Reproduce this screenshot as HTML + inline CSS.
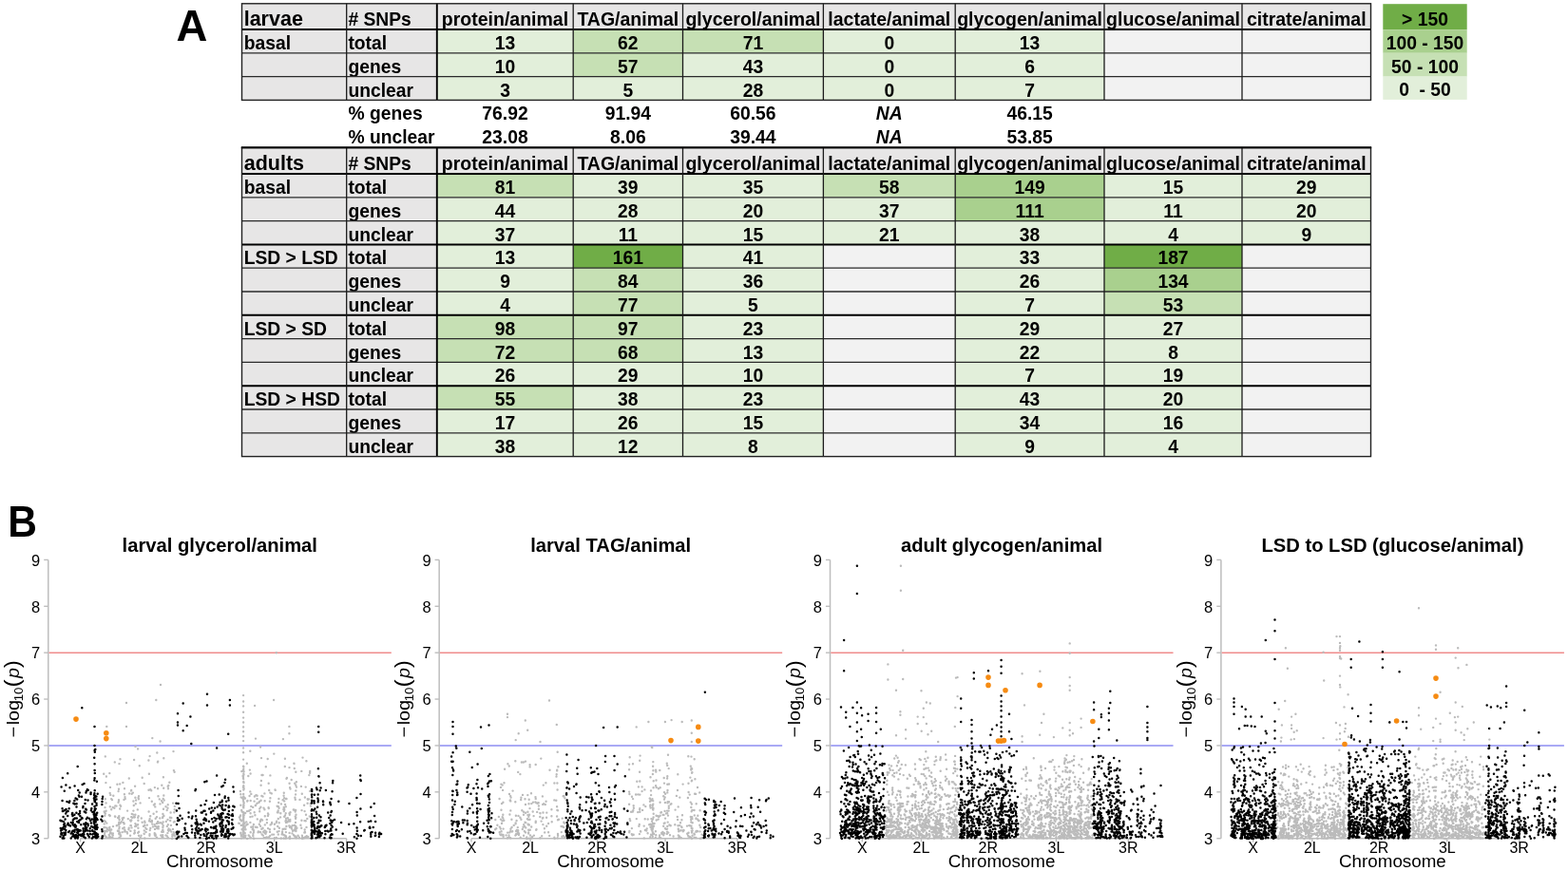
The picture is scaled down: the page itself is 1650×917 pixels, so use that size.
<!DOCTYPE html>
<html><head><meta charset="utf-8"><style>
html,body{margin:0;padding:0;background:#fff;width:1650px;height:917px;overflow:hidden}
svg{display:block}
</style></head><body>
<svg width="1650" height="917" viewBox="0 0 1650 917">
<g font-family="'Liberation Sans', Arial, sans-serif" fill="#000">
<rect x="254.5" y="3.8" width="1188.0" height="27.2" fill="#E7E6E6"/>
<rect x="254.5" y="31.0" width="205.3" height="74.4" fill="#E7E6E6"/>
<rect x="459.8" y="31.00" width="143.40" height="24.80" fill="#E2EFDA"/>
<rect x="603.2" y="31.00" width="115.30" height="24.80" fill="#C6E0B4"/>
<rect x="718.5" y="31.00" width="147.90" height="24.80" fill="#C6E0B4"/>
<rect x="866.4" y="31.00" width="138.80" height="24.80" fill="#E2EFDA"/>
<rect x="1005.2" y="31.00" width="156.80" height="24.80" fill="#E2EFDA"/>
<rect x="1162.0" y="31.00" width="145.00" height="24.80" fill="#F2F2F2"/>
<rect x="1307.0" y="31.00" width="135.50" height="24.80" fill="#F2F2F2"/>
<rect x="459.8" y="55.80" width="143.40" height="24.80" fill="#E2EFDA"/>
<rect x="603.2" y="55.80" width="115.30" height="24.80" fill="#C6E0B4"/>
<rect x="718.5" y="55.80" width="147.90" height="24.80" fill="#E2EFDA"/>
<rect x="866.4" y="55.80" width="138.80" height="24.80" fill="#E2EFDA"/>
<rect x="1005.2" y="55.80" width="156.80" height="24.80" fill="#E2EFDA"/>
<rect x="1162.0" y="55.80" width="145.00" height="24.80" fill="#F2F2F2"/>
<rect x="1307.0" y="55.80" width="135.50" height="24.80" fill="#F2F2F2"/>
<rect x="459.8" y="80.60" width="143.40" height="24.80" fill="#E2EFDA"/>
<rect x="603.2" y="80.60" width="115.30" height="24.80" fill="#E2EFDA"/>
<rect x="718.5" y="80.60" width="147.90" height="24.80" fill="#E2EFDA"/>
<rect x="866.4" y="80.60" width="138.80" height="24.80" fill="#E2EFDA"/>
<rect x="1005.2" y="80.60" width="156.80" height="24.80" fill="#E2EFDA"/>
<rect x="1162.0" y="80.60" width="145.00" height="24.80" fill="#F2F2F2"/>
<rect x="1307.0" y="80.60" width="135.50" height="24.80" fill="#F2F2F2"/>
<text x="256.7" y="27.10" font-size="21.5" font-weight="bold">larvae</text>
<text x="366.4" y="27.10" font-size="19.3" font-weight="bold"># SNPs</text>
<text x="531.50" y="27.10" font-size="19.5" font-weight="bold" text-anchor="middle">protein/animal</text>
<text x="660.85" y="27.10" font-size="19.5" font-weight="bold" text-anchor="middle">TAG/animal</text>
<text x="792.45" y="27.10" font-size="19.5" font-weight="bold" text-anchor="middle">glycerol/animal</text>
<text x="935.80" y="27.10" font-size="19.5" font-weight="bold" text-anchor="middle">lactate/animal</text>
<text x="1083.60" y="27.10" font-size="19.5" font-weight="bold" text-anchor="middle">glycogen/animal</text>
<text x="1234.50" y="27.10" font-size="19.5" font-weight="bold" text-anchor="middle">glucose/animal</text>
<text x="1374.75" y="27.10" font-size="19.5" font-weight="bold" text-anchor="middle">citrate/animal</text>
<text x="256.7" y="52.00" font-size="19.3" font-weight="bold">basal</text>
<text x="366.4" y="52.00" font-size="19.3" font-weight="bold">total</text>
<text x="531.50" y="52.00" font-size="19.3" font-weight="bold" text-anchor="middle">13</text>
<text x="660.85" y="52.00" font-size="19.3" font-weight="bold" text-anchor="middle">62</text>
<text x="792.45" y="52.00" font-size="19.3" font-weight="bold" text-anchor="middle">71</text>
<text x="935.80" y="52.00" font-size="19.3" font-weight="bold" text-anchor="middle">0</text>
<text x="1083.60" y="52.00" font-size="19.3" font-weight="bold" text-anchor="middle">13</text>
<text x="366.4" y="76.80" font-size="19.3" font-weight="bold">genes</text>
<text x="531.50" y="76.80" font-size="19.3" font-weight="bold" text-anchor="middle">10</text>
<text x="660.85" y="76.80" font-size="19.3" font-weight="bold" text-anchor="middle">57</text>
<text x="792.45" y="76.80" font-size="19.3" font-weight="bold" text-anchor="middle">43</text>
<text x="935.80" y="76.80" font-size="19.3" font-weight="bold" text-anchor="middle">0</text>
<text x="1083.60" y="76.80" font-size="19.3" font-weight="bold" text-anchor="middle">6</text>
<text x="366.4" y="101.60" font-size="19.3" font-weight="bold">unclear</text>
<text x="531.50" y="101.60" font-size="19.3" font-weight="bold" text-anchor="middle">3</text>
<text x="660.85" y="101.60" font-size="19.3" font-weight="bold" text-anchor="middle">5</text>
<text x="792.45" y="101.60" font-size="19.3" font-weight="bold" text-anchor="middle">28</text>
<text x="935.80" y="101.60" font-size="19.3" font-weight="bold" text-anchor="middle">0</text>
<text x="1083.60" y="101.60" font-size="19.3" font-weight="bold" text-anchor="middle">7</text>
<line x1="254.5" x2="1442.5" y1="31.00" y2="31.00" stroke="#000" stroke-width="2"/>
<line x1="254.5" x2="1442.5" y1="55.80" y2="55.80" stroke="#2a2a2a" stroke-width="1.3"/>
<line x1="254.5" x2="1442.5" y1="80.60" y2="80.60" stroke="#2a2a2a" stroke-width="1.3"/>
<line x1="364.7" x2="364.7" y1="3.8" y2="105.40" stroke="#1a1a1a" stroke-width="1.3"/>
<line x1="459.8" x2="459.8" y1="3.8" y2="105.40" stroke="#000" stroke-width="1.9"/>
<line x1="603.2" x2="603.2" y1="3.8" y2="105.40" stroke="#1a1a1a" stroke-width="1.3"/>
<line x1="718.5" x2="718.5" y1="3.8" y2="105.40" stroke="#1a1a1a" stroke-width="1.3"/>
<line x1="866.4" x2="866.4" y1="3.8" y2="105.40" stroke="#1a1a1a" stroke-width="1.3"/>
<line x1="1005.2" x2="1005.2" y1="3.8" y2="105.40" stroke="#1a1a1a" stroke-width="1.3"/>
<line x1="1162.0" x2="1162.0" y1="3.8" y2="105.40" stroke="#1a1a1a" stroke-width="1.3"/>
<line x1="1307.0" x2="1307.0" y1="3.8" y2="105.40" stroke="#1a1a1a" stroke-width="1.3"/>
<rect x="254.5" y="3.8" width="1188.0" height="101.60" fill="none" stroke="#222" stroke-width="1.4"/>
<text x="366.4" y="126.40" font-size="19.3" font-weight="bold">% genes</text>
<text x="531.50" y="126.40" font-size="19.3" font-weight="bold" text-anchor="middle">76.92</text>
<text x="660.85" y="126.40" font-size="19.3" font-weight="bold" text-anchor="middle">91.94</text>
<text x="792.45" y="126.40" font-size="19.3" font-weight="bold" text-anchor="middle">60.56</text>
<text x="935.80" y="126.40" font-size="19.3" font-weight="bold" font-style="italic" text-anchor="middle">NA</text>
<text x="1083.60" y="126.40" font-size="19.3" font-weight="bold" text-anchor="middle">46.15</text>
<text x="366.4" y="151.20" font-size="19.3" font-weight="bold">% unclear</text>
<text x="531.50" y="151.20" font-size="19.3" font-weight="bold" text-anchor="middle">23.08</text>
<text x="660.85" y="151.20" font-size="19.3" font-weight="bold" text-anchor="middle">8.06</text>
<text x="792.45" y="151.20" font-size="19.3" font-weight="bold" text-anchor="middle">39.44</text>
<text x="935.80" y="151.20" font-size="19.3" font-weight="bold" font-style="italic" text-anchor="middle">NA</text>
<text x="1083.60" y="151.20" font-size="19.3" font-weight="bold" text-anchor="middle">53.85</text>
<rect x="254.5" y="155.6" width="1188.0" height="27.400000000000006" fill="#E7E6E6"/>
<rect x="254.5" y="183.0" width="205.3" height="297.6" fill="#E7E6E6"/>
<rect x="459.8" y="183.00" width="143.40" height="24.80" fill="#C6E0B4"/>
<rect x="603.2" y="183.00" width="115.30" height="24.80" fill="#E2EFDA"/>
<rect x="718.5" y="183.00" width="147.90" height="24.80" fill="#E2EFDA"/>
<rect x="866.4" y="183.00" width="138.80" height="24.80" fill="#C6E0B4"/>
<rect x="1005.2" y="183.00" width="156.80" height="24.80" fill="#A9D08E"/>
<rect x="1162.0" y="183.00" width="145.00" height="24.80" fill="#E2EFDA"/>
<rect x="1307.0" y="183.00" width="135.50" height="24.80" fill="#E2EFDA"/>
<rect x="459.8" y="207.80" width="143.40" height="24.80" fill="#E2EFDA"/>
<rect x="603.2" y="207.80" width="115.30" height="24.80" fill="#E2EFDA"/>
<rect x="718.5" y="207.80" width="147.90" height="24.80" fill="#E2EFDA"/>
<rect x="866.4" y="207.80" width="138.80" height="24.80" fill="#E2EFDA"/>
<rect x="1005.2" y="207.80" width="156.80" height="24.80" fill="#A9D08E"/>
<rect x="1162.0" y="207.80" width="145.00" height="24.80" fill="#E2EFDA"/>
<rect x="1307.0" y="207.80" width="135.50" height="24.80" fill="#E2EFDA"/>
<rect x="459.8" y="232.60" width="143.40" height="24.80" fill="#E2EFDA"/>
<rect x="603.2" y="232.60" width="115.30" height="24.80" fill="#E2EFDA"/>
<rect x="718.5" y="232.60" width="147.90" height="24.80" fill="#E2EFDA"/>
<rect x="866.4" y="232.60" width="138.80" height="24.80" fill="#E2EFDA"/>
<rect x="1005.2" y="232.60" width="156.80" height="24.80" fill="#E2EFDA"/>
<rect x="1162.0" y="232.60" width="145.00" height="24.80" fill="#E2EFDA"/>
<rect x="1307.0" y="232.60" width="135.50" height="24.80" fill="#E2EFDA"/>
<rect x="459.8" y="257.40" width="143.40" height="24.80" fill="#E2EFDA"/>
<rect x="603.2" y="257.40" width="115.30" height="24.80" fill="#70AD47"/>
<rect x="718.5" y="257.40" width="147.90" height="24.80" fill="#E2EFDA"/>
<rect x="866.4" y="257.40" width="138.80" height="24.80" fill="#F2F2F2"/>
<rect x="1005.2" y="257.40" width="156.80" height="24.80" fill="#E2EFDA"/>
<rect x="1162.0" y="257.40" width="145.00" height="24.80" fill="#70AD47"/>
<rect x="1307.0" y="257.40" width="135.50" height="24.80" fill="#F2F2F2"/>
<rect x="459.8" y="282.20" width="143.40" height="24.80" fill="#E2EFDA"/>
<rect x="603.2" y="282.20" width="115.30" height="24.80" fill="#C6E0B4"/>
<rect x="718.5" y="282.20" width="147.90" height="24.80" fill="#E2EFDA"/>
<rect x="866.4" y="282.20" width="138.80" height="24.80" fill="#F2F2F2"/>
<rect x="1005.2" y="282.20" width="156.80" height="24.80" fill="#E2EFDA"/>
<rect x="1162.0" y="282.20" width="145.00" height="24.80" fill="#A9D08E"/>
<rect x="1307.0" y="282.20" width="135.50" height="24.80" fill="#F2F2F2"/>
<rect x="459.8" y="307.00" width="143.40" height="24.80" fill="#E2EFDA"/>
<rect x="603.2" y="307.00" width="115.30" height="24.80" fill="#C6E0B4"/>
<rect x="718.5" y="307.00" width="147.90" height="24.80" fill="#E2EFDA"/>
<rect x="866.4" y="307.00" width="138.80" height="24.80" fill="#F2F2F2"/>
<rect x="1005.2" y="307.00" width="156.80" height="24.80" fill="#E2EFDA"/>
<rect x="1162.0" y="307.00" width="145.00" height="24.80" fill="#C6E0B4"/>
<rect x="1307.0" y="307.00" width="135.50" height="24.80" fill="#F2F2F2"/>
<rect x="459.8" y="331.80" width="143.40" height="24.80" fill="#C6E0B4"/>
<rect x="603.2" y="331.80" width="115.30" height="24.80" fill="#C6E0B4"/>
<rect x="718.5" y="331.80" width="147.90" height="24.80" fill="#E2EFDA"/>
<rect x="866.4" y="331.80" width="138.80" height="24.80" fill="#F2F2F2"/>
<rect x="1005.2" y="331.80" width="156.80" height="24.80" fill="#E2EFDA"/>
<rect x="1162.0" y="331.80" width="145.00" height="24.80" fill="#E2EFDA"/>
<rect x="1307.0" y="331.80" width="135.50" height="24.80" fill="#F2F2F2"/>
<rect x="459.8" y="356.60" width="143.40" height="24.80" fill="#C6E0B4"/>
<rect x="603.2" y="356.60" width="115.30" height="24.80" fill="#C6E0B4"/>
<rect x="718.5" y="356.60" width="147.90" height="24.80" fill="#E2EFDA"/>
<rect x="866.4" y="356.60" width="138.80" height="24.80" fill="#F2F2F2"/>
<rect x="1005.2" y="356.60" width="156.80" height="24.80" fill="#E2EFDA"/>
<rect x="1162.0" y="356.60" width="145.00" height="24.80" fill="#E2EFDA"/>
<rect x="1307.0" y="356.60" width="135.50" height="24.80" fill="#F2F2F2"/>
<rect x="459.8" y="381.40" width="143.40" height="24.80" fill="#E2EFDA"/>
<rect x="603.2" y="381.40" width="115.30" height="24.80" fill="#E2EFDA"/>
<rect x="718.5" y="381.40" width="147.90" height="24.80" fill="#E2EFDA"/>
<rect x="866.4" y="381.40" width="138.80" height="24.80" fill="#F2F2F2"/>
<rect x="1005.2" y="381.40" width="156.80" height="24.80" fill="#E2EFDA"/>
<rect x="1162.0" y="381.40" width="145.00" height="24.80" fill="#E2EFDA"/>
<rect x="1307.0" y="381.40" width="135.50" height="24.80" fill="#F2F2F2"/>
<rect x="459.8" y="406.20" width="143.40" height="24.80" fill="#C6E0B4"/>
<rect x="603.2" y="406.20" width="115.30" height="24.80" fill="#E2EFDA"/>
<rect x="718.5" y="406.20" width="147.90" height="24.80" fill="#E2EFDA"/>
<rect x="866.4" y="406.20" width="138.80" height="24.80" fill="#F2F2F2"/>
<rect x="1005.2" y="406.20" width="156.80" height="24.80" fill="#E2EFDA"/>
<rect x="1162.0" y="406.20" width="145.00" height="24.80" fill="#E2EFDA"/>
<rect x="1307.0" y="406.20" width="135.50" height="24.80" fill="#F2F2F2"/>
<rect x="459.8" y="431.00" width="143.40" height="24.80" fill="#E2EFDA"/>
<rect x="603.2" y="431.00" width="115.30" height="24.80" fill="#E2EFDA"/>
<rect x="718.5" y="431.00" width="147.90" height="24.80" fill="#E2EFDA"/>
<rect x="866.4" y="431.00" width="138.80" height="24.80" fill="#F2F2F2"/>
<rect x="1005.2" y="431.00" width="156.80" height="24.80" fill="#E2EFDA"/>
<rect x="1162.0" y="431.00" width="145.00" height="24.80" fill="#E2EFDA"/>
<rect x="1307.0" y="431.00" width="135.50" height="24.80" fill="#F2F2F2"/>
<rect x="459.8" y="455.80" width="143.40" height="24.80" fill="#E2EFDA"/>
<rect x="603.2" y="455.80" width="115.30" height="24.80" fill="#E2EFDA"/>
<rect x="718.5" y="455.80" width="147.90" height="24.80" fill="#E2EFDA"/>
<rect x="866.4" y="455.80" width="138.80" height="24.80" fill="#F2F2F2"/>
<rect x="1005.2" y="455.80" width="156.80" height="24.80" fill="#E2EFDA"/>
<rect x="1162.0" y="455.80" width="145.00" height="24.80" fill="#E2EFDA"/>
<rect x="1307.0" y="455.80" width="135.50" height="24.80" fill="#F2F2F2"/>
<text x="256.7" y="179.10" font-size="21.5" font-weight="bold">adults</text>
<text x="366.4" y="179.10" font-size="19.3" font-weight="bold"># SNPs</text>
<text x="531.50" y="179.10" font-size="19.5" font-weight="bold" text-anchor="middle">protein/animal</text>
<text x="660.85" y="179.10" font-size="19.5" font-weight="bold" text-anchor="middle">TAG/animal</text>
<text x="792.45" y="179.10" font-size="19.5" font-weight="bold" text-anchor="middle">glycerol/animal</text>
<text x="935.80" y="179.10" font-size="19.5" font-weight="bold" text-anchor="middle">lactate/animal</text>
<text x="1083.60" y="179.10" font-size="19.5" font-weight="bold" text-anchor="middle">glycogen/animal</text>
<text x="1234.50" y="179.10" font-size="19.5" font-weight="bold" text-anchor="middle">glucose/animal</text>
<text x="1374.75" y="179.10" font-size="19.5" font-weight="bold" text-anchor="middle">citrate/animal</text>
<text x="256.7" y="204.00" font-size="19.3" font-weight="bold">basal</text>
<text x="366.4" y="204.00" font-size="19.3" font-weight="bold">total</text>
<text x="531.50" y="204.00" font-size="19.3" font-weight="bold" text-anchor="middle">81</text>
<text x="660.85" y="204.00" font-size="19.3" font-weight="bold" text-anchor="middle">39</text>
<text x="792.45" y="204.00" font-size="19.3" font-weight="bold" text-anchor="middle">35</text>
<text x="935.80" y="204.00" font-size="19.3" font-weight="bold" text-anchor="middle">58</text>
<text x="1083.60" y="204.00" font-size="19.3" font-weight="bold" text-anchor="middle">149</text>
<text x="1234.50" y="204.00" font-size="19.3" font-weight="bold" text-anchor="middle">15</text>
<text x="1374.75" y="204.00" font-size="19.3" font-weight="bold" text-anchor="middle">29</text>
<text x="366.4" y="228.80" font-size="19.3" font-weight="bold">genes</text>
<text x="531.50" y="228.80" font-size="19.3" font-weight="bold" text-anchor="middle">44</text>
<text x="660.85" y="228.80" font-size="19.3" font-weight="bold" text-anchor="middle">28</text>
<text x="792.45" y="228.80" font-size="19.3" font-weight="bold" text-anchor="middle">20</text>
<text x="935.80" y="228.80" font-size="19.3" font-weight="bold" text-anchor="middle">37</text>
<text x="1083.60" y="228.80" font-size="19.3" font-weight="bold" text-anchor="middle">111</text>
<text x="1234.50" y="228.80" font-size="19.3" font-weight="bold" text-anchor="middle">11</text>
<text x="1374.75" y="228.80" font-size="19.3" font-weight="bold" text-anchor="middle">20</text>
<text x="366.4" y="253.60" font-size="19.3" font-weight="bold">unclear</text>
<text x="531.50" y="253.60" font-size="19.3" font-weight="bold" text-anchor="middle">37</text>
<text x="660.85" y="253.60" font-size="19.3" font-weight="bold" text-anchor="middle">11</text>
<text x="792.45" y="253.60" font-size="19.3" font-weight="bold" text-anchor="middle">15</text>
<text x="935.80" y="253.60" font-size="19.3" font-weight="bold" text-anchor="middle">21</text>
<text x="1083.60" y="253.60" font-size="19.3" font-weight="bold" text-anchor="middle">38</text>
<text x="1234.50" y="253.60" font-size="19.3" font-weight="bold" text-anchor="middle">4</text>
<text x="1374.75" y="253.60" font-size="19.3" font-weight="bold" text-anchor="middle">9</text>
<text x="256.7" y="278.40" font-size="19.3" font-weight="bold">LSD &gt; LSD</text>
<text x="366.4" y="278.40" font-size="19.3" font-weight="bold">total</text>
<text x="531.50" y="278.40" font-size="19.3" font-weight="bold" text-anchor="middle">13</text>
<text x="660.85" y="278.40" font-size="19.3" font-weight="bold" text-anchor="middle">161</text>
<text x="792.45" y="278.40" font-size="19.3" font-weight="bold" text-anchor="middle">41</text>
<text x="1083.60" y="278.40" font-size="19.3" font-weight="bold" text-anchor="middle">33</text>
<text x="1234.50" y="278.40" font-size="19.3" font-weight="bold" text-anchor="middle">187</text>
<text x="366.4" y="303.20" font-size="19.3" font-weight="bold">genes</text>
<text x="531.50" y="303.20" font-size="19.3" font-weight="bold" text-anchor="middle">9</text>
<text x="660.85" y="303.20" font-size="19.3" font-weight="bold" text-anchor="middle">84</text>
<text x="792.45" y="303.20" font-size="19.3" font-weight="bold" text-anchor="middle">36</text>
<text x="1083.60" y="303.20" font-size="19.3" font-weight="bold" text-anchor="middle">26</text>
<text x="1234.50" y="303.20" font-size="19.3" font-weight="bold" text-anchor="middle">134</text>
<text x="366.4" y="328.00" font-size="19.3" font-weight="bold">unclear</text>
<text x="531.50" y="328.00" font-size="19.3" font-weight="bold" text-anchor="middle">4</text>
<text x="660.85" y="328.00" font-size="19.3" font-weight="bold" text-anchor="middle">77</text>
<text x="792.45" y="328.00" font-size="19.3" font-weight="bold" text-anchor="middle">5</text>
<text x="1083.60" y="328.00" font-size="19.3" font-weight="bold" text-anchor="middle">7</text>
<text x="1234.50" y="328.00" font-size="19.3" font-weight="bold" text-anchor="middle">53</text>
<text x="256.7" y="352.80" font-size="19.3" font-weight="bold">LSD &gt; SD</text>
<text x="366.4" y="352.80" font-size="19.3" font-weight="bold">total</text>
<text x="531.50" y="352.80" font-size="19.3" font-weight="bold" text-anchor="middle">98</text>
<text x="660.85" y="352.80" font-size="19.3" font-weight="bold" text-anchor="middle">97</text>
<text x="792.45" y="352.80" font-size="19.3" font-weight="bold" text-anchor="middle">23</text>
<text x="1083.60" y="352.80" font-size="19.3" font-weight="bold" text-anchor="middle">29</text>
<text x="1234.50" y="352.80" font-size="19.3" font-weight="bold" text-anchor="middle">27</text>
<text x="366.4" y="377.60" font-size="19.3" font-weight="bold">genes</text>
<text x="531.50" y="377.60" font-size="19.3" font-weight="bold" text-anchor="middle">72</text>
<text x="660.85" y="377.60" font-size="19.3" font-weight="bold" text-anchor="middle">68</text>
<text x="792.45" y="377.60" font-size="19.3" font-weight="bold" text-anchor="middle">13</text>
<text x="1083.60" y="377.60" font-size="19.3" font-weight="bold" text-anchor="middle">22</text>
<text x="1234.50" y="377.60" font-size="19.3" font-weight="bold" text-anchor="middle">8</text>
<text x="366.4" y="402.40" font-size="19.3" font-weight="bold">unclear</text>
<text x="531.50" y="402.40" font-size="19.3" font-weight="bold" text-anchor="middle">26</text>
<text x="660.85" y="402.40" font-size="19.3" font-weight="bold" text-anchor="middle">29</text>
<text x="792.45" y="402.40" font-size="19.3" font-weight="bold" text-anchor="middle">10</text>
<text x="1083.60" y="402.40" font-size="19.3" font-weight="bold" text-anchor="middle">7</text>
<text x="1234.50" y="402.40" font-size="19.3" font-weight="bold" text-anchor="middle">19</text>
<text x="256.7" y="427.20" font-size="19.3" font-weight="bold">LSD &gt; HSD</text>
<text x="366.4" y="427.20" font-size="19.3" font-weight="bold">total</text>
<text x="531.50" y="427.20" font-size="19.3" font-weight="bold" text-anchor="middle">55</text>
<text x="660.85" y="427.20" font-size="19.3" font-weight="bold" text-anchor="middle">38</text>
<text x="792.45" y="427.20" font-size="19.3" font-weight="bold" text-anchor="middle">23</text>
<text x="1083.60" y="427.20" font-size="19.3" font-weight="bold" text-anchor="middle">43</text>
<text x="1234.50" y="427.20" font-size="19.3" font-weight="bold" text-anchor="middle">20</text>
<text x="366.4" y="452.00" font-size="19.3" font-weight="bold">genes</text>
<text x="531.50" y="452.00" font-size="19.3" font-weight="bold" text-anchor="middle">17</text>
<text x="660.85" y="452.00" font-size="19.3" font-weight="bold" text-anchor="middle">26</text>
<text x="792.45" y="452.00" font-size="19.3" font-weight="bold" text-anchor="middle">15</text>
<text x="1083.60" y="452.00" font-size="19.3" font-weight="bold" text-anchor="middle">34</text>
<text x="1234.50" y="452.00" font-size="19.3" font-weight="bold" text-anchor="middle">16</text>
<text x="366.4" y="476.80" font-size="19.3" font-weight="bold">unclear</text>
<text x="531.50" y="476.80" font-size="19.3" font-weight="bold" text-anchor="middle">38</text>
<text x="660.85" y="476.80" font-size="19.3" font-weight="bold" text-anchor="middle">12</text>
<text x="792.45" y="476.80" font-size="19.3" font-weight="bold" text-anchor="middle">8</text>
<text x="1083.60" y="476.80" font-size="19.3" font-weight="bold" text-anchor="middle">9</text>
<text x="1234.50" y="476.80" font-size="19.3" font-weight="bold" text-anchor="middle">4</text>
<line x1="254.5" x2="1442.5" y1="183.00" y2="183.00" stroke="#000" stroke-width="2"/>
<line x1="254.5" x2="1442.5" y1="207.80" y2="207.80" stroke="#2a2a2a" stroke-width="1.3"/>
<line x1="254.5" x2="1442.5" y1="232.60" y2="232.60" stroke="#2a2a2a" stroke-width="1.3"/>
<line x1="254.5" x2="1442.5" y1="257.40" y2="257.40" stroke="#000" stroke-width="2"/>
<line x1="254.5" x2="1442.5" y1="282.20" y2="282.20" stroke="#2a2a2a" stroke-width="1.3"/>
<line x1="254.5" x2="1442.5" y1="307.00" y2="307.00" stroke="#2a2a2a" stroke-width="1.3"/>
<line x1="254.5" x2="1442.5" y1="331.80" y2="331.80" stroke="#000" stroke-width="2"/>
<line x1="254.5" x2="1442.5" y1="356.60" y2="356.60" stroke="#2a2a2a" stroke-width="1.3"/>
<line x1="254.5" x2="1442.5" y1="381.40" y2="381.40" stroke="#2a2a2a" stroke-width="1.3"/>
<line x1="254.5" x2="1442.5" y1="406.20" y2="406.20" stroke="#000" stroke-width="2"/>
<line x1="254.5" x2="1442.5" y1="431.00" y2="431.00" stroke="#2a2a2a" stroke-width="1.3"/>
<line x1="254.5" x2="1442.5" y1="455.80" y2="455.80" stroke="#2a2a2a" stroke-width="1.3"/>
<line x1="364.7" x2="364.7" y1="155.6" y2="480.60" stroke="#1a1a1a" stroke-width="1.3"/>
<line x1="459.8" x2="459.8" y1="155.6" y2="480.60" stroke="#000" stroke-width="1.9"/>
<line x1="603.2" x2="603.2" y1="155.6" y2="480.60" stroke="#1a1a1a" stroke-width="1.3"/>
<line x1="718.5" x2="718.5" y1="155.6" y2="480.60" stroke="#1a1a1a" stroke-width="1.3"/>
<line x1="866.4" x2="866.4" y1="155.6" y2="480.60" stroke="#1a1a1a" stroke-width="1.3"/>
<line x1="1005.2" x2="1005.2" y1="155.6" y2="480.60" stroke="#1a1a1a" stroke-width="1.3"/>
<line x1="1162.0" x2="1162.0" y1="155.6" y2="480.60" stroke="#1a1a1a" stroke-width="1.3"/>
<line x1="1307.0" x2="1307.0" y1="155.6" y2="480.60" stroke="#1a1a1a" stroke-width="1.3"/>
<rect x="254.5" y="155.6" width="1188.0" height="325.00" fill="none" stroke="#222" stroke-width="1.4"/>
<line x1="253.8" x2="1443.2" y1="155.2" y2="155.2" stroke="#000" stroke-width="2.1"/>
<rect x="1455.3" y="4.2" width="88.4" height="27.00" fill="#70AD47"/>
<text x="1499.5" y="27.40" font-size="19.3" font-weight="bold" text-anchor="middle" xml:space="preserve">&gt; 150</text>
<rect x="1455.3" y="31.2" width="88.4" height="24.60" fill="#A9D08E"/>
<text x="1499.5" y="52.00" font-size="19.3" font-weight="bold" text-anchor="middle" xml:space="preserve">100 - 150</text>
<rect x="1455.3" y="55.8" width="88.4" height="24.80" fill="#C6E0B4"/>
<text x="1499.5" y="76.80" font-size="19.3" font-weight="bold" text-anchor="middle" xml:space="preserve">50 - 100</text>
<rect x="1455.3" y="80.6" width="88.4" height="24.30" fill="#E2EFDA"/>
<text x="1499.5" y="101.10" font-size="19.3" font-weight="bold" text-anchor="middle" xml:space="preserve">0  - 50</text>
<text x="185.6" y="42.5" font-size="45.5" font-weight="bold">A</text>
<text transform="translate(8.3,565.1) scale(0.93,1)" font-size="45.8" font-weight="bold">B</text>
</g>
<g font-family="'Liberation Sans', Arial, sans-serif">
<line x1="50.80" x2="50.80" y1="589.42" y2="882.70" stroke="#BDBDBD" stroke-width="1.5"/>
<line x1="46.20" x2="50.80" y1="882.70" y2="882.70" stroke="#BDBDBD" stroke-width="1.4"/>
<text x="42.20" y="888.90" font-size="16.5" text-anchor="end">3</text>
<line x1="46.20" x2="50.80" y1="833.82" y2="833.82" stroke="#BDBDBD" stroke-width="1.4"/>
<text x="42.20" y="840.02" font-size="16.5" text-anchor="end">4</text>
<line x1="46.20" x2="50.80" y1="784.94" y2="784.94" stroke="#BDBDBD" stroke-width="1.4"/>
<text x="42.20" y="791.14" font-size="16.5" text-anchor="end">5</text>
<line x1="46.20" x2="50.80" y1="736.06" y2="736.06" stroke="#BDBDBD" stroke-width="1.4"/>
<text x="42.20" y="742.26" font-size="16.5" text-anchor="end">6</text>
<line x1="46.20" x2="50.80" y1="687.18" y2="687.18" stroke="#BDBDBD" stroke-width="1.4"/>
<text x="42.20" y="693.38" font-size="16.5" text-anchor="end">7</text>
<line x1="46.20" x2="50.80" y1="638.30" y2="638.30" stroke="#BDBDBD" stroke-width="1.4"/>
<text x="42.20" y="644.50" font-size="16.5" text-anchor="end">8</text>
<line x1="46.20" x2="50.80" y1="589.42" y2="589.42" stroke="#BDBDBD" stroke-width="1.4"/>
<text x="42.20" y="595.62" font-size="16.5" text-anchor="end">9</text>
<line x1="84.60" x2="364.60" y1="882.70" y2="882.70" stroke="#BDBDBD" stroke-width="1.4"/>
<line x1="84.60" x2="84.60" y1="882.70" y2="886.50" stroke="#BDBDBD" stroke-width="1.4"/>
<text x="84.60" y="897.5" font-size="16" text-anchor="middle">X</text>
<line x1="146.70" x2="146.70" y1="882.70" y2="886.50" stroke="#BDBDBD" stroke-width="1.4"/>
<text x="146.70" y="897.5" font-size="16" text-anchor="middle">2L</text>
<line x1="217.10" x2="217.10" y1="882.70" y2="886.50" stroke="#BDBDBD" stroke-width="1.4"/>
<text x="217.10" y="897.5" font-size="16" text-anchor="middle">2R</text>
<line x1="288.70" x2="288.70" y1="882.70" y2="886.50" stroke="#BDBDBD" stroke-width="1.4"/>
<text x="288.70" y="897.5" font-size="16" text-anchor="middle">3L</text>
<line x1="364.60" x2="364.60" y1="882.70" y2="886.50" stroke="#BDBDBD" stroke-width="1.4"/>
<text x="364.60" y="897.5" font-size="16" text-anchor="middle">3R</text>
<text x="231.30" y="912.5" font-size="18.8" text-anchor="middle">Chromosome</text>
<text x="231.30" y="580.6" font-size="20.2" font-weight="bold" text-anchor="middle">larval glycerol/animal</text>
<g transform="translate(19.50,776.2) rotate(-90) scale(1.1,1)"><text x="-0.3" y="0" font-size="18">&#8722;</text><text x="11.7" y="0" font-size="18">log</text><text x="34.4" y="4.2" font-size="12">10</text><text x="47.9" y="0.6" font-size="22">(</text><text x="56.5" y="0" font-size="18" font-style="italic">p</text><text x="66.3" y="0.6" font-size="22">)</text></g>
<line x1="462.17" x2="462.17" y1="589.42" y2="882.70" stroke="#BDBDBD" stroke-width="1.5"/>
<line x1="457.57" x2="462.17" y1="882.70" y2="882.70" stroke="#BDBDBD" stroke-width="1.4"/>
<text x="453.57" y="888.90" font-size="16.5" text-anchor="end">3</text>
<line x1="457.57" x2="462.17" y1="833.82" y2="833.82" stroke="#BDBDBD" stroke-width="1.4"/>
<text x="453.57" y="840.02" font-size="16.5" text-anchor="end">4</text>
<line x1="457.57" x2="462.17" y1="784.94" y2="784.94" stroke="#BDBDBD" stroke-width="1.4"/>
<text x="453.57" y="791.14" font-size="16.5" text-anchor="end">5</text>
<line x1="457.57" x2="462.17" y1="736.06" y2="736.06" stroke="#BDBDBD" stroke-width="1.4"/>
<text x="453.57" y="742.26" font-size="16.5" text-anchor="end">6</text>
<line x1="457.57" x2="462.17" y1="687.18" y2="687.18" stroke="#BDBDBD" stroke-width="1.4"/>
<text x="453.57" y="693.38" font-size="16.5" text-anchor="end">7</text>
<line x1="457.57" x2="462.17" y1="638.30" y2="638.30" stroke="#BDBDBD" stroke-width="1.4"/>
<text x="453.57" y="644.50" font-size="16.5" text-anchor="end">8</text>
<line x1="457.57" x2="462.17" y1="589.42" y2="589.42" stroke="#BDBDBD" stroke-width="1.4"/>
<text x="453.57" y="595.62" font-size="16.5" text-anchor="end">9</text>
<line x1="495.97" x2="775.97" y1="882.70" y2="882.70" stroke="#BDBDBD" stroke-width="1.4"/>
<line x1="495.97" x2="495.97" y1="882.70" y2="886.50" stroke="#BDBDBD" stroke-width="1.4"/>
<text x="495.97" y="897.5" font-size="16" text-anchor="middle">X</text>
<line x1="558.07" x2="558.07" y1="882.70" y2="886.50" stroke="#BDBDBD" stroke-width="1.4"/>
<text x="558.07" y="897.5" font-size="16" text-anchor="middle">2L</text>
<line x1="628.47" x2="628.47" y1="882.70" y2="886.50" stroke="#BDBDBD" stroke-width="1.4"/>
<text x="628.47" y="897.5" font-size="16" text-anchor="middle">2R</text>
<line x1="700.07" x2="700.07" y1="882.70" y2="886.50" stroke="#BDBDBD" stroke-width="1.4"/>
<text x="700.07" y="897.5" font-size="16" text-anchor="middle">3L</text>
<line x1="775.97" x2="775.97" y1="882.70" y2="886.50" stroke="#BDBDBD" stroke-width="1.4"/>
<text x="775.97" y="897.5" font-size="16" text-anchor="middle">3R</text>
<text x="642.67" y="912.5" font-size="18.8" text-anchor="middle">Chromosome</text>
<text x="642.67" y="580.6" font-size="20.2" font-weight="bold" text-anchor="middle">larval TAG/animal</text>
<g transform="translate(430.87,776.2) rotate(-90) scale(1.1,1)"><text x="-0.3" y="0" font-size="18">&#8722;</text><text x="11.7" y="0" font-size="18">log</text><text x="34.4" y="4.2" font-size="12">10</text><text x="47.9" y="0.6" font-size="22">(</text><text x="56.5" y="0" font-size="18" font-style="italic">p</text><text x="66.3" y="0.6" font-size="22">)</text></g>
<line x1="873.54" x2="873.54" y1="589.42" y2="882.70" stroke="#BDBDBD" stroke-width="1.5"/>
<line x1="868.94" x2="873.54" y1="882.70" y2="882.70" stroke="#BDBDBD" stroke-width="1.4"/>
<text x="864.94" y="888.90" font-size="16.5" text-anchor="end">3</text>
<line x1="868.94" x2="873.54" y1="833.82" y2="833.82" stroke="#BDBDBD" stroke-width="1.4"/>
<text x="864.94" y="840.02" font-size="16.5" text-anchor="end">4</text>
<line x1="868.94" x2="873.54" y1="784.94" y2="784.94" stroke="#BDBDBD" stroke-width="1.4"/>
<text x="864.94" y="791.14" font-size="16.5" text-anchor="end">5</text>
<line x1="868.94" x2="873.54" y1="736.06" y2="736.06" stroke="#BDBDBD" stroke-width="1.4"/>
<text x="864.94" y="742.26" font-size="16.5" text-anchor="end">6</text>
<line x1="868.94" x2="873.54" y1="687.18" y2="687.18" stroke="#BDBDBD" stroke-width="1.4"/>
<text x="864.94" y="693.38" font-size="16.5" text-anchor="end">7</text>
<line x1="868.94" x2="873.54" y1="638.30" y2="638.30" stroke="#BDBDBD" stroke-width="1.4"/>
<text x="864.94" y="644.50" font-size="16.5" text-anchor="end">8</text>
<line x1="868.94" x2="873.54" y1="589.42" y2="589.42" stroke="#BDBDBD" stroke-width="1.4"/>
<text x="864.94" y="595.62" font-size="16.5" text-anchor="end">9</text>
<line x1="907.34" x2="1187.34" y1="882.70" y2="882.70" stroke="#BDBDBD" stroke-width="1.4"/>
<line x1="907.34" x2="907.34" y1="882.70" y2="886.50" stroke="#BDBDBD" stroke-width="1.4"/>
<text x="907.34" y="897.5" font-size="16" text-anchor="middle">X</text>
<line x1="969.44" x2="969.44" y1="882.70" y2="886.50" stroke="#BDBDBD" stroke-width="1.4"/>
<text x="969.44" y="897.5" font-size="16" text-anchor="middle">2L</text>
<line x1="1039.84" x2="1039.84" y1="882.70" y2="886.50" stroke="#BDBDBD" stroke-width="1.4"/>
<text x="1039.84" y="897.5" font-size="16" text-anchor="middle">2R</text>
<line x1="1111.44" x2="1111.44" y1="882.70" y2="886.50" stroke="#BDBDBD" stroke-width="1.4"/>
<text x="1111.44" y="897.5" font-size="16" text-anchor="middle">3L</text>
<line x1="1187.34" x2="1187.34" y1="882.70" y2="886.50" stroke="#BDBDBD" stroke-width="1.4"/>
<text x="1187.34" y="897.5" font-size="16" text-anchor="middle">3R</text>
<text x="1054.04" y="912.5" font-size="18.8" text-anchor="middle">Chromosome</text>
<text x="1054.04" y="580.6" font-size="20.2" font-weight="bold" text-anchor="middle">adult glycogen/animal</text>
<g transform="translate(842.24,776.2) rotate(-90) scale(1.1,1)"><text x="-0.3" y="0" font-size="18">&#8722;</text><text x="11.7" y="0" font-size="18">log</text><text x="34.4" y="4.2" font-size="12">10</text><text x="47.9" y="0.6" font-size="22">(</text><text x="56.5" y="0" font-size="18" font-style="italic">p</text><text x="66.3" y="0.6" font-size="22">)</text></g>
<line x1="1284.91" x2="1284.91" y1="589.42" y2="882.70" stroke="#BDBDBD" stroke-width="1.5"/>
<line x1="1280.31" x2="1284.91" y1="882.70" y2="882.70" stroke="#BDBDBD" stroke-width="1.4"/>
<text x="1276.31" y="888.90" font-size="16.5" text-anchor="end">3</text>
<line x1="1280.31" x2="1284.91" y1="833.82" y2="833.82" stroke="#BDBDBD" stroke-width="1.4"/>
<text x="1276.31" y="840.02" font-size="16.5" text-anchor="end">4</text>
<line x1="1280.31" x2="1284.91" y1="784.94" y2="784.94" stroke="#BDBDBD" stroke-width="1.4"/>
<text x="1276.31" y="791.14" font-size="16.5" text-anchor="end">5</text>
<line x1="1280.31" x2="1284.91" y1="736.06" y2="736.06" stroke="#BDBDBD" stroke-width="1.4"/>
<text x="1276.31" y="742.26" font-size="16.5" text-anchor="end">6</text>
<line x1="1280.31" x2="1284.91" y1="687.18" y2="687.18" stroke="#BDBDBD" stroke-width="1.4"/>
<text x="1276.31" y="693.38" font-size="16.5" text-anchor="end">7</text>
<line x1="1280.31" x2="1284.91" y1="638.30" y2="638.30" stroke="#BDBDBD" stroke-width="1.4"/>
<text x="1276.31" y="644.50" font-size="16.5" text-anchor="end">8</text>
<line x1="1280.31" x2="1284.91" y1="589.42" y2="589.42" stroke="#BDBDBD" stroke-width="1.4"/>
<text x="1276.31" y="595.62" font-size="16.5" text-anchor="end">9</text>
<line x1="1318.71" x2="1598.71" y1="882.70" y2="882.70" stroke="#BDBDBD" stroke-width="1.4"/>
<line x1="1318.71" x2="1318.71" y1="882.70" y2="886.50" stroke="#BDBDBD" stroke-width="1.4"/>
<text x="1318.71" y="897.5" font-size="16" text-anchor="middle">X</text>
<line x1="1380.81" x2="1380.81" y1="882.70" y2="886.50" stroke="#BDBDBD" stroke-width="1.4"/>
<text x="1380.81" y="897.5" font-size="16" text-anchor="middle">2L</text>
<line x1="1451.21" x2="1451.21" y1="882.70" y2="886.50" stroke="#BDBDBD" stroke-width="1.4"/>
<text x="1451.21" y="897.5" font-size="16" text-anchor="middle">2R</text>
<line x1="1522.81" x2="1522.81" y1="882.70" y2="886.50" stroke="#BDBDBD" stroke-width="1.4"/>
<text x="1522.81" y="897.5" font-size="16" text-anchor="middle">3L</text>
<line x1="1598.71" x2="1598.71" y1="882.70" y2="886.50" stroke="#BDBDBD" stroke-width="1.4"/>
<text x="1598.71" y="897.5" font-size="16" text-anchor="middle">3R</text>
<text x="1465.41" y="912.5" font-size="18.8" text-anchor="middle">Chromosome</text>
<text x="1465.41" y="580.6" font-size="20.2" font-weight="bold" text-anchor="middle">LSD to LSD (glucose/animal)</text>
<g transform="translate(1253.61,776.2) rotate(-90) scale(1.1,1)"><text x="-0.3" y="0" font-size="18">&#8722;</text><text x="11.7" y="0" font-size="18">log</text><text x="34.4" y="4.2" font-size="12">10</text><text x="47.9" y="0.6" font-size="22">(</text><text x="56.5" y="0" font-size="18" font-style="italic">p</text><text x="66.3" y="0.6" font-size="22">)</text></g>
</g>
<line x1="51.50" x2="411.80" y1="687.18" y2="687.18" stroke="#F08C8C" stroke-width="1.6"/>
<line x1="51.50" x2="411.80" y1="784.94" y2="784.94" stroke="#8C8CF2" stroke-width="1.6"/>
<line x1="462.87" x2="823.17" y1="687.18" y2="687.18" stroke="#F08C8C" stroke-width="1.6"/>
<line x1="462.87" x2="823.17" y1="784.94" y2="784.94" stroke="#8C8CF2" stroke-width="1.6"/>
<line x1="874.24" x2="1234.54" y1="687.18" y2="687.18" stroke="#F08C8C" stroke-width="1.6"/>
<line x1="874.24" x2="1234.54" y1="784.94" y2="784.94" stroke="#8C8CF2" stroke-width="1.6"/>
<line x1="1285.61" x2="1645.91" y1="687.18" y2="687.18" stroke="#F08C8C" stroke-width="1.6"/>
<line x1="1285.61" x2="1645.91" y1="784.94" y2="784.94" stroke="#8C8CF2" stroke-width="1.6"/>
<path d="M140.4 843.5h0M172.3 798.2h0M144.8 852.4h0M136.2 835.4h0M114.8 858.1h0M124.8 868.2h0M131.7 840.9h0M157.5 878.3h0M165.2 872.1h0M152.2 868.8h0M181.1 882.9h0M175.7 853.0h0M151.0 869.9h0M151.6 877.8h0M135.4 873.3h0M154.9 868.6h0M171.4 857.0h0M130.7 871.3h0M114.5 881.8h0M127.2 880.2h0M145.2 876.7h0M158.2 859.3h0M146.0 879.8h0M166.1 830.3h0M141.1 800.0h0M166.5 838.3h0M159.9 864.9h0M169.0 866.3h0M138.3 863.5h0M112.7 875.3h0M131.5 839.1h0M164.9 870.5h0M165.9 802.4h0M174.5 849.2h0M165.9 865.2h0M141.2 877.5h0M130.8 867.1h0M176.8 882.0h0M171.8 875.7h0M179.2 873.7h0M145.1 788.4h0M114.7 879.0h0M110.1 855.5h0M110.8 796.4h0M145.4 863.7h0M111.0 880.4h0M171.3 873.6h0M137.0 863.6h0M125.6 863.0h0M116.4 881.5h0M109.3 871.2h0M122.5 848.6h0M141.9 876.8h0M116.0 828.9h0M177.5 874.7h0M115.8 858.8h0M176.5 862.9h0M110.1 878.9h0M182.9 865.5h0M127.9 865.2h0M146.0 838.3h0M134.0 877.4h0M171.4 871.0h0M131.3 873.7h0M153.6 876.0h0M145.9 841.2h0M180.3 861.0h0M125.2 860.6h0M115.3 814.1h0M125.4 878.2h0M163.3 849.4h0M159.4 865.3h0M123.9 874.8h0M117.2 873.5h0M142.2 870.0h0M130.0 866.0h0M183.6 812.7h0M162.8 878.7h0M138.5 871.4h0M118.9 877.4h0M178.3 823.7h0M110.0 875.0h0M177.3 827.0h0M111.9 881.1h0M120.4 850.8h0M163.0 872.9h0M162.9 829.1h0M151.7 878.1h0M171.2 845.0h0M138.2 860.1h0M149.7 865.8h0M157.6 796.1h0M172.4 858.9h0M143.2 869.7h0M172.0 851.8h0M110.5 850.1h0M176.5 850.7h0M152.3 882.5h0M126.3 876.6h0M129.0 862.9h0M168.5 846.4h0M145.6 840.0h0M137.4 874.9h0M117.2 852.2h0M166.2 801.7h0M151.8 874.4h0M125.0 843.0h0M134.1 853.6h0M125.1 867.4h0M156.6 854.5h0M123.4 825.7h0M179.6 855.5h0M142.4 857.8h0M159.9 863.9h0M156.4 800.5h0M165.0 860.1h0M139.2 860.8h0M167.8 841.4h0M154.3 872.9h0M174.8 864.9h0M145.1 868.3h0M164.9 870.4h0M109.7 867.4h0M138.8 856.9h0M165.7 871.6h0M163.3 869.9h0M121.0 859.4h0M128.8 861.5h0M121.3 848.4h0M141.7 874.5h0M118.7 850.0h0M142.4 839.8h0M120.8 802.4h0M163.7 861.8h0M118.8 879.6h0M125.0 842.1h0M125.6 870.8h0M111.6 845.4h0M160.3 867.6h0M175.8 869.9h0M157.0 864.3h0M171.4 874.0h0M137.9 869.1h0M116.7 876.9h0M119.0 870.1h0M138.7 835.8h0M118.4 881.9h0M112.6 871.7h0M172.2 829.7h0M116.0 877.3h0M183.5 878.8h0M122.8 869.3h0M125.6 881.6h0M134.8 862.1h0M112.8 872.9h0M130.2 860.9h0M164.8 854.6h0M158.3 831.2h0M146.8 806.2h0M115.8 874.0h0M118.0 842.1h0M125.4 872.6h0M177.0 830.2h0M125.0 830.7h0M111.1 875.0h0M138.0 832.5h0M141.2 860.0h0M152.5 865.9h0M183.7 852.2h0M110.9 856.5h0M157.8 874.1h0M110.8 841.2h0M158.3 871.9h0M126.7 866.6h0M182.1 845.6h0M169.3 879.5h0M183.8 848.9h0M135.8 819.5h0M141.3 860.5h0M141.9 860.2h0M111.4 824.1h0M162.7 877.2h0M157.0 840.1h0M171.4 859.9h0M176.8 868.2h0M165.3 792.5h0M149.7 818.7h0M170.2 875.8h0M166.9 866.6h0M124.6 833.1h0M142.8 846.3h0M170.8 867.2h0M130.5 841.9h0M110.0 864.3h0M176.4 877.1h0M171.6 865.4h0M110.9 864.9h0M159.2 832.2h0M137.4 869.1h0M126.2 825.4h0M115.2 881.6h0M115.4 870.9h0M160.9 870.4h0M162.7 868.2h0M115.2 880.1h0M118.5 879.5h0M115.7 859.1h0M109.7 854.5h0M182.5 791.1h0M140.2 857.6h0M126.2 851.5h0M184.2 880.2h0M130.6 867.4h0M126.5 799.3h0M139.9 834.6h0M126.4 847.6h0M168.3 861.4h0M117.2 841.1h0M131.0 830.2h0M128.8 876.1h0M111.6 853.7h0M148.8 861.5h0M125.5 865.6h0M126.6 878.7h0M152.4 869.0h0M148.5 879.7h0M124.4 861.0h0M115.7 834.9h0M171.4 881.2h0M171.9 818.3h0M119.3 837.8h0M142.1 827.8h0M137.1 879.7h0M116.3 836.9h0M157.6 862.3h0M125.3 868.1h0M115.4 873.3h0M181.3 880.5h0M163.4 880.1h0M145.7 859.2h0M138.2 832.0h0M112.3 866.6h0M110.2 870.9h0M180.2 875.6h0M165.0 881.6h0M130.9 836.2h0M117.1 877.5h0M159.8 843.7h0M166.7 872.4h0M125.2 877.5h0M156.9 814.8h0M183.0 879.2h0M115.9 881.9h0M129.2 872.3h0M115.8 849.3h0M170.1 843.2h0M166.4 865.2h0M182.0 872.9h0M178.9 860.7h0M174.6 879.5h0M140.4 853.6h0M176.7 827.9h0M179.2 864.0h0M147.7 881.6h0M121.3 859.8h0M163.8 879.2h0M124.1 861.0h0M142.5 785.9h0M143.4 868.5h0M163.3 877.9h0M151.7 825.0h0M125.2 865.9h0M179.9 868.9h0M170.3 826.8h0M116.3 876.1h0M161.9 847.4h0M183.8 865.0h0M171.4 874.3h0M181.4 878.5h0M140.8 848.0h0M161.6 856.8h0M127.1 848.7h0M137.7 864.6h0M182.7 876.1h0M132.0 875.4h0M183.3 855.2h0M142.4 867.1h0M124.6 844.8h0M129.4 823.9h0M171.7 840.9h0M125.2 875.3h0M109.2 814.8h0M146.1 875.7h0M152.2 864.7h0M182.9 811.1h0M110.5 871.1h0M157.4 879.7h0M177.0 874.0h0M171.7 869.2h0M177.3 873.4h0M156.5 831.7h0M110.2 877.1h0M170.8 880.0h0M164.9 867.0h0M183.3 877.8h0M147.6 845.4h0M162.9 846.4h0M158.7 864.9h0M171.1 860.9h0M166.8 870.3h0M114.8 874.0h0M145.4 871.8h0M133.8 876.1h0M172.7 842.5h0M125.3 859.3h0M172.3 837.5h0M143.1 842.5h0M176.0 880.4h0M115.2 871.4h0M131.2 875.6h0M111.9 817.5h0M176.7 847.3h0M170.3 880.8h0M135.7 871.7h0M171.2 879.2h0M110.3 858.8h0M145.2 860.7h0M125.5 804.1h0M177.5 872.4h0M153.1 871.6h0M310.7 854.6h0M310.5 872.2h0M297.6 872.9h0M251.3 866.7h0M253.3 877.0h0M263.6 814.5h0M305.3 864.5h0M263.7 876.3h0M295.1 860.4h0M322.0 857.7h0M315.5 841.9h0M263.4 865.9h0M323.7 841.2h0M288.9 867.8h0M316.4 868.8h0M302.4 865.5h0M297.1 875.5h0M253.7 868.9h0M266.3 870.3h0M311.3 880.8h0M320.9 875.9h0M254.6 854.6h0M266.3 880.3h0M300.0 879.7h0M297.1 877.0h0M264.3 848.9h0M278.4 874.5h0M285.8 835.4h0M304.8 857.7h0M269.0 870.7h0M260.2 882.9h0M291.8 875.8h0M283.9 873.3h0M322.7 880.1h0M301.4 870.0h0M299.5 879.6h0M299.9 798.7h0M305.3 863.0h0M276.9 879.6h0M298.8 882.5h0M282.6 850.2h0M270.8 862.4h0M264.3 870.7h0M304.3 881.7h0M311.9 823.2h0M309.8 880.3h0M255.0 868.8h0M324.4 880.9h0M304.6 876.9h0M304.5 808.1h0M317.5 853.1h0M275.3 872.7h0M317.2 871.7h0M305.0 871.1h0M268.7 848.1h0M259.8 803.7h0M278.8 868.4h0M292.2 870.0h0M253.3 847.7h0M298.6 878.9h0M268.4 858.3h0M274.1 869.7h0M320.9 839.5h0M280.8 881.4h0M307.0 872.5h0M273.2 851.4h0M309.4 803.7h0M255.0 840.2h0M269.1 848.0h0M312.0 882.0h0M257.8 877.1h0M289.5 831.5h0M311.1 836.4h0M264.3 835.9h0M271.6 876.3h0M251.8 866.9h0M256.6 876.6h0M266.2 849.9h0M311.3 832.4h0M291.9 855.2h0M288.8 872.7h0M301.5 819.8h0M300.0 858.5h0M278.4 852.3h0M320.3 876.5h0M317.3 811.9h0M280.8 862.9h0M258.0 840.5h0M271.9 875.5h0M308.8 852.5h0M266.5 877.6h0M253.1 858.5h0M272.6 844.8h0M293.7 866.2h0M293.6 850.8h0M254.2 852.9h0M298.7 849.9h0M284.3 834.6h0M277.2 875.8h0M304.6 824.8h0M279.6 877.7h0M275.7 878.5h0M274.0 863.8h0M292.8 878.5h0M295.9 846.4h0M282.7 824.7h0M298.3 852.1h0M284.4 840.3h0M257.7 871.2h0M265.6 859.6h0M323.3 861.9h0M258.2 856.0h0M293.2 845.0h0M267.9 838.5h0M258.0 881.4h0M286.1 865.9h0M283.2 832.0h0M261.7 879.5h0M267.6 843.6h0M317.9 879.8h0M310.7 859.6h0M253.7 839.4h0M274.4 849.8h0M284.6 868.4h0M274.6 842.7h0M299.3 852.6h0M285.9 867.2h0M267.0 876.0h0M269.1 847.8h0M275.5 816.0h0M326.2 811.9h0M260.6 867.8h0M262.9 810.6h0M310.4 839.8h0M326.1 813.8h0M258.4 879.8h0M253.5 877.0h0M298.8 854.1h0M325.3 816.1h0M253.9 879.2h0M312.0 828.6h0M302.8 861.2h0M267.7 855.3h0M263.6 856.3h0M311.3 873.5h0M279.8 882.0h0M305.0 882.8h0M274.2 876.3h0M309.8 879.9h0M299.2 843.4h0M310.5 869.6h0M282.0 872.1h0M279.0 874.6h0M284.2 880.0h0M290.9 882.0h0M311.3 826.7h0M320.1 847.7h0M266.9 868.0h0M305.5 855.2h0M312.4 871.8h0M263.3 833.4h0M292.7 855.4h0M304.5 856.2h0M272.8 867.8h0M309.8 809.0h0M309.5 803.9h0M295.8 882.5h0M257.3 866.7h0M260.1 854.1h0M284.0 875.9h0M292.8 862.0h0M307.7 869.1h0M275.0 798.1h0M303.7 863.5h0M267.2 882.8h0M313.6 879.7h0M274.1 786.5h0M274.9 822.0h0M320.5 864.1h0M291.7 848.7h0M266.2 872.4h0M288.9 882.1h0M299.1 840.2h0M325.8 859.5h0M253.6 878.5h0M259.3 865.4h0M253.8 879.9h0M293.6 875.1h0M269.4 837.3h0M251.9 860.5h0M283.9 843.8h0M252.8 859.5h0M311.5 870.3h0M326.7 846.2h0M278.4 835.4h0M323.9 841.7h0M306.7 821.0h0M270.5 845.8h0M266.3 879.5h0M311.0 871.5h0M305.5 830.6h0M304.3 869.4h0M304.5 864.5h0M299.2 859.8h0M314.8 882.0h0M283.1 881.1h0M309.3 874.2h0M270.6 841.1h0M262.0 853.8h0M319.8 882.3h0M309.7 868.9h0M277.8 882.0h0M254.0 864.2h0M282.6 850.8h0M266.3 880.1h0M277.5 850.6h0M293.0 849.3h0M263.4 860.1h0M326.2 832.9h0M273.8 865.0h0M300.9 876.1h0M305.1 829.3h0M311.3 812.8h0M274.6 826.8h0M311.1 861.7h0M309.8 852.7h0M300.5 872.7h0M259.4 868.5h0M296.6 878.4h0M282.8 851.0h0M258.5 873.3h0M298.6 837.7h0M299.2 872.6h0M310.8 841.7h0M318.5 797.6h0M293.4 841.0h0M321.0 876.4h0M274.9 862.7h0M254.6 873.2h0M291.1 864.7h0M292.7 853.5h0M290.8 866.1h0M298.8 834.8h0M318.1 881.3h0M311.3 860.7h0M267.0 874.1h0M273.8 876.0h0M262.7 880.5h0M254.3 812.1h0M314.9 881.8h0M263.7 843.0h0M322.4 801.3h0M255.1 873.1h0M278.6 843.3h0M284.4 816.4h0M293.9 871.8h0M305.0 869.9h0M288.3 793.6h0M262.6 838.0h0M289.7 831.9h0M311.0 865.9h0M260.2 843.5h0M279.8 807.3h0M282.4 857.5h0M278.6 877.1h0M310.2 869.0h0M301.5 841.0h0M322.2 881.4h0M260.5 842.9h0M276.6 838.6h0M321.2 881.3h0M311.4 875.0h0M282.0 856.5h0M323.6 845.7h0M276.1 863.5h0M299.1 851.6h0M306.7 870.4h0M252.8 862.8h0M308.0 874.7h0M317.4 863.8h0M253.3 836.3h0M270.6 837.8h0M280.3 875.8h0M288.1 878.6h0M309.0 879.1h0M310.8 880.9h0M307.5 877.4h0M299.8 807.0h0M278.8 859.2h0M311.5 857.7h0M275.7 872.5h0M311.4 874.2h0M263.3 790.8h0M320.6 854.1h0M311.2 852.9h0M276.6 872.0h0M273.2 854.3h0M321.7 828.6h0M310.2 824.7h0M263.8 882.0h0M265.7 873.2h0M270.6 871.0h0M305.1 881.0h0M326.9 848.6h0M316.9 827.9h0M311.8 882.3h0M306.5 871.6h0M295.3 856.3h0M257.7 870.2h0M318.2 882.9h0M281.7 799.0h0M261.3 817.0h0M281.9 858.9h0M272.9 844.0h0M252.9 833.0h0M320.7 873.5h0M321.7 864.3h0M263.6 852.6h0M252.8 859.6h0M322.5 870.9h0M325.1 841.4h0M286.3 878.6h0M305.0 880.8h0M276.5 871.8h0M276.6 816.0h0M297.6 842.3h0M317.8 835.7h0M280.9 866.3h0M275.4 838.0h0M254.0 882.4h0M256.6 876.3h0M256.5 879.7h0M256.0 862.5h0M256.7 845.2h0M256.4 875.1h0M256.2 820.1h0M256.6 839.2h0M255.8 854.9h0M256.4 807.2h0M256.3 814.6h0M255.9 863.1h0M256.5 868.2h0M256.3 873.4h0M256.5 866.7h0M256.5 855.5h0M256.5 848.6h0M256.3 822.9h0M256.3 861.3h0M256.3 838.5h0M256.4 865.8h0M256.8 856.7h0M255.6 873.4h0M256.3 876.9h0M256.0 867.6h0M256.4 848.8h0M256.5 815.6h0M256.1 872.0h0M256.7 858.5h0M256.3 831.6h0M256.3 827.3h0M256.8 881.7h0M256.3 809.6h0M256.3 864.3h0M256.1 811.5h0M255.9 811.5h0M256.5 869.9h0M256.0 857.4h0M256.6 857.0h0M256.0 828.4h0M255.6 863.0h0M256.6 856.1h0M256.4 867.3h0M256.1 843.7h0M256.4 880.9h0M256.3 827.5h0M256.2 835.9h0M256.1 849.1h0M256.1 872.6h0M256.4 828.7h0M256.0 841.1h0M256.3 850.4h0M255.6 816.9h0M256.1 867.9h0M256.5 880.4h0M256.2 861.0h0M256.0 818.9h0M256.4 860.6h0M256.4 859.0h0M256.0 862.8h0M256.7 830.5h0M256.2 840.7h0M256.4 857.9h0M255.9 872.8h0M256.4 841.0h0M256.3 871.4h0M256.2 829.3h0M256.0 859.4h0M256.2 849.9h0M255.9 875.7h0M255.9 874.2h0M256.2 882.1h0M256.4 847.9h0M256.1 806.6h0M256.2 881.5h0M256.4 846.9h0M256.6 824.1h0M256.3 868.3h0M256.0 871.7h0M255.7 880.3h0M256.6 812.3h0M256.0 816.8h0M256.4 857.9h0M256.0 828.5h0M256.2 838.9h0M256.3 877.0h0M256.0 817.8h0M256.9 866.3h0M256.0 842.1h0M256.0 878.1h0M255.9 867.7h0M256.2 862.5h0M256.3 823.7h0M256.1 810.3h0M256.4 879.3h0M256.2 870.9h0M301.1 881.2h0M301.4 864.9h0M300.8 882.6h0M301.0 865.9h0M301.0 841.0h0M300.9 880.1h0M300.1 847.0h0M300.7 856.3h0M300.5 864.5h0M301.3 882.1h0M300.8 849.2h0M301.9 819.0h0M301.2 865.1h0M300.9 864.0h0M301.0 861.7h0M112.3 764.9h0M133.0 740.0h0M133.0 764.9h0M164.3 737.0h0M169.0 720.9h0M160.3 777.1h0M168.6 780.5h0M268.1 742.9h0M288.1 737.0h0M304.4 764.9h0M304.4 772.2h0M297.9 778.1h0M269.0 777.6h0M290.8 687.2h0M256.1 732.1h0M256.1 738.5h0M256.1 743.4h0M256.1 749.7h0M256.1 755.6h0M256.1 760.5h0M256.1 765.4h0M256.1 770.3h0M256.1 775.2h0M256.1 780.1h0M256.1 787.4h0M256.1 792.3h0M256.1 799.6h0M256.1 806.9h0" stroke="#BBBBBB" stroke-width="2.4" stroke-linecap="round" fill="none"/>
<path d="M70.5 843.9h0M99.6 857.9h0M73.3 843.4h0M82.9 837.5h0M77.4 845.7h0M86.0 838.8h0M72.1 876.0h0M101.6 847.7h0M83.2 864.0h0M82.9 874.9h0M94.7 874.9h0M103.3 880.8h0M91.9 860.8h0M68.7 877.6h0M65.6 843.1h0M82.2 880.9h0M101.9 873.1h0M92.7 869.3h0M95.1 878.2h0M89.9 873.0h0M65.0 877.3h0M69.4 826.6h0M96.9 882.6h0M84.0 856.2h0M65.5 873.5h0M100.9 860.5h0M85.4 879.9h0M102.7 835.7h0M73.1 874.9h0M77.7 862.3h0M69.3 873.9h0M66.7 880.3h0M67.4 882.4h0M84.7 874.5h0M71.6 854.0h0M65.9 818.9h0M100.2 863.7h0M89.7 869.9h0M67.3 876.7h0M63.8 872.1h0M71.6 866.8h0M81.7 873.3h0M76.6 868.1h0M79.1 880.1h0M65.6 851.2h0M64.2 864.2h0M83.2 874.9h0M74.0 869.6h0M95.5 836.1h0M92.4 867.4h0M66.6 860.1h0M87.0 878.0h0M97.1 846.4h0M78.9 861.6h0M86.1 860.9h0M101.4 857.7h0M92.0 877.9h0M91.5 874.2h0M86.3 879.9h0M78.8 868.2h0M84.1 854.1h0M76.5 859.0h0M97.5 878.4h0M79.2 882.4h0M98.7 864.7h0M80.5 849.6h0M98.8 881.2h0M71.2 859.0h0M88.2 867.6h0M80.6 846.3h0M84.6 863.0h0M100.4 838.1h0M81.7 806.9h0M78.6 846.6h0M77.0 868.6h0M101.2 882.2h0M85.9 878.9h0M68.6 862.5h0M101.5 841.5h0M95.2 864.1h0M66.9 865.1h0M97.4 854.9h0M92.6 867.9h0M78.4 843.1h0M64.8 864.3h0M100.3 872.7h0M76.3 880.6h0M82.0 876.9h0M101.2 871.0h0M83.1 866.1h0M78.6 827.4h0M74.9 865.9h0M77.7 869.1h0M80.9 881.5h0M78.6 873.8h0M98.7 857.6h0M72.7 851.3h0M87.6 872.2h0M102.2 855.8h0M81.9 875.0h0M76.7 874.8h0M87.9 877.8h0M101.4 838.5h0M87.7 874.4h0M76.8 863.4h0M88.2 881.1h0M83.1 873.9h0M78.4 880.9h0M83.7 834.4h0M101.3 877.3h0M97.2 874.2h0M97.7 871.0h0M101.6 881.2h0M96.2 870.0h0M68.8 870.5h0M90.4 866.3h0M88.4 875.7h0M82.7 878.9h0M88.4 878.5h0M84.3 878.7h0M81.3 865.1h0M102.9 878.4h0M89.7 882.2h0M80.0 869.6h0M101.2 869.5h0M96.3 851.3h0M79.9 879.1h0M93.9 881.2h0M88.5 824.9h0M101.3 881.4h0M64.6 876.9h0M92.7 831.8h0M100.6 864.4h0M100.3 879.1h0M94.8 872.3h0M75.9 857.3h0M97.4 875.1h0M76.0 875.5h0M98.8 862.5h0M81.8 882.4h0M101.5 845.8h0M66.1 871.8h0M87.5 849.1h0M81.2 876.6h0M94.9 878.0h0M97.6 878.3h0M76.7 865.9h0M80.8 861.6h0M78.7 870.3h0M74.7 877.5h0M98.8 866.6h0M78.4 857.7h0M67.3 870.3h0M86.6 861.6h0M101.4 861.7h0M65.9 854.0h0M67.3 868.0h0M80.8 879.9h0M82.2 832.1h0M89.8 841.9h0M88.8 854.6h0M102.1 882.1h0M63.5 863.7h0M97.9 881.3h0M80.7 873.5h0M65.7 882.5h0M77.4 878.7h0M102.1 868.6h0M96.7 862.6h0M80.5 880.1h0M100.7 865.6h0M80.4 855.7h0M81.8 881.7h0M73.5 829.2h0M76.2 856.0h0M101.3 879.4h0M102.6 871.3h0M92.4 874.4h0M78.5 875.8h0M85.2 868.2h0M72.8 868.8h0M89.9 868.6h0M101.5 858.1h0M99.3 858.9h0M67.9 866.9h0M101.9 822.8h0M94.0 861.8h0M77.2 880.1h0M79.6 871.1h0M79.6 840.4h0M100.7 870.2h0M67.8 832.8h0M92.7 879.6h0M95.9 866.5h0M72.7 845.0h0M80.4 881.1h0M99.3 821.5h0M86.3 878.4h0M81.2 841.4h0M82.7 857.2h0M82.0 877.2h0M92.2 878.3h0M101.9 861.8h0M78.7 861.7h0M87.6 879.2h0M86.7 826.0h0M95.9 853.3h0M64.1 874.5h0M82.1 865.4h0M70.3 854.5h0M101.8 881.2h0M66.2 853.9h0M74.7 882.6h0M84.6 874.5h0M91.2 871.5h0M97.5 875.0h0M67.5 879.3h0M64.9 878.4h0M83.5 838.8h0M87.9 875.6h0M71.1 868.2h0M87.3 850.3h0M102.6 863.0h0M95.6 834.5h0M63.5 880.7h0M91.8 831.2h0M100.3 880.8h0M92.5 842.4h0M64.6 828.5h0M89.5 875.0h0M89.6 882.1h0M84.4 859.3h0M68.2 870.2h0M71.2 814.2h0M64.3 878.1h0M90.3 871.9h0M89.5 846.0h0M76.8 877.9h0M100.7 851.4h0M90.3 855.5h0M99.5 848.9h0M99.5 877.2h0M99.3 880.9h0M99.6 790.0h0M99.8 872.3h0M99.1 836.9h0M99.2 862.6h0M99.4 856.2h0M99.2 863.7h0M99.8 853.1h0M99.2 797.8h0M99.6 819.3h0M99.3 840.6h0M99.4 853.8h0M99.4 835.3h0M98.9 840.4h0M99.4 842.4h0M100.3 857.6h0M99.5 876.6h0M99.7 875.4h0M99.6 843.9h0M99.8 791.8h0M99.0 862.7h0M99.6 877.4h0M99.8 857.3h0M100.1 839.0h0M99.8 851.6h0M99.6 804.2h0M99.7 868.3h0M99.8 869.1h0M99.7 870.5h0M99.5 839.2h0M99.7 832.2h0M99.9 843.7h0M99.8 814.1h0M99.6 838.8h0M99.6 811.1h0M99.4 860.5h0M107.6 864.6h0M107.7 841.1h0M107.3 873.3h0M107.5 843.9h0M107.4 882.4h0M107.3 846.9h0M106.4 862.7h0M108.1 880.4h0M108.1 838.7h0M107.7 880.6h0M107.5 859.5h0M107.6 875.3h0M90.2 851.8h0M90.5 867.4h0M90.9 852.6h0M90.0 871.8h0M90.9 833.0h0M90.9 862.2h0M90.5 834.6h0M90.8 873.2h0M68.7 878.8h0M68.7 869.5h0M68.0 872.9h0M69.5 851.9h0M69.1 876.4h0M68.8 877.3h0M67.9 853.3h0M69.2 856.6h0M186.5 878.3h0M186.5 875.8h0M188.3 880.7h0M186.6 877.5h0M187.6 845.9h0M189.6 858.8h0M185.8 876.2h0M195.2 867.3h0M194.7 873.8h0M186.9 861.2h0M194.4 871.7h0M186.0 867.9h0M186.8 875.8h0M185.9 883.1h0M187.1 877.3h0M187.3 881.6h0M187.1 864.0h0M196.5 880.0h0M197.8 881.5h0M193.4 877.9h0M196.9 877.1h0M187.6 832.1h0M185.5 845.7h0M188.7 863.2h0M185.9 853.4h0M188.3 875.7h0M187.8 838.0h0M188.6 851.0h0M195.2 876.8h0M191.7 861.8h0M198.5 855.6h0M198.3 881.9h0M191.3 880.4h0M198.6 860.2h0M187.7 864.0h0M233.7 875.6h0M243.7 858.5h0M202.0 876.6h0M246.8 878.4h0M226.6 864.0h0M222.0 855.7h0M202.5 859.6h0M214.4 853.8h0M229.0 880.3h0M211.4 848.1h0M210.4 881.9h0M230.4 861.5h0M211.3 879.0h0M231.6 847.9h0M217.1 883.0h0M236.8 838.5h0M206.2 867.5h0M237.2 878.1h0M234.9 827.2h0M211.8 855.6h0M208.2 877.4h0M227.1 876.4h0M245.1 872.1h0M234.9 863.5h0M227.1 872.2h0M245.5 871.2h0M218.6 873.4h0M205.2 879.6h0M215.3 823.3h0M231.6 867.0h0M240.2 877.1h0M232.1 875.6h0M232.3 857.1h0M244.0 866.8h0M244.6 878.3h0M236.9 852.5h0M235.1 853.1h0M224.3 877.3h0M238.9 875.4h0M214.4 863.0h0M219.4 877.1h0M232.7 866.5h0M245.7 879.2h0M232.8 857.9h0M231.5 859.5h0M242.4 878.0h0M224.3 865.5h0M222.0 870.9h0M233.7 856.2h0M222.5 871.3h0M208.9 874.9h0M244.6 868.0h0M217.6 878.2h0M227.5 875.2h0M206.2 853.5h0M201.6 869.5h0M228.1 873.9h0M237.6 847.9h0M231.6 862.6h0M240.2 882.6h0M222.1 877.3h0M235.0 874.4h0M210.9 874.3h0M240.6 865.0h0M226.0 877.0h0M240.3 840.0h0M214.5 866.8h0M208.3 868.3h0M245.3 848.8h0M233.0 872.8h0M208.0 876.3h0M246.0 833.6h0M211.9 868.5h0M237.1 881.1h0M239.2 864.2h0M220.2 851.4h0M229.8 858.5h0M239.2 873.4h0M226.7 880.3h0M233.8 879.0h0M225.3 870.7h0M244.6 857.2h0M238.4 880.5h0M233.7 874.3h0M237.8 869.3h0M206.6 873.3h0M206.5 867.3h0M207.2 865.2h0M205.6 866.6h0M206.9 874.4h0M212.9 855.4h0M227.0 879.7h0M216.4 872.6h0M206.0 859.3h0M224.9 845.1h0M243.5 858.5h0M237.5 870.9h0M228.7 849.4h0M240.9 880.2h0M231.4 868.2h0M227.4 869.7h0M229.3 857.6h0M234.7 856.4h0M223.2 881.7h0M234.0 863.3h0M211.6 873.6h0M208.2 867.2h0M208.8 877.4h0M202.3 873.2h0M207.1 870.4h0M231.9 866.9h0M244.8 853.0h0M227.9 880.0h0M246.6 849.6h0M237.8 878.0h0M224.8 882.7h0M236.5 823.9h0M232.0 870.0h0M215.6 853.8h0M245.6 878.8h0M236.4 879.4h0M205.5 881.8h0M231.6 844.8h0M228.1 816.4h0M210.9 867.8h0M223.0 862.3h0M217.2 872.8h0M205.9 872.6h0M228.2 876.1h0M225.5 861.0h0M215.0 879.8h0M215.9 873.7h0M205.9 831.0h0M239.6 857.1h0M215.6 846.9h0M236.2 881.0h0M227.7 861.9h0M205.3 877.1h0M234.4 872.2h0M237.4 860.6h0M224.4 853.4h0M234.2 851.9h0M206.5 874.1h0M245.4 828.5h0M219.9 864.8h0M226.0 837.0h0M236.6 839.9h0M215.4 861.5h0M245.0 859.1h0M222.8 850.6h0M238.6 860.2h0M243.6 872.7h0M233.1 879.7h0M201.9 861.5h0M233.4 866.9h0M235.1 873.3h0M214.5 878.3h0M227.8 880.2h0M221.6 879.8h0M220.1 881.9h0M244.4 863.1h0M224.9 872.1h0M205.5 832.3h0M206.7 862.7h0M235.2 872.9h0M231.5 859.7h0M238.2 843.7h0M226.0 850.7h0M230.7 847.5h0M233.2 828.3h0M242.1 878.6h0M209.2 872.3h0M223.5 880.0h0M227.5 882.5h0M237.1 820.8h0M222.2 854.8h0M225.3 870.8h0M233.6 851.2h0M212.6 873.1h0M230.7 836.4h0M217.5 822.6h0M216.4 863.6h0M216.8 875.5h0M217.0 864.1h0M217.7 878.5h0M216.9 862.7h0M216.9 857.5h0M217.1 842.9h0M217.2 880.4h0M218.0 882.4h0M240.3 872.9h0M240.8 867.7h0M240.9 854.0h0M241.2 849.6h0M240.4 874.2h0M240.9 857.8h0M240.9 860.9h0M241.7 878.9h0M240.6 842.5h0M240.8 866.3h0M240.5 849.9h0M240.8 848.5h0M240.5 875.4h0M239.9 864.7h0M233.2 878.2h0M233.9 871.3h0M233.4 865.2h0M234.7 875.8h0M233.7 866.1h0M234.5 869.2h0M234.2 847.4h0M234.2 872.0h0M233.8 842.8h0M233.7 844.1h0M233.4 860.4h0M233.4 849.7h0M337.6 879.7h0M337.2 870.0h0M342.9 831.9h0M341.8 871.1h0M334.8 870.0h0M342.4 869.6h0M348.4 874.6h0M350.1 824.3h0M332.8 875.3h0M336.2 871.0h0M330.3 865.0h0M330.4 860.9h0M344.6 874.7h0M332.1 874.8h0M337.3 864.1h0M345.5 875.6h0M330.9 836.8h0M347.4 866.9h0M342.3 875.0h0M340.1 844.2h0M330.4 869.4h0M335.5 817.6h0M331.0 877.8h0M345.2 855.5h0M350.3 822.1h0M334.7 844.3h0M341.5 882.3h0M336.0 876.9h0M335.3 817.3h0M333.8 878.4h0M338.9 877.3h0M333.2 860.7h0M348.6 841.1h0M335.1 875.6h0M349.8 870.5h0M338.3 869.2h0M336.0 876.9h0M330.7 843.8h0M336.6 824.2h0M349.6 833.3h0M328.5 875.6h0M331.4 851.6h0M334.8 876.4h0M340.0 843.5h0M346.2 860.9h0M348.7 869.0h0M333.3 857.1h0M343.1 869.6h0M330.5 843.2h0M333.0 829.4h0M337.5 860.3h0M334.4 866.4h0M330.3 875.0h0M331.0 871.1h0M348.5 855.0h0M335.2 866.1h0M335.6 863.7h0M342.4 878.3h0M330.7 868.6h0M330.6 845.6h0M329.7 875.9h0M336.7 875.5h0M336.3 881.3h0M332.8 854.8h0M340.2 847.3h0M335.7 876.6h0M343.5 868.7h0M337.6 829.4h0M333.6 831.2h0M330.0 867.7h0M335.9 858.6h0M348.9 853.9h0M329.2 875.7h0M348.9 878.3h0M330.8 876.1h0M335.5 880.1h0M349.6 878.4h0M347.0 881.8h0M335.5 879.2h0M331.1 872.9h0M328.2 870.1h0M336.7 832.2h0M330.1 853.2h0M328.7 876.3h0M337.8 877.4h0M350.0 864.1h0M332.5 882.3h0M347.5 846.1h0M334.9 809.3h0M349.3 865.7h0M328.1 842.8h0M328.2 881.2h0M328.0 830.9h0M328.0 870.0h0M328.2 836.5h0M328.2 877.8h0M328.1 859.6h0M328.0 832.5h0M327.7 882.4h0M327.8 873.9h0M328.0 836.8h0M328.1 868.6h0M328.0 868.0h0M328.2 831.8h0M328.2 839.3h0M328.2 867.9h0M327.8 869.1h0M328.5 865.9h0M328.0 857.2h0M327.9 845.6h0M327.7 879.1h0M327.9 864.4h0M328.3 873.9h0M328.2 874.6h0M328.2 833.0h0M327.8 877.5h0M327.8 865.6h0M328.0 877.4h0M328.2 866.9h0M328.5 882.3h0M328.1 862.6h0M328.0 870.6h0M328.3 862.7h0M327.8 866.4h0M328.3 867.0h0M327.9 859.9h0M327.9 879.8h0M328.4 880.3h0M328.2 843.7h0M328.0 865.9h0M328.2 879.4h0M328.2 876.7h0M328.3 881.3h0M328.3 852.2h0M328.4 862.7h0M327.9 864.1h0M327.8 853.6h0M328.2 880.0h0M328.1 853.2h0M328.4 882.0h0M333.6 872.1h0M334.1 849.7h0M334.7 836.5h0M334.4 840.4h0M335.2 876.7h0M335.6 874.0h0M334.2 870.6h0M334.1 881.5h0M334.9 842.4h0M335.0 877.6h0M347.7 882.2h0M348.2 872.5h0M347.7 858.6h0M348.6 882.2h0M347.6 874.6h0M347.3 844.7h0M347.9 879.2h0M347.9 864.0h0M347.8 863.5h0M348.0 847.3h0M375.6 871.5h0M393.8 846.0h0M375.4 878.1h0M359.1 865.9h0M394.1 859.1h0M375.6 854.9h0M352.0 863.0h0M395.1 876.7h0M391.5 875.9h0M356.3 843.8h0M353.7 873.4h0M367.2 867.8h0M401.1 878.0h0M392.8 871.0h0M395.1 865.0h0M395.2 879.5h0M367.5 845.9h0M383.7 874.0h0M383.2 874.5h0M375.8 858.6h0M394.8 880.0h0M375.5 882.8h0M387.8 864.9h0M377.0 879.8h0M372.4 867.2h0M372.9 881.3h0M360.7 877.8h0M379.8 879.9h0M375.9 874.7h0M375.4 839.9h0M379.4 851.4h0M379.2 816.4h0M379.5 836.0h0M379.7 822.0h0M379.3 821.1h0M379.1 865.2h0M390.2 864.4h0M390.2 878.4h0M390.3 876.8h0M390.3 849.8h0M389.4 871.8h0M389.1 870.7h0M390.3 880.8h0M388.8 871.5h0M398.9 880.9h0M399.1 878.6h0M398.9 877.9h0M399.4 876.7h0M86.3 745.3h0M99.5 764.9h0M187.0 751.2h0M192.7 740.5h0M187.0 760.5h0M187.0 763.4h0M196.7 763.9h0M200.4 754.6h0M192.7 769.3h0M201.3 783.0h0M218.0 730.7h0M218.0 742.4h0M241.9 737.0h0M241.9 742.4h0M240.2 772.7h0M228.1 787.4h0M335.2 764.9h0M335.2 770.8h0M99.5 784.9h0M100.3 788.9h0" stroke="#000" stroke-width="2.5" stroke-linecap="round" fill="none"/>
<path d="M80.0 757.1h0M111.8 771.7h0M111.8 777.6h0" stroke="#F68B12" stroke-width="5.6" stroke-linecap="round" fill="none"/>
<path d="M526.9 862.6h0M593.1 870.9h0M521.3 863.0h0M555.6 867.8h0M588.0 862.8h0M559.0 835.2h0M586.2 810.8h0M560.7 854.5h0M571.4 860.9h0M568.5 856.2h0M587.4 807.2h0M531.1 809.8h0M593.3 865.8h0M545.2 874.7h0M552.5 865.7h0M538.9 875.5h0M564.4 845.3h0M563.4 844.5h0M551.2 868.1h0M537.3 853.4h0M564.2 873.7h0M592.2 870.3h0M571.5 855.5h0M561.9 879.6h0M550.9 802.5h0M577.1 876.2h0M587.0 863.3h0M553.0 801.6h0M583.7 882.8h0M578.5 810.8h0M568.4 882.2h0M529.7 880.7h0M548.4 839.7h0M551.9 875.3h0M528.0 846.1h0M586.4 852.9h0M554.3 881.5h0M574.4 824.3h0M545.2 812.9h0M551.0 857.8h0M563.7 805.0h0M542.6 867.2h0M542.4 879.5h0M571.4 868.1h0M572.1 846.2h0M538.6 871.0h0M525.7 876.2h0M586.7 882.2h0M564.5 873.2h0M586.4 824.5h0M566.9 848.4h0M590.8 876.1h0M543.3 877.7h0M593.6 838.1h0M537.2 882.2h0M583.4 824.5h0M580.4 852.3h0M575.3 855.6h0M529.6 872.6h0M560.1 881.0h0M577.1 867.0h0M543.0 878.8h0M555.8 868.2h0M595.6 881.4h0M536.0 836.0h0M529.3 861.5h0M527.0 828.9h0M553.1 876.4h0M555.5 857.9h0M586.7 791.8h0M527.1 879.2h0M529.5 879.0h0M555.9 862.7h0M587.1 879.8h0M521.1 873.3h0M585.7 815.2h0M535.5 879.4h0M585.5 817.6h0M542.3 801.3h0M587.0 877.9h0M547.4 815.1h0M587.0 853.2h0M586.2 811.4h0M554.9 862.2h0M552.5 841.2h0M585.3 842.7h0M563.8 864.8h0M580.4 859.2h0M573.2 876.4h0M527.6 875.4h0M525.6 841.0h0M572.9 872.3h0M535.7 881.4h0M543.1 874.9h0M535.8 806.5h0M528.7 826.6h0M547.4 860.8h0M570.9 861.5h0M555.3 837.1h0M522.3 872.2h0M537.0 842.4h0M543.8 873.9h0M553.1 855.8h0M526.8 872.5h0M549.3 853.3h0M545.9 879.1h0M575.2 869.7h0M556.1 877.5h0M553.3 866.1h0M526.3 878.4h0M571.8 826.6h0M550.5 870.8h0M534.4 804.3h0M563.7 840.9h0M583.4 881.7h0M528.0 866.9h0M566.7 845.2h0M559.2 870.5h0M570.9 838.4h0M545.5 858.9h0M550.0 836.9h0M575.1 860.7h0M537.1 875.2h0M536.4 857.5h0M571.2 846.9h0M536.7 842.8h0M565.7 845.7h0M592.9 880.3h0M573.8 847.0h0M568.3 860.0h0M530.3 863.8h0M578.2 879.9h0M574.6 843.7h0M538.4 862.8h0M553.0 847.0h0M523.4 868.8h0M542.3 844.3h0M542.6 866.5h0M551.0 854.7h0M529.3 857.8h0M557.6 807.4h0M529.1 831.9h0M548.2 842.0h0M534.0 882.3h0M561.0 844.6h0M591.4 880.7h0M554.6 883.0h0M563.7 866.0h0M593.9 866.6h0M590.6 870.0h0M561.6 859.1h0M568.3 856.1h0M527.4 825.6h0M527.6 875.2h0M548.4 862.7h0M530.5 824.3h0M555.4 854.8h0M569.6 864.6h0M539.6 832.6h0M556.2 876.4h0M537.6 839.6h0M540.7 868.9h0M583.3 842.4h0M548.9 802.5h0M544.8 871.1h0M566.9 851.8h0M529.4 880.6h0M545.0 877.1h0M524.9 859.9h0M545.2 874.2h0M537.3 843.4h0M594.4 840.3h0M586.1 859.5h0M545.4 877.3h0M543.6 864.0h0M542.9 858.8h0M544.6 877.8h0M586.6 831.5h0M553.3 871.4h0M545.1 876.3h0M551.9 870.0h0M586.1 849.2h0M594.4 881.8h0M546.1 877.4h0M557.6 805.2h0M559.3 846.1h0M556.5 846.3h0M532.6 879.4h0M537.4 872.7h0M536.2 876.4h0M563.5 839.1h0M592.7 838.2h0M580.7 865.2h0M537.2 838.1h0M527.7 878.5h0M547.7 881.8h0M525.8 870.6h0M565.2 854.9h0M527.5 852.7h0M551.1 879.8h0M529.4 844.8h0M528.5 864.3h0M534.1 876.6h0M558.8 882.5h0M569.3 798.6h0M539.2 875.3h0M528.7 860.2h0M549.8 873.0h0M591.7 861.6h0M570.2 880.2h0M556.2 873.8h0M558.0 879.5h0M556.9 868.5h0M557.5 851.1h0M556.7 841.8h0M557.1 857.8h0M556.3 859.7h0M557.5 862.8h0M557.0 882.6h0M557.8 873.8h0M662.2 876.3h0M714.8 874.8h0M725.7 836.6h0M724.5 824.7h0M703.3 876.6h0M692.9 830.2h0M687.7 856.7h0M734.0 829.0h0M662.4 874.9h0M690.7 863.5h0M700.1 835.7h0M736.6 875.4h0M673.2 852.2h0M694.1 879.5h0M699.1 877.3h0M672.9 878.1h0M664.9 872.1h0M699.7 839.5h0M684.0 840.7h0M702.7 865.6h0M718.6 825.6h0M724.4 880.5h0M724.3 796.2h0M685.8 786.4h0M690.3 879.3h0M673.3 836.6h0M692.3 859.3h0M713.1 863.0h0M684.3 881.3h0M730.9 878.5h0M713.8 879.5h0M717.2 870.5h0M732.4 861.9h0M662.4 836.0h0M705.7 869.2h0M692.7 862.6h0M712.8 859.9h0M705.7 846.8h0M703.8 850.7h0M685.6 869.3h0M736.6 853.3h0M728.6 874.5h0M685.0 878.8h0M697.5 875.9h0M699.0 841.5h0M675.6 828.4h0M662.1 810.2h0M685.6 873.3h0M686.2 878.7h0M685.1 837.1h0M716.5 874.2h0M686.1 870.4h0M684.8 842.9h0M713.8 872.6h0M724.0 879.6h0M726.4 818.6h0M665.9 854.5h0M663.2 864.1h0M676.1 852.9h0M690.7 829.0h0M700.0 872.2h0M711.9 837.9h0M736.3 868.8h0M685.2 868.5h0M673.3 851.1h0M696.2 877.0h0M686.3 787.0h0M690.3 812.6h0M732.5 861.4h0M672.8 867.9h0M673.3 822.5h0M738.5 882.2h0M698.4 877.0h0M666.7 848.3h0M694.3 811.0h0M717.4 863.2h0M718.8 875.2h0M688.0 869.8h0M698.8 866.7h0M690.5 821.5h0M684.0 843.8h0M687.0 862.5h0M685.0 867.9h0M685.9 873.8h0M684.5 870.8h0M673.1 812.8h0M678.9 874.0h0M731.1 835.8h0M683.2 868.3h0M688.6 867.0h0M715.3 839.6h0M694.6 858.7h0M698.2 879.3h0M669.1 836.5h0M698.2 869.7h0M715.2 869.1h0M725.2 869.1h0M736.2 834.4h0M687.2 851.6h0M662.7 797.3h0M666.9 850.7h0M662.1 833.6h0M703.8 848.6h0M734.3 858.8h0M686.6 869.9h0M699.0 834.1h0M699.6 853.9h0M689.9 875.2h0M687.6 860.4h0M683.7 840.6h0M662.1 846.7h0M662.1 804.6h0M687.2 843.1h0M725.8 881.0h0M714.2 882.3h0M686.4 873.8h0M671.9 828.4h0M698.2 838.3h0M735.1 864.1h0M675.6 833.1h0M687.6 829.3h0M732.4 882.0h0M678.4 831.4h0M713.0 832.0h0M672.4 869.7h0M687.7 877.6h0M686.8 847.9h0M703.7 809.1h0M697.9 878.0h0M686.5 872.7h0M716.7 882.0h0M732.4 875.8h0M690.6 858.8h0M717.5 871.1h0M680.3 874.6h0M713.8 873.0h0M662.7 862.3h0M687.7 822.2h0M673.3 854.7h0M731.4 820.2h0M728.5 862.1h0M732.1 835.9h0M730.7 799.2h0M726.3 869.4h0M681.7 862.5h0M737.0 882.8h0M689.8 881.9h0M694.6 844.7h0M710.6 852.6h0M723.0 869.6h0M708.6 880.5h0M716.0 866.3h0M666.3 853.2h0M666.1 841.1h0M681.6 877.3h0M664.1 854.7h0M688.1 878.0h0M678.7 862.2h0M718.8 874.1h0M665.4 879.3h0M697.6 857.9h0M677.4 847.4h0M684.8 842.1h0M698.5 857.9h0M677.8 882.4h0M715.9 881.7h0M684.2 848.7h0M670.3 822.7h0M699.9 845.0h0M674.2 875.5h0M730.6 881.6h0M686.4 842.3h0M699.0 824.6h0M714.2 875.3h0M695.2 882.1h0M686.4 870.3h0M733.9 875.0h0M713.3 815.3h0M695.3 855.5h0M665.0 838.8h0M693.3 860.0h0M679.3 849.1h0M732.7 846.3h0M724.6 834.0h0M673.2 800.7h0M713.7 849.4h0M701.8 803.7h0M703.0 794.8h0M723.9 840.0h0M701.2 872.9h0M687.3 802.1h0M700.1 861.6h0M684.5 818.2h0M685.0 832.4h0M701.0 856.4h0M674.0 875.2h0M723.2 877.7h0M684.4 847.4h0M686.6 875.5h0M713.5 869.2h0M737.2 871.0h0M687.0 869.4h0M671.4 836.4h0M694.7 829.2h0M696.0 855.2h0M669.8 862.1h0M730.8 858.4h0M685.4 862.1h0M666.7 878.7h0M719.4 873.9h0M687.3 846.6h0M730.4 877.8h0M698.7 819.0h0M734.1 875.2h0M738.5 878.6h0M714.7 880.3h0M710.3 868.2h0M719.6 874.3h0M704.0 825.5h0M685.3 871.5h0M687.1 806.8h0M732.7 875.0h0M694.0 881.4h0M664.8 878.3h0M690.1 810.7h0M703.9 844.2h0M724.6 876.7h0M696.4 877.7h0M699.6 866.5h0M687.2 876.9h0M671.2 855.1h0M706.4 846.2h0M702.3 869.9h0M690.1 827.3h0M686.0 864.6h0M686.7 850.2h0M704.4 868.5h0M734.2 862.8h0M705.0 879.3h0M680.7 872.4h0M686.9 872.7h0M685.8 869.2h0M735.5 864.0h0M684.6 850.6h0M666.0 804.3h0M673.6 795.6h0M718.0 858.2h0M684.4 867.8h0M677.7 869.6h0M730.5 853.0h0M727.3 810.6h0M727.3 865.5h0M727.5 869.8h0M727.2 810.1h0M728.7 866.3h0M727.7 854.2h0M727.5 796.6h0M726.8 806.6h0M727.2 863.0h0M727.1 860.7h0M728.4 852.9h0M728.4 813.3h0M728.0 882.7h0M727.7 862.3h0M726.7 844.6h0M727.8 822.2h0M728.5 872.1h0M728.6 879.7h0M727.3 850.0h0M728.2 860.2h0M727.7 871.9h0M727.9 846.5h0M728.1 821.7h0M728.1 809.4h0M728.1 813.8h0M728.0 876.5h0M727.6 808.7h0M726.8 860.0h0M727.8 874.6h0M727.4 881.9h0M702.3 825.7h0M702.3 834.4h0M702.3 817.2h0M702.1 875.7h0M703.0 858.6h0M702.2 856.2h0M702.6 844.2h0M702.2 805.9h0M702.1 853.6h0M702.1 872.6h0M702.5 832.0h0M701.8 877.9h0M702.5 845.2h0M703.6 853.6h0M702.1 819.5h0M686.9 815.0h0M687.4 811.3h0M687.0 876.7h0M687.4 870.6h0M686.8 880.7h0M686.5 841.1h0M687.3 852.5h0M687.0 852.3h0M686.9 866.8h0M687.5 851.0h0M534.0 751.7h0M534.0 755.1h0M552.8 758.5h0M555.2 768.8h0M545.7 772.2h0M542.7 779.1h0M578.0 737.5h0M585.8 762.9h0M568.5 781.0h0M669.7 765.4h0M682.4 760.0h0M699.9 760.0h0M706.6 758.1h0M717.7 760.0h0M727.8 771.7h0M727.8 781.0h0M727.8 758.5h0" stroke="#BBBBBB" stroke-width="2.4" stroke-linecap="round" fill="none"/>
<path d="M481.5 880.6h0M515.1 836.2h0M496.2 869.0h0M475.9 879.2h0M497.1 847.2h0M514.1 854.5h0M476.2 849.8h0M485.9 873.2h0M498.4 830.1h0M483.1 875.2h0M498.7 878.5h0M479.8 785.5h0M514.5 859.5h0M492.8 826.2h0M481.5 865.1h0M484.2 880.4h0M480.4 831.9h0M501.5 871.9h0M501.6 842.2h0M514.1 823.9h0M480.3 787.8h0M504.5 845.9h0M480.0 875.0h0M501.7 841.2h0M495.5 835.8h0M507.2 830.4h0M480.7 878.2h0M502.9 867.7h0M494.5 875.0h0M475.2 801.7h0M519.1 876.7h0M482.9 867.3h0M500.3 877.9h0M502.6 853.9h0M478.4 847.1h0M481.2 834.6h0M491.9 856.5h0M508.2 874.2h0M481.4 879.2h0M502.0 856.5h0M509.1 866.8h0M474.8 880.1h0M502.3 860.6h0M502.0 875.4h0M517.5 856.3h0M501.5 840.1h0M502.8 873.7h0M513.2 825.3h0M516.6 876.3h0M480.8 874.1h0M502.4 821.0h0M475.9 873.0h0M501.5 825.3h0M496.8 807.9h0M513.9 866.5h0M513.9 874.7h0M501.6 835.5h0M513.3 881.1h0M481.7 870.1h0M481.2 825.4h0M516.6 870.3h0M481.0 837.1h0M498.7 870.7h0M515.0 875.4h0M502.2 864.8h0M482.5 865.0h0M486.9 863.4h0M512.6 863.8h0M516.0 870.2h0M503.0 829.2h0M516.2 882.7h0M480.5 826.1h0M480.3 865.4h0M513.8 853.5h0M481.4 822.4h0M481.6 869.0h0M495.7 877.3h0M505.0 881.7h0M499.7 873.5h0M501.9 875.7h0M487.4 866.3h0M501.8 871.0h0M501.2 870.2h0M502.6 804.6h0M505.6 852.0h0M501.8 855.0h0M478.8 843.7h0M517.1 861.3h0M512.8 870.2h0M516.9 822.3h0M480.9 881.6h0M482.5 865.7h0M502.6 868.5h0M475.1 796.6h0M514.7 858.1h0M502.1 851.2h0M492.1 875.5h0M513.9 848.1h0M501.9 875.4h0M488.8 863.4h0M486.3 849.4h0M513.9 816.9h0M497.9 855.5h0M481.5 867.9h0M502.1 873.7h0M502.1 845.7h0M492.0 853.7h0M481.4 836.8h0M502.0 869.4h0M494.3 851.1h0M475.8 858.1h0M476.6 801.8h0M477.0 810.6h0M476.0 854.9h0M476.3 816.0h0M476.0 842.6h0M476.6 792.3h0M475.6 867.6h0M477.1 811.6h0M476.2 832.8h0M476.2 837.1h0M476.0 808.2h0M476.7 852.1h0M476.6 833.0h0M477.4 879.1h0M476.1 802.1h0M476.4 867.0h0M477.3 865.6h0M477.8 865.0h0M475.7 877.9h0M475.3 864.3h0M476.1 868.4h0M514.2 855.3h0M515.0 844.9h0M514.5 862.7h0M513.5 828.0h0M514.0 857.4h0M513.8 837.8h0M514.4 852.8h0M514.8 874.8h0M514.8 851.1h0M513.7 852.0h0M514.7 863.3h0M514.1 860.7h0M515.0 853.7h0M514.9 841.6h0M514.3 839.1h0M515.0 822.5h0M513.7 873.0h0M514.2 838.1h0M514.9 876.6h0M515.4 815.1h0M491.7 864.1h0M491.5 829.6h0M491.6 833.8h0M491.6 882.3h0M491.7 868.2h0M492.2 828.8h0M492.0 866.7h0M492.0 882.4h0M626.6 882.9h0M597.2 823.5h0M631.4 862.9h0M625.3 870.0h0M616.5 852.9h0M604.0 827.9h0M607.4 875.6h0M601.4 877.6h0M602.1 878.7h0M610.4 874.3h0M621.8 859.0h0M606.6 825.5h0M599.3 881.9h0M596.8 804.4h0M626.3 881.6h0M602.4 881.9h0M596.7 880.0h0M598.8 879.6h0M598.6 881.3h0M607.2 871.0h0M599.9 871.7h0M622.9 880.5h0M622.6 881.6h0M598.8 880.4h0M623.5 841.9h0M606.4 826.1h0M630.8 872.0h0M603.9 867.6h0M622.7 839.4h0M601.0 866.9h0M625.8 875.5h0M625.3 868.3h0M629.5 867.8h0M629.5 881.8h0M607.6 869.4h0M626.2 851.0h0M602.8 860.1h0M597.8 863.4h0M601.5 875.1h0M626.6 876.7h0M597.3 852.3h0M608.7 882.5h0M627.3 882.4h0M630.4 833.3h0M630.4 881.0h0M627.8 880.4h0M617.4 881.8h0M602.0 876.7h0M623.1 856.6h0M626.8 851.1h0M602.0 877.5h0M625.1 871.9h0M600.1 873.6h0M597.2 845.0h0M606.6 835.0h0M603.6 878.0h0M604.6 863.2h0M600.9 876.0h0M631.3 880.5h0M626.8 824.2h0M599.9 876.8h0M627.0 882.4h0M623.5 812.9h0M624.1 872.0h0M602.1 881.2h0M631.3 867.4h0M597.6 870.0h0M616.9 844.4h0M622.5 864.7h0M621.9 860.8h0M605.8 860.9h0M627.7 874.6h0M600.2 877.4h0M614.3 866.5h0M630.7 845.6h0M599.5 861.0h0M621.9 850.8h0M602.9 882.7h0M606.4 868.2h0M628.3 808.9h0M600.2 856.7h0M622.3 813.7h0M626.5 845.7h0M627.2 876.5h0M627.1 877.5h0M629.9 860.6h0M597.1 877.2h0M612.6 853.3h0M609.9 880.9h0M626.3 882.7h0M607.6 881.2h0M625.9 846.0h0M620.9 869.9h0M608.6 800.1h0M597.5 875.8h0M606.9 882.2h0M601.2 874.9h0M627.5 863.0h0M630.5 871.2h0M629.5 815.0h0M620.1 854.6h0M625.9 867.9h0M623.8 872.1h0M629.5 853.5h0M621.3 856.5h0M600.9 864.0h0M597.8 848.8h0M630.4 853.6h0M621.4 856.9h0M623.2 841.6h0M630.6 873.9h0M628.0 836.1h0M601.4 881.3h0M621.3 878.9h0M606.7 867.8h0M599.1 830.4h0M626.9 854.9h0M625.5 812.6h0M596.7 872.6h0M629.9 879.7h0M607.2 808.7h0M605.5 881.6h0M622.9 872.0h0M619.5 877.7h0M596.9 879.9h0M619.5 839.4h0M630.2 827.1h0M598.4 879.4h0M604.6 863.9h0M597.1 870.9h0M607.7 814.8h0M630.8 833.8h0M629.2 879.0h0M609.3 862.5h0M597.5 823.7h0M600.7 878.7h0M624.6 879.0h0M602.6 881.2h0M617.2 839.0h0M601.5 854.2h0M626.2 850.6h0M614.8 873.6h0M619.6 862.5h0M622.8 858.8h0M631.7 859.7h0M601.6 880.6h0M608.6 873.5h0M617.8 865.9h0M622.4 874.7h0M626.3 870.2h0M646.4 870.1h0M656.8 851.6h0M646.8 835.7h0M657.1 875.7h0M645.1 880.6h0M647.1 855.9h0M648.3 877.2h0M647.1 841.7h0M657.8 817.3h0M641.8 872.3h0M636.9 801.9h0M647.1 857.5h0M642.2 844.9h0M636.9 874.5h0M650.2 876.0h0M643.4 854.8h0M632.8 852.3h0M646.6 810.9h0M646.3 881.2h0M646.5 796.0h0M632.9 839.9h0M659.4 881.6h0M645.6 866.6h0M643.0 848.6h0M636.2 849.1h0M637.1 796.0h0M646.3 874.1h0M660.4 867.7h0M640.5 863.1h0M653.8 877.7h0M649.0 861.1h0M643.8 871.7h0M646.7 867.4h0M636.7 846.9h0M647.0 828.5h0M642.4 868.7h0M647.9 827.0h0M633.2 874.1h0M635.6 883.1h0M641.8 844.2h0M638.0 881.1h0M643.6 872.2h0M638.0 881.7h0M645.4 876.9h0M660.3 866.5h0M643.4 859.3h0M637.0 881.5h0M639.9 874.1h0M641.7 855.2h0M638.5 860.9h0M656.3 878.4h0M641.0 828.9h0M646.8 859.9h0M647.1 866.5h0M656.3 832.9h0M643.0 841.6h0M636.8 878.3h0M643.4 878.9h0M644.8 862.2h0M633.2 875.9h0M637.4 881.7h0M644.5 862.6h0M641.3 833.9h0M642.9 878.8h0M638.9 849.6h0M649.2 867.4h0M641.5 859.3h0M652.5 876.7h0M660.4 853.7h0M652.9 875.4h0M596.2 811.9h0M596.8 870.1h0M596.6 878.9h0M596.4 829.4h0M597.2 882.2h0M597.3 868.5h0M596.1 836.6h0M597.0 869.6h0M597.3 874.9h0M595.6 874.4h0M596.4 794.6h0M595.7 861.0h0M597.8 824.6h0M596.7 866.0h0M597.4 845.9h0M596.5 879.8h0M597.5 868.4h0M596.1 835.2h0M597.3 854.2h0M595.6 875.7h0M596.7 842.5h0M597.0 869.2h0M596.6 878.0h0M596.6 829.5h0M596.0 876.1h0M622.5 859.7h0M622.3 844.0h0M622.6 876.0h0M622.0 851.1h0M622.4 865.4h0M621.8 808.2h0M621.6 876.5h0M622.3 860.1h0M622.1 836.3h0M622.8 872.7h0M623.1 866.6h0M622.3 877.2h0M621.9 870.9h0M622.1 865.9h0M637.6 861.6h0M636.8 877.5h0M637.7 872.7h0M636.7 872.9h0M636.6 869.8h0M637.4 880.5h0M637.4 866.5h0M637.8 876.1h0M637.0 865.2h0M636.1 842.7h0M609.7 874.5h0M610.7 877.5h0M610.2 847.2h0M609.8 864.7h0M610.3 859.9h0M609.8 875.3h0M610.7 859.4h0M610.9 859.4h0M609.8 849.9h0M610.1 851.5h0M610.7 839.5h0M609.8 861.4h0M774.7 864.3h0M765.2 874.9h0M752.4 878.2h0M793.1 866.3h0M779.0 881.9h0M778.2 881.7h0M751.0 868.3h0M745.4 867.7h0M768.6 871.6h0M800.3 869.4h0M787.9 878.8h0M758.7 844.0h0M745.7 872.2h0M751.6 850.5h0M750.7 881.4h0M751.0 873.5h0M765.0 875.8h0M741.5 875.6h0M806.8 874.4h0M790.4 850.2h0M741.4 877.2h0M791.5 869.8h0M779.9 850.3h0M751.8 881.3h0M766.1 876.1h0M751.0 866.7h0M747.4 872.0h0M787.0 880.8h0M779.8 859.3h0M803.6 870.0h0M781.3 870.0h0M740.7 882.1h0M751.6 870.1h0M752.1 873.6h0M810.7 882.3h0M808.8 840.5h0M751.4 858.8h0M745.6 880.4h0M793.6 880.8h0M751.0 871.7h0M792.8 859.6h0M752.2 847.6h0M751.2 843.0h0M779.5 880.1h0M741.9 875.3h0M751.7 854.4h0M752.5 844.4h0M750.6 873.1h0M760.1 876.0h0M797.7 866.0h0M799.0 868.4h0M751.6 863.4h0M753.2 872.7h0M794.6 873.5h0M765.6 869.8h0M756.9 848.0h0M753.0 849.7h0M753.5 850.1h0M752.3 857.2h0M750.9 866.6h0M779.0 869.8h0M740.6 862.3h0M755.8 853.2h0M776.5 877.2h0M796.9 881.2h0M749.6 878.6h0M745.8 869.0h0M796.0 867.9h0M759.1 867.2h0M790.5 856.5h0M805.7 863.9h0M745.1 874.9h0M749.5 877.8h0M800.1 854.8h0M766.8 876.8h0M753.4 875.3h0M813.5 880.7h0M778.4 879.8h0M740.8 879.6h0M772.2 854.9h0M741.1 871.5h0M797.7 849.8h0M759.1 878.3h0M806.5 877.1h0M775.9 876.4h0M751.2 843.9h0M810.9 879.4h0M790.9 879.0h0M773.0 840.5h0M768.1 880.4h0M790.5 876.0h0M776.5 880.1h0M801.0 871.6h0M748.8 874.6h0M766.7 875.5h0M752.3 879.2h0M806.2 868.9h0M806.0 843.3h0M751.3 879.1h0M752.6 858.3h0M801.5 875.9h0M790.3 875.7h0M745.9 841.8h0M741.9 881.2h0M752.6 858.1h0M792.7 882.1h0M790.1 848.0h0M785.4 874.4h0M799.0 880.7h0M750.3 864.5h0M790.6 840.1h0M746.0 879.5h0M789.3 860.2h0M774.2 870.3h0M745.1 880.1h0M753.7 847.3h0M756.5 877.6h0M796.4 868.1h0M776.8 877.7h0M741.6 878.1h0M806.5 841.9h0M752.0 847.8h0M768.2 881.8h0M762.0 863.1h0M741.7 879.0h0M783.9 858.0h0M799.1 842.3h0M793.7 872.9h0M751.7 878.4h0M796.3 882.5h0M741.6 878.7h0M742.3 874.2h0M740.9 863.1h0M741.8 845.5h0M742.1 857.8h0M741.6 840.8h0M742.1 866.6h0M741.9 854.5h0M742.5 870.6h0M741.4 854.4h0M743.0 842.0h0M742.2 846.9h0M742.3 870.8h0M741.9 863.5h0M742.1 877.9h0M742.9 855.5h0M762.6 848.3h0M762.4 851.5h0M763.1 856.9h0M761.8 855.8h0M762.6 882.3h0M762.6 872.9h0M476.5 760.0h0M476.5 764.9h0M476.5 772.7h0M506.0 765.4h0M506.8 787.9h0M494.3 791.8h0M514.5 763.4h0M635.1 765.9h0M627.1 784.9h0M649.7 765.4h0M649.7 804.5h0M741.9 728.7h0" stroke="#000" stroke-width="2.5" stroke-linecap="round" fill="none"/>
<path d="M706.0 779.6h0M734.8 765.4h0M734.8 780.1h0" stroke="#F68B12" stroke-width="5.6" stroke-linecap="round" fill="none"/>
<path d="M955.7 844.1h0M978.5 869.5h0M982.3 871.0h0M989.7 798.6h0M974.7 829.7h0M952.5 866.9h0M982.9 881.4h0M993.2 882.2h0M963.2 859.6h0M986.9 877.3h0M961.2 863.6h0M997.1 851.9h0M949.8 881.7h0M975.0 859.1h0M943.5 862.2h0M990.3 875.5h0M977.9 882.3h0M955.9 876.2h0M990.1 841.9h0M1000.6 851.2h0M992.5 861.2h0M1001.0 861.2h0M938.1 875.3h0M933.3 876.2h0M976.3 869.9h0M977.4 853.5h0M978.1 864.7h0M943.4 881.1h0M1006.9 881.1h0M963.1 875.5h0M968.8 800.1h0M977.1 833.3h0M933.3 865.5h0M988.2 881.4h0M989.6 849.0h0M933.5 821.7h0M939.2 829.4h0M985.4 870.9h0M982.6 874.3h0M973.8 824.2h0M963.2 876.2h0M980.2 834.8h0M980.1 813.5h0M963.2 837.2h0M960.0 863.1h0M978.3 817.0h0M971.8 854.1h0M952.1 876.4h0M934.5 874.5h0M943.9 866.3h0M974.7 825.9h0M1000.7 870.1h0M986.4 863.2h0M954.7 844.1h0M1005.1 795.9h0M989.1 868.7h0M955.6 866.4h0M969.7 814.9h0M989.4 872.5h0M946.5 871.5h0M960.8 863.1h0M963.4 860.1h0M1007.4 809.6h0M974.6 841.7h0M967.8 879.8h0M963.3 874.9h0M1004.9 868.5h0M993.3 882.0h0M966.5 822.9h0M967.7 864.0h0M987.6 872.3h0M984.9 879.1h0M962.9 864.3h0M970.0 848.1h0M1006.2 870.8h0M991.2 880.3h0M969.7 878.3h0M979.7 861.0h0M948.4 846.0h0M935.8 843.1h0M946.5 868.2h0M952.9 854.4h0M945.2 863.9h0M984.9 874.8h0M963.1 850.3h0M984.5 867.1h0M978.7 846.4h0M986.8 864.0h0M978.9 870.7h0M984.8 868.9h0M933.6 869.6h0M984.4 869.8h0M989.9 858.2h0M959.8 863.5h0M933.2 869.5h0M1004.1 848.2h0M973.8 857.7h0M957.4 872.8h0M936.1 874.4h0M964.3 877.4h0M980.8 872.6h0M965.7 882.3h0M954.8 819.8h0M988.6 876.4h0M993.6 858.8h0M989.0 868.7h0M933.0 877.8h0M967.8 865.4h0M932.6 879.7h0M972.9 881.6h0M976.8 808.6h0M973.2 873.9h0M970.9 880.9h0M973.1 844.9h0M944.7 852.8h0M997.4 855.9h0M989.7 823.9h0M984.9 830.4h0M989.1 827.1h0M935.3 836.9h0M972.8 880.2h0M1007.5 865.7h0M938.3 863.8h0M971.9 815.2h0M983.2 874.1h0M939.6 834.3h0M936.6 868.2h0M984.7 844.5h0M947.7 878.3h0M963.6 849.9h0M947.2 836.7h0M957.8 881.1h0M942.6 839.8h0M956.1 871.1h0M940.4 847.1h0M997.5 837.2h0M971.8 871.2h0M969.5 862.7h0M983.3 858.7h0M936.4 865.0h0M976.5 839.5h0M990.4 879.4h0M989.1 862.3h0M937.5 870.8h0M951.7 857.5h0M990.6 869.7h0M965.4 873.4h0M986.4 880.4h0M963.6 833.6h0M939.9 874.1h0M1004.8 863.0h0M950.7 816.1h0M993.2 882.0h0M961.7 880.0h0M969.0 877.9h0M986.8 857.3h0M969.2 878.4h0M999.1 856.5h0M986.1 860.3h0M976.4 871.5h0M947.5 852.4h0M980.3 822.4h0M943.7 842.7h0M963.2 859.1h0M991.5 870.3h0M972.4 881.2h0M1006.8 876.1h0M943.9 806.2h0M959.8 852.8h0M995.0 821.7h0M951.1 877.2h0M958.9 838.2h0M971.8 863.7h0M989.8 870.3h0M983.1 882.6h0M1005.2 878.0h0M948.1 871.9h0M986.5 872.4h0M967.1 863.1h0M997.3 875.1h0M937.7 846.8h0M976.6 845.0h0M957.4 853.6h0M947.1 872.7h0M970.0 844.6h0M953.6 879.3h0M948.2 873.6h0M1002.4 875.5h0M986.9 876.7h0M1001.5 881.3h0M959.9 858.7h0M975.0 866.0h0M971.6 872.7h0M932.9 874.1h0M960.1 847.8h0M975.4 872.2h0M969.8 851.0h0M989.4 868.7h0M943.0 871.1h0M998.8 859.9h0M1004.2 865.5h0M972.3 843.1h0M1006.3 870.6h0M973.3 817.1h0M978.4 880.2h0M949.3 875.8h0M977.2 857.9h0M977.3 858.5h0M991.1 829.5h0M939.4 866.0h0M972.7 864.4h0M957.6 865.6h0M956.5 870.9h0M975.2 870.9h0M941.2 879.7h0M1001.7 867.5h0M938.8 874.2h0M959.2 872.4h0M937.2 878.7h0M967.6 851.5h0M941.0 813.9h0M1004.2 801.8h0M954.4 829.5h0M1006.9 865.3h0M935.1 850.2h0M996.1 809.7h0M972.7 880.6h0M982.6 875.4h0M942.7 873.0h0M977.0 834.4h0M955.6 877.9h0M960.2 835.9h0M982.5 880.3h0M970.5 881.3h0M963.1 819.1h0M1005.0 804.7h0M962.3 856.7h0M945.8 810.9h0M999.0 862.4h0M966.9 879.2h0M962.9 804.5h0M1007.6 873.7h0M991.4 868.3h0M990.9 878.1h0M976.4 882.7h0M987.8 880.9h0M944.5 865.2h0M946.2 871.4h0M976.2 865.4h0M945.6 855.3h0M1005.1 841.6h0M992.0 869.7h0M973.3 869.0h0M952.0 875.7h0M932.3 853.5h0M990.5 839.6h0M985.3 800.5h0M1003.1 878.4h0M959.4 869.6h0M935.4 813.5h0M950.0 876.1h0M982.1 827.2h0M934.7 874.2h0M971.9 873.8h0M974.8 877.8h0M975.1 880.2h0M990.7 882.7h0M981.1 824.8h0M961.7 871.0h0M1004.5 867.8h0M951.5 879.9h0M972.2 826.2h0M1003.2 870.7h0M933.7 861.5h0M985.9 881.3h0M986.1 871.1h0M969.8 870.5h0M984.9 880.2h0M995.1 794.4h0M938.5 880.5h0M983.4 805.1h0M1007.2 846.7h0M950.3 848.6h0M998.0 872.4h0M976.7 863.1h0M965.7 868.4h0M970.7 872.1h0M991.7 867.0h0M967.7 865.5h0M963.0 870.1h0M1002.6 867.0h0M974.4 801.6h0M945.7 879.3h0M988.8 868.4h0M1002.6 829.7h0M936.4 862.5h0M959.7 873.7h0M959.9 870.4h0M977.5 855.1h0M980.5 853.3h0M937.1 879.2h0M946.9 872.0h0M982.8 874.0h0M988.7 875.8h0M963.1 839.4h0M961.2 879.7h0M976.4 797.8h0M983.3 823.4h0M943.9 878.8h0M978.7 854.2h0M957.5 861.1h0M997.6 846.1h0M980.9 870.8h0M989.8 797.1h0M945.4 820.4h0M1001.3 880.4h0M932.8 865.0h0M970.7 866.6h0M939.5 810.9h0M944.6 797.8h0M982.4 851.4h0M970.5 867.3h0M958.7 862.7h0M971.0 836.3h0M1007.0 864.4h0M936.8 810.8h0M985.2 866.0h0M989.5 863.3h0M933.2 864.6h0M978.1 849.6h0M945.1 802.8h0M982.5 872.9h0M984.6 827.0h0M985.5 874.9h0M990.8 873.3h0M968.6 862.8h0M1005.2 809.3h0M1006.7 869.8h0M1001.9 823.3h0M943.3 872.1h0M978.3 858.1h0M977.4 862.9h0M937.2 855.5h0M985.1 877.4h0M978.3 878.6h0M999.2 856.6h0M933.2 849.7h0M988.2 866.6h0M950.4 862.1h0M1006.7 877.6h0M939.8 881.9h0M955.8 860.5h0M988.2 874.2h0M966.7 825.2h0M997.9 871.4h0M1006.7 880.4h0M972.3 805.1h0M945.3 869.5h0M978.2 836.2h0M996.2 846.8h0M979.4 844.5h0M966.4 875.0h0M933.9 815.8h0M1002.2 850.1h0M990.2 871.0h0M955.7 874.0h0M1003.2 849.4h0M959.1 881.0h0M932.3 877.1h0M972.3 870.1h0M935.4 882.5h0M989.3 849.6h0M945.4 851.8h0M984.7 855.0h0M957.2 880.7h0M998.3 871.3h0M980.4 835.0h0M959.4 861.6h0M989.3 866.7h0M976.8 852.4h0M939.5 870.4h0M1005.6 874.4h0M941.8 870.2h0M1006.5 878.7h0M989.9 876.6h0M989.0 874.3h0M980.4 856.9h0M935.9 853.3h0M970.3 858.6h0M967.1 825.2h0M953.0 862.7h0M952.2 875.1h0M935.3 864.9h0M991.7 878.2h0M967.0 876.0h0M995.5 837.9h0M993.1 858.0h0M1006.3 876.9h0M957.8 879.5h0M1007.6 878.8h0M982.3 856.2h0M1008.0 833.9h0M936.3 854.8h0M952.9 805.4h0M984.5 873.1h0M987.7 867.9h0M971.0 843.4h0M967.8 875.8h0M987.3 853.8h0M945.1 873.0h0M1007.7 875.9h0M964.4 878.5h0M994.9 817.6h0M943.7 880.8h0M933.3 825.9h0M1005.2 871.4h0M1003.9 871.1h0M961.8 874.7h0M965.0 852.3h0M965.5 868.7h0M988.6 837.5h0M977.8 859.3h0M932.1 877.6h0M955.5 879.3h0M966.6 860.6h0M946.1 877.9h0M935.2 846.0h0M975.0 876.8h0M948.7 866.8h0M970.3 868.2h0M1002.7 862.7h0M1003.3 823.4h0M954.5 846.7h0M979.6 872.6h0M945.5 876.1h0M934.8 852.4h0M958.9 856.7h0M945.1 876.3h0M936.0 881.6h0M942.9 795.6h0M1005.9 870.0h0M1006.4 832.5h0M935.2 845.5h0M973.9 867.6h0M955.5 844.0h0M940.0 874.2h0M982.8 871.7h0M947.9 839.4h0M1005.7 881.6h0M957.7 855.5h0M1000.8 881.6h0M984.4 864.3h0M1003.6 877.3h0M977.3 878.2h0M957.0 864.0h0M946.7 845.7h0M963.5 875.4h0M1002.9 873.9h0M983.2 882.3h0M941.3 882.1h0M971.7 866.6h0M941.2 798.5h0M970.6 879.5h0M937.5 863.0h0M987.4 836.6h0M967.8 859.3h0M1003.8 879.9h0M972.3 853.6h0M985.5 838.8h0M1006.9 870.3h0M1004.9 843.8h0M937.5 857.1h0M947.0 814.9h0M944.3 872.6h0M968.0 868.2h0M977.8 878.0h0M935.1 863.3h0M970.7 879.2h0M959.6 858.9h0M990.8 857.6h0M941.7 881.8h0M978.9 844.6h0M991.0 839.3h0M983.1 846.9h0M941.1 866.5h0M938.0 857.6h0M938.9 865.8h0M945.5 849.9h0M1006.4 872.1h0M1007.3 816.7h0M998.5 823.7h0M955.6 868.0h0M996.2 875.2h0M989.2 856.9h0M940.7 866.0h0M1006.4 850.3h0M980.1 857.3h0M970.0 859.0h0M974.1 861.7h0M989.4 847.8h0M957.2 860.3h0M972.4 809.7h0M935.3 871.0h0M940.7 873.4h0M963.1 848.3h0M1001.0 871.4h0M984.0 871.6h0M978.1 874.9h0M985.1 877.4h0M963.0 846.4h0M963.6 856.8h0M977.0 870.0h0M946.5 854.0h0M936.6 882.4h0M937.9 876.7h0M944.7 869.0h0M998.2 877.5h0M1004.6 872.0h0M983.8 835.9h0M937.4 866.5h0M970.2 856.9h0M1006.8 858.8h0M945.8 868.6h0M938.6 862.1h0M1006.9 880.5h0M965.3 873.4h0M953.9 854.1h0M934.6 876.2h0M971.3 846.9h0M963.9 848.5h0M938.1 806.4h0M935.4 843.5h0M943.7 879.5h0M1004.1 877.6h0M939.4 859.7h0M966.3 825.2h0M969.7 873.6h0M984.7 871.5h0M977.3 850.2h0M974.1 871.2h0M984.8 796.8h0M946.9 882.0h0M959.4 878.2h0M963.3 856.5h0M1003.9 879.8h0M970.3 871.3h0M980.4 876.2h0M986.4 876.2h0M952.3 852.4h0M970.3 881.2h0M937.7 848.4h0M966.5 848.7h0M998.7 838.8h0M933.9 833.7h0M939.1 831.8h0M940.2 879.0h0M968.6 827.7h0M941.2 849.7h0M945.0 863.0h0M940.3 869.3h0M989.4 877.3h0M1003.3 844.1h0M984.8 822.1h0M992.1 858.2h0M963.5 837.3h0M945.8 801.2h0M961.7 826.0h0M970.7 879.5h0M934.7 869.8h0M956.3 829.8h0M985.6 878.8h0M952.7 871.0h0M939.7 865.8h0M969.3 870.5h0M935.5 805.4h0M996.3 861.3h0M1004.1 863.2h0M945.3 876.8h0M992.9 852.1h0M999.9 865.8h0M989.2 864.1h0M1004.1 865.9h0M971.8 879.9h0M994.2 836.2h0M984.1 875.8h0M998.3 851.3h0M1000.1 877.9h0M989.3 875.3h0M962.9 848.6h0M973.3 798.9h0M985.8 867.9h0M937.9 880.6h0M969.3 859.2h0M999.8 837.8h0M950.5 876.8h0M989.7 811.7h0M996.3 820.0h0M946.0 880.5h0M963.8 822.0h0M952.3 858.2h0M974.6 878.5h0M944.0 836.8h0M1003.2 814.1h0M982.0 863.2h0M980.3 818.1h0M1008.0 829.9h0M999.0 861.5h0M1000.9 871.4h0M988.4 876.4h0M1003.7 865.3h0M949.4 873.6h0M991.6 857.1h0M963.7 843.6h0M955.3 878.7h0M973.4 882.0h0M1003.5 871.7h0M973.6 852.5h0M987.5 865.2h0M956.9 815.6h0M960.7 883.0h0M989.9 867.0h0M1005.8 868.5h0M980.8 846.6h0M941.2 865.0h0M989.2 852.6h0M1006.8 873.0h0M953.0 882.1h0M972.6 868.4h0M1005.8 852.6h0M1005.2 876.2h0M944.5 867.7h0M943.5 877.0h0M983.6 843.7h0M984.0 831.7h0M1004.6 872.6h0M967.4 859.9h0M945.5 855.8h0M975.8 878.7h0M980.1 872.7h0M996.2 870.6h0M1003.8 878.3h0M1000.4 854.8h0M988.5 853.1h0M970.2 879.7h0M963.8 821.0h0M999.3 877.8h0M960.2 851.0h0M987.0 871.8h0M942.1 879.6h0M1007.0 844.8h0M999.6 863.0h0M988.7 879.9h0M989.0 863.4h0M1002.2 855.3h0M1003.9 808.8h0M983.6 801.6h0M964.9 858.1h0M1007.5 873.7h0M967.9 824.9h0M1003.3 865.2h0M990.6 881.7h0M967.3 877.7h0M996.8 881.0h0M932.7 869.0h0M968.6 829.3h0M944.7 846.4h0M946.3 852.8h0M958.9 877.2h0M932.3 870.2h0M957.8 816.9h0M963.6 876.5h0M944.8 851.7h0M937.0 870.4h0M963.7 870.5h0M964.9 869.5h0M963.4 873.2h0M947.5 833.8h0M943.2 879.8h0M953.4 881.0h0M975.8 879.2h0M954.8 868.2h0M939.2 880.6h0M957.2 872.3h0M967.3 855.9h0M947.7 866.3h0M933.8 875.9h0M990.0 874.1h0M954.9 875.7h0M985.4 865.5h0M970.9 859.7h0M967.3 881.7h0M1007.1 876.7h0M989.2 841.9h0M961.2 871.0h0M964.0 862.1h0M993.4 873.7h0M998.2 850.4h0M977.8 869.1h0M1001.9 868.1h0M967.4 858.2h0M990.6 879.2h0M945.4 832.7h0M967.6 799.2h0M961.7 837.2h0M933.5 870.8h0M985.7 861.8h0M1002.3 878.3h0M943.5 813.5h0M971.5 875.7h0M963.8 856.3h0M947.0 872.9h0M987.5 866.1h0M953.6 860.8h0M972.3 831.4h0M931.7 871.8h0M984.1 839.7h0M954.7 880.2h0M989.2 841.3h0M984.4 835.5h0M937.8 881.9h0M942.8 866.0h0M998.7 825.5h0M1004.9 853.9h0M944.1 875.8h0M937.3 859.3h0M944.2 865.0h0M967.2 856.8h0M995.7 867.6h0M948.5 862.3h0M976.5 856.3h0M936.0 855.1h0M937.6 852.3h0M983.2 876.6h0M948.8 804.9h0M996.3 869.8h0M935.1 880.6h0M977.3 866.9h0M936.2 809.0h0M977.7 811.3h0M998.7 846.2h0M934.3 874.5h0M972.5 869.7h0M989.4 800.0h0M946.8 872.3h0M939.3 816.3h0M983.6 880.7h0M949.9 846.0h0M933.8 813.3h0M989.3 873.3h0M938.6 866.3h0M985.0 879.1h0M981.6 878.7h0M936.7 846.5h0M989.8 859.9h0M935.5 879.4h0M963.7 881.5h0M992.9 872.4h0M989.4 829.1h0M978.3 879.5h0M1003.3 875.7h0M966.7 855.7h0M1005.0 876.8h0M989.7 872.0h0M975.3 869.1h0M984.4 881.2h0M939.3 875.6h0M945.7 875.9h0M966.5 845.1h0M966.8 858.5h0M960.5 838.3h0M933.8 880.6h0M983.8 866.6h0M938.5 868.9h0M944.9 859.5h0M998.9 869.9h0M964.7 871.3h0M982.1 875.8h0M970.0 874.3h0M941.0 817.6h0M939.0 836.3h0M955.4 838.5h0M998.5 822.7h0M990.7 872.1h0M995.5 799.9h0M992.0 831.2h0M960.5 868.9h0M998.7 861.5h0M950.5 880.8h0M973.1 863.0h0M983.9 820.1h0M998.1 864.0h0M948.8 849.3h0M968.3 869.4h0M985.0 860.0h0M941.0 856.7h0M933.6 875.2h0M988.7 872.1h0M963.1 809.7h0M975.5 839.5h0M1008.1 852.1h0M947.3 873.2h0M947.7 875.0h0M947.2 833.0h0M948.0 875.4h0M946.9 865.9h0M948.0 858.5h0M947.8 846.6h0M947.7 881.9h0M946.8 880.8h0M945.9 857.3h0M947.4 880.9h0M947.4 809.2h0M947.3 847.9h0M947.7 861.4h0M946.9 849.9h0M975.0 871.0h0M974.3 791.3h0M974.5 838.1h0M974.0 866.0h0M974.4 809.0h0M975.1 860.9h0M974.6 860.2h0M973.4 874.4h0M975.0 836.9h0M974.5 808.6h0M974.9 863.4h0M974.5 801.6h0M974.3 863.0h0M974.7 819.4h0M973.6 863.0h0M1005.7 826.2h0M1005.4 872.8h0M1005.3 836.9h0M1005.2 869.4h0M1005.2 812.0h0M1005.0 877.8h0M1005.2 877.0h0M1005.0 841.5h0M1004.9 870.4h0M1004.6 825.3h0M1004.7 801.8h0M1005.3 878.7h0M1005.7 862.4h0M1004.3 857.5h0M1005.6 830.1h0M1005.2 879.1h0M1005.2 859.4h0M1004.9 872.1h0M1103.8 868.1h0M1149.9 859.0h0M1081.9 874.7h0M1112.6 876.2h0M1104.7 801.6h0M1143.3 851.7h0M1121.3 812.6h0M1114.7 871.0h0M1108.7 876.6h0M1117.1 849.9h0M1108.9 879.9h0M1096.5 882.2h0M1138.6 877.8h0M1134.9 877.7h0M1147.0 881.1h0M1134.4 828.9h0M1074.3 878.5h0M1125.2 843.6h0M1116.5 828.2h0M1135.4 863.8h0M1121.5 831.3h0M1080.4 878.7h0M1127.7 876.2h0M1079.4 815.7h0M1080.5 837.5h0M1089.1 876.0h0M1077.0 874.9h0M1077.1 867.1h0M1118.6 847.2h0M1138.0 881.3h0M1142.6 867.1h0M1119.5 876.5h0M1139.3 864.8h0M1122.5 873.3h0M1146.2 870.3h0M1082.2 870.5h0M1148.4 825.6h0M1133.9 863.5h0M1105.5 860.9h0M1134.3 876.8h0M1107.8 866.1h0M1119.1 874.3h0M1083.0 856.6h0M1146.3 882.1h0M1089.4 872.4h0M1132.0 878.0h0M1085.3 880.7h0M1076.1 856.2h0M1132.0 871.0h0M1132.0 879.0h0M1105.1 872.3h0M1096.2 868.6h0M1115.3 817.5h0M1101.4 843.9h0M1097.9 842.9h0M1098.5 873.8h0M1081.4 875.9h0M1077.1 871.8h0M1076.3 870.1h0M1146.6 866.8h0M1104.3 876.0h0M1105.6 859.6h0M1105.1 877.9h0M1145.8 849.6h0M1121.8 829.2h0M1104.2 877.5h0M1100.2 877.0h0M1094.0 876.0h0M1105.1 880.5h0M1105.9 875.4h0M1146.1 826.3h0M1093.7 859.4h0M1130.5 882.6h0M1132.0 875.0h0M1136.6 820.0h0M1118.9 856.0h0M1076.1 879.0h0M1120.9 863.3h0M1136.8 881.5h0M1122.2 841.7h0M1098.2 880.2h0M1089.3 856.7h0M1111.5 876.6h0M1130.4 866.3h0M1097.1 876.1h0M1089.0 878.9h0M1088.3 880.1h0M1088.7 841.1h0M1132.6 849.7h0M1110.4 875.9h0M1116.9 825.6h0M1110.1 860.9h0M1115.7 863.1h0M1099.0 876.6h0M1123.5 864.0h0M1093.8 876.3h0M1132.7 875.5h0M1103.9 878.6h0M1138.4 845.3h0M1095.4 867.9h0M1120.2 881.2h0M1148.7 820.1h0M1104.7 881.4h0M1103.8 835.7h0M1120.0 823.6h0M1095.3 872.6h0M1127.2 833.3h0M1126.7 870.8h0M1106.0 879.1h0M1140.1 823.8h0M1127.3 881.3h0M1125.3 875.9h0M1080.3 877.9h0M1083.4 871.8h0M1127.8 870.3h0M1097.0 869.6h0M1095.4 867.6h0M1080.0 809.5h0M1078.8 843.6h0M1117.0 844.6h0M1148.9 851.7h0M1127.5 862.5h0M1121.3 861.5h0M1083.5 879.3h0M1109.6 807.5h0M1133.6 865.6h0M1080.4 862.9h0M1082.5 848.8h0M1138.3 876.6h0M1081.9 872.8h0M1125.4 854.9h0M1091.5 847.6h0M1078.7 872.9h0M1121.5 807.6h0M1077.4 882.2h0M1074.3 835.7h0M1125.3 865.8h0M1092.9 863.3h0M1114.8 876.8h0M1102.1 882.2h0M1101.6 839.1h0M1083.8 880.2h0M1140.8 875.3h0M1129.3 871.7h0M1135.9 859.3h0M1119.6 862.6h0M1126.2 873.8h0M1098.2 852.4h0M1146.0 872.3h0M1140.2 830.9h0M1122.2 867.0h0M1125.4 828.9h0M1080.4 839.6h0M1124.5 851.3h0M1135.8 838.4h0M1129.0 863.4h0M1104.8 820.2h0M1143.7 881.9h0M1138.4 799.2h0M1119.1 850.0h0M1107.4 874.8h0M1135.3 864.5h0M1122.7 855.9h0M1119.1 865.9h0M1116.2 882.2h0M1081.5 867.2h0M1136.8 871.9h0M1120.3 865.1h0M1080.7 862.2h0M1091.1 882.5h0M1095.5 842.4h0M1077.0 879.3h0M1118.9 874.4h0M1124.8 877.3h0M1135.0 864.6h0M1096.2 837.1h0M1094.6 879.3h0M1134.3 839.6h0M1095.7 877.8h0M1127.8 882.2h0M1110.8 822.5h0M1133.3 882.1h0M1087.6 867.0h0M1092.5 876.6h0M1125.5 877.3h0M1086.0 867.7h0M1079.7 843.5h0M1122.8 869.2h0M1103.8 836.6h0M1128.0 801.2h0M1144.7 847.4h0M1145.1 864.8h0M1100.8 881.5h0M1096.1 875.4h0M1077.4 874.2h0M1095.5 868.9h0M1105.8 879.7h0M1135.3 854.1h0M1080.6 877.1h0M1100.4 867.3h0M1124.3 878.3h0M1120.5 875.0h0M1144.5 881.0h0M1130.3 796.1h0M1143.3 848.1h0M1105.9 846.7h0M1095.7 866.3h0M1118.9 854.4h0M1110.6 871.9h0M1132.7 874.2h0M1130.1 861.9h0M1096.4 860.5h0M1109.6 863.8h0M1106.7 841.7h0M1138.5 877.9h0M1120.1 873.1h0M1086.9 880.5h0M1108.9 873.7h0M1087.6 875.1h0M1092.1 861.2h0M1111.3 813.7h0M1115.0 882.6h0M1120.3 846.7h0M1089.9 882.1h0M1076.8 880.3h0M1102.9 874.9h0M1142.4 882.3h0M1130.4 822.3h0M1148.1 861.8h0M1146.8 824.6h0M1106.1 838.9h0M1100.4 823.3h0M1113.3 832.2h0M1093.4 854.6h0M1079.5 877.6h0M1121.8 857.9h0M1107.9 860.6h0M1092.7 880.5h0M1119.3 839.2h0M1090.1 881.4h0M1127.1 850.0h0M1092.0 872.0h0M1114.8 852.9h0M1095.6 863.2h0M1119.9 882.6h0M1083.8 857.2h0M1118.9 873.3h0M1140.6 870.7h0M1132.9 870.9h0M1111.3 861.5h0M1125.4 833.3h0M1114.8 865.9h0M1095.0 843.1h0M1117.3 877.3h0M1127.1 861.5h0M1081.0 813.7h0M1103.1 842.3h0M1115.2 880.3h0M1111.4 881.2h0M1079.3 841.1h0M1138.4 882.4h0M1121.5 846.5h0M1131.6 869.9h0M1110.5 864.8h0M1111.9 878.4h0M1116.4 880.9h0M1099.5 842.7h0M1141.6 855.2h0M1102.1 846.0h0M1133.9 866.8h0M1120.2 802.9h0M1104.7 858.4h0M1134.2 847.5h0M1141.8 855.3h0M1100.7 831.4h0M1119.2 873.0h0M1094.1 834.7h0M1144.2 840.5h0M1116.4 872.5h0M1122.9 808.2h0M1086.3 864.7h0M1131.6 882.8h0M1125.1 872.8h0M1088.3 875.0h0M1146.8 866.8h0M1115.0 855.5h0M1087.6 868.9h0M1123.2 858.8h0M1113.4 867.4h0M1137.6 882.1h0M1109.3 861.8h0M1145.3 853.3h0M1141.6 872.1h0M1129.9 805.9h0M1143.2 854.4h0M1132.4 879.0h0M1146.0 880.5h0M1136.2 867.1h0M1091.0 854.5h0M1137.6 863.3h0M1114.6 867.6h0M1094.5 836.6h0M1134.2 881.6h0M1098.3 870.3h0M1132.4 874.5h0M1118.7 852.7h0M1081.1 853.0h0M1122.4 795.1h0M1120.9 854.6h0M1120.3 879.7h0M1145.0 842.0h0M1119.0 868.9h0M1122.0 845.2h0M1083.2 880.4h0M1149.0 882.3h0M1121.8 863.0h0M1114.5 881.4h0M1116.7 835.7h0M1121.9 799.8h0M1149.2 867.7h0M1089.9 854.0h0M1115.0 861.5h0M1100.8 882.2h0M1148.3 848.3h0M1115.8 858.2h0M1111.3 850.0h0M1086.4 882.1h0M1148.1 847.9h0M1077.5 854.2h0M1074.1 881.3h0M1081.1 873.2h0M1096.2 879.2h0M1134.8 867.6h0M1107.8 800.1h0M1145.0 870.9h0M1142.8 872.4h0M1084.6 881.7h0M1118.9 849.3h0M1137.3 833.9h0M1133.2 879.6h0M1100.1 860.7h0M1138.0 882.7h0M1091.0 879.3h0M1125.1 833.7h0M1126.4 875.3h0M1129.3 813.5h0M1144.8 837.8h0M1084.4 845.8h0M1145.1 831.8h0M1075.6 868.4h0M1116.7 870.3h0M1079.4 822.1h0M1085.5 847.5h0M1112.7 872.0h0M1120.8 875.2h0M1148.0 871.5h0M1138.0 857.5h0M1079.5 850.9h0M1120.3 878.3h0M1114.6 875.5h0M1130.2 868.2h0M1105.5 868.7h0M1083.1 871.1h0M1125.8 881.1h0M1120.7 868.0h0M1144.4 826.5h0M1103.9 833.5h0M1135.2 826.3h0M1122.3 820.3h0M1136.9 867.1h0M1126.6 852.9h0M1122.5 881.1h0M1110.9 875.2h0M1084.2 856.0h0M1143.8 874.4h0M1114.1 868.3h0M1147.2 865.3h0M1126.0 839.4h0M1124.8 874.4h0M1110.7 853.8h0M1104.5 865.6h0M1136.9 856.9h0M1106.2 802.0h0M1102.5 847.2h0M1144.2 868.8h0M1092.6 827.6h0M1104.3 802.0h0M1145.6 810.2h0M1116.8 871.4h0M1095.0 858.0h0M1080.6 879.4h0M1089.9 871.1h0M1082.5 862.4h0M1105.2 836.4h0M1124.8 825.9h0M1092.1 862.9h0M1079.3 847.0h0M1125.7 871.1h0M1096.6 867.3h0M1103.7 856.3h0M1080.2 873.1h0M1094.2 861.8h0M1119.3 832.4h0M1083.2 841.5h0M1101.7 860.0h0M1119.4 857.4h0M1079.3 868.8h0M1147.6 860.4h0M1131.9 825.8h0M1094.4 872.0h0M1118.7 854.2h0M1123.7 828.9h0M1130.3 869.9h0M1125.7 876.0h0M1100.4 831.7h0M1120.8 878.6h0M1143.2 869.1h0M1099.5 870.3h0M1140.1 813.7h0M1086.9 854.6h0M1136.1 830.6h0M1077.7 839.7h0M1136.7 863.9h0M1104.3 870.4h0M1121.4 810.9h0M1118.1 879.9h0M1079.9 841.4h0M1132.1 862.2h0M1115.9 881.9h0M1105.0 881.6h0M1131.2 831.6h0M1124.9 867.0h0M1087.8 798.3h0M1107.8 878.7h0M1076.8 873.6h0M1135.5 805.3h0M1136.8 860.4h0M1074.7 881.8h0M1129.6 877.6h0M1124.8 866.9h0M1117.1 878.6h0M1080.1 866.3h0M1124.5 874.8h0M1081.7 865.4h0M1135.1 822.9h0M1137.5 855.5h0M1078.5 866.1h0M1130.1 862.2h0M1076.3 877.9h0M1120.4 870.4h0M1109.5 810.6h0M1141.1 875.9h0M1128.9 872.9h0M1125.1 844.7h0M1137.2 878.2h0M1146.3 844.9h0M1080.2 876.5h0M1129.9 865.9h0M1076.3 861.5h0M1148.1 859.9h0M1079.6 817.1h0M1123.4 869.6h0M1118.4 878.7h0M1115.6 872.0h0M1119.7 874.6h0M1125.8 812.1h0M1105.4 849.9h0M1101.6 857.4h0M1116.1 850.1h0M1130.0 800.0h0M1101.1 821.9h0M1098.5 878.9h0M1074.4 868.2h0M1083.2 852.8h0M1130.2 874.6h0M1105.9 866.3h0M1145.9 809.0h0M1141.2 867.8h0M1146.8 843.1h0M1116.3 866.7h0M1122.8 879.8h0M1134.4 881.5h0M1126.9 853.2h0M1093.4 882.2h0M1106.1 853.4h0M1083.7 847.8h0M1077.1 810.0h0M1134.5 857.4h0M1088.0 859.4h0M1118.2 845.3h0M1120.5 798.5h0M1115.5 874.2h0M1140.8 847.6h0M1114.9 880.8h0M1137.1 869.7h0M1118.4 812.2h0M1146.7 881.9h0M1095.7 880.5h0M1113.7 816.6h0M1093.5 855.3h0M1097.3 881.0h0M1083.8 855.1h0M1106.0 867.2h0M1124.0 870.5h0M1135.6 826.9h0M1078.7 859.5h0M1108.4 855.8h0M1093.5 861.2h0M1144.6 839.2h0M1095.9 862.1h0M1076.8 870.7h0M1131.5 873.1h0M1105.7 857.2h0M1121.1 863.6h0M1124.1 872.3h0M1080.2 876.3h0M1126.8 869.8h0M1095.4 825.5h0M1091.1 856.3h0M1083.1 849.8h0M1079.6 877.4h0M1138.0 843.1h0M1100.3 847.6h0M1136.0 848.3h0M1115.2 861.4h0M1144.8 877.7h0M1080.2 850.6h0M1130.6 857.0h0M1077.2 879.1h0M1137.2 841.6h0M1130.7 879.1h0M1149.5 882.2h0M1138.1 863.3h0M1137.6 851.8h0M1134.6 849.3h0M1115.8 844.4h0M1075.0 860.9h0M1131.3 872.4h0M1084.3 870.7h0M1125.2 872.3h0M1136.7 865.2h0M1074.1 852.6h0M1114.2 829.1h0M1096.8 880.3h0M1135.2 874.1h0M1130.9 871.6h0M1145.2 855.1h0M1130.4 876.4h0M1076.8 868.1h0M1111.8 862.6h0M1106.5 843.5h0M1138.7 873.8h0M1106.0 873.8h0M1074.9 870.3h0M1110.9 856.7h0M1094.9 881.1h0M1113.7 871.0h0M1111.2 819.6h0M1105.0 847.8h0M1092.8 881.9h0M1110.9 843.4h0M1145.1 876.0h0M1144.3 865.5h0M1134.5 873.7h0M1082.7 873.2h0M1095.2 862.7h0M1092.7 879.7h0M1133.7 869.7h0M1105.6 874.0h0M1094.9 843.4h0M1142.3 861.6h0M1081.5 854.6h0M1090.1 838.0h0M1144.5 868.9h0M1106.2 840.5h0M1131.2 870.0h0M1114.8 858.3h0M1147.5 823.8h0M1117.0 839.1h0M1133.3 870.9h0M1105.1 871.9h0M1121.8 867.7h0M1118.6 873.0h0M1101.8 855.9h0M1131.9 865.6h0M1080.9 852.8h0M1144.2 879.9h0M1122.9 882.7h0M1128.3 882.2h0M1099.5 858.4h0M1115.4 881.3h0M1083.0 862.8h0M1103.3 859.5h0M1119.2 880.1h0M1093.3 829.4h0M1148.4 857.7h0M1126.3 855.9h0M1129.6 862.8h0M1138.5 864.5h0M1115.6 881.9h0M1131.5 881.7h0M1125.7 873.0h0M1114.4 807.1h0M1128.2 875.5h0M1141.4 879.0h0M1115.4 881.6h0M1123.6 802.7h0M1143.0 882.6h0M1088.5 862.6h0M1086.3 864.9h0M1094.6 816.1h0M1101.7 824.5h0M1080.2 862.7h0M1134.8 881.5h0M1122.4 855.0h0M1139.2 843.5h0M1098.2 882.5h0M1104.9 828.4h0M1142.9 875.6h0M1142.8 867.7h0M1084.9 821.8h0M1114.7 875.9h0M1105.0 865.4h0M1075.3 845.4h0M1107.6 860.9h0M1125.2 872.2h0M1105.1 852.3h0M1119.9 873.3h0M1132.7 851.2h0M1111.5 830.7h0M1093.0 845.1h0M1120.2 804.0h0M1077.2 853.1h0M1149.6 879.5h0M1148.6 858.3h0M1095.5 818.2h0M1130.5 823.1h0M1119.4 874.6h0M1126.0 862.4h0M1145.7 882.2h0M1123.2 876.5h0M1128.7 882.3h0M1121.6 860.4h0M1114.4 834.8h0M1111.6 882.0h0M1075.3 819.8h0M1125.4 881.7h0M1144.8 855.1h0M1121.2 867.9h0M1132.4 881.4h0M1148.4 838.5h0M1102.4 860.3h0M1143.0 878.7h0M1104.8 837.6h0M1080.0 868.3h0M1116.0 875.0h0M1146.2 868.0h0M1131.2 864.5h0M1091.9 871.6h0M1121.1 872.1h0M1091.1 881.3h0M1074.1 864.8h0M1124.0 880.0h0M1119.9 860.1h0M1083.3 870.4h0M1112.8 847.9h0M1092.8 869.0h0M1145.3 860.8h0M1103.9 820.7h0M1103.9 842.1h0M1125.1 841.6h0M1080.4 831.1h0M1145.1 868.1h0M1076.4 852.9h0M1145.3 865.5h0M1093.7 819.7h0M1108.6 855.9h0M1075.5 877.3h0M1124.5 849.6h0M1082.4 881.0h0M1105.3 826.7h0M1119.8 877.4h0M1114.3 861.6h0M1129.9 882.3h0M1136.9 879.5h0M1111.1 856.4h0M1093.4 872.0h0M1109.3 849.0h0M1139.2 878.3h0M1100.0 809.0h0M1123.4 813.0h0M1128.3 863.9h0M1125.6 875.9h0M1123.1 827.6h0M1137.0 866.3h0M1118.2 857.6h0M1119.5 869.8h0M1126.3 856.2h0M1145.7 861.9h0M1094.8 869.9h0M1125.3 870.8h0M1134.8 845.6h0M1125.1 820.7h0M1087.6 859.0h0M1144.8 876.7h0M1102.8 849.1h0M1114.8 844.5h0M1125.4 849.0h0M1111.1 838.0h0M1137.6 845.5h0M1087.2 878.4h0M1097.6 827.0h0M1091.7 881.1h0M1104.4 841.4h0M1089.4 880.9h0M1083.4 821.5h0M1075.9 861.4h0M1099.2 859.2h0M1077.3 858.3h0M1144.0 860.6h0M1103.0 844.4h0M1085.2 838.2h0M1080.0 864.5h0M1082.0 860.3h0M1137.7 866.8h0M1126.9 879.4h0M1141.1 869.7h0M1114.6 830.1h0M1091.9 880.4h0M1109.8 875.5h0M1095.1 877.3h0M1126.4 850.0h0M1087.1 879.7h0M1075.1 868.4h0M1118.2 827.7h0M1110.9 878.8h0M1133.5 871.2h0M1105.7 830.3h0M1096.0 849.6h0M1105.5 882.2h0M1139.2 878.1h0M1136.3 864.6h0M1131.4 844.2h0M1110.0 857.6h0M1133.8 867.2h0M1142.9 877.7h0M1116.7 864.4h0M1108.4 870.8h0M1089.4 875.5h0M1106.2 863.6h0M1136.4 870.7h0M1133.8 874.3h0M1134.3 878.3h0M1125.0 875.5h0M1110.5 830.7h0M1138.0 833.5h0M1146.2 880.4h0M1109.4 867.3h0M1104.3 878.9h0M1144.6 882.3h0M1111.0 869.6h0M1120.0 836.6h0M1137.7 807.1h0M1079.8 807.6h0M1093.3 859.8h0M1123.1 882.6h0M1087.9 840.4h0M1125.8 879.4h0M1122.6 839.8h0M1104.4 878.7h0M1142.3 866.2h0M1118.1 820.7h0M1114.2 861.1h0M1110.4 853.9h0M1137.2 842.3h0M1082.9 856.2h0M1106.0 876.7h0M1134.7 864.8h0M1111.2 835.0h0M1096.4 845.6h0M1137.1 874.6h0M1101.9 874.6h0M1100.3 878.8h0M1137.3 861.4h0M1118.6 881.7h0M1138.3 848.0h0M1131.2 818.0h0M1137.9 870.8h0M1102.2 850.4h0M1104.2 836.4h0M1082.5 850.4h0M1092.8 826.4h0M1096.7 875.3h0M1140.3 873.3h0M1136.1 866.7h0M1128.1 848.4h0M1120.5 801.2h0M1095.8 810.9h0M1114.2 881.0h0M1109.7 876.5h0M1126.1 825.5h0M1125.5 839.2h0M1126.2 849.5h0M1125.7 871.8h0M1125.8 872.5h0M1126.0 837.9h0M1126.0 852.4h0M1125.6 869.4h0M1125.7 802.3h0M1126.6 811.7h0M1126.1 861.2h0M1125.9 812.8h0M1125.6 818.8h0M1125.8 864.3h0M1125.6 845.0h0M1125.4 856.9h0M1125.3 866.1h0M1125.9 866.7h0M1125.6 863.3h0M1125.6 811.7h0M1125.1 878.2h0M1125.3 849.8h0M1096.2 819.5h0M1094.8 867.7h0M1095.9 857.9h0M1094.3 859.1h0M1095.3 852.9h0M1095.3 851.7h0M1095.5 871.6h0M1095.3 806.8h0M1095.7 830.2h0M1096.0 844.0h0M1095.5 807.0h0M1095.4 808.0h0M1137.9 829.3h0M1136.2 840.4h0M1137.7 831.8h0M1137.5 874.6h0M1137.4 839.3h0M1137.5 857.7h0M1137.3 870.5h0M1137.1 859.3h0M1137.3 875.6h0M1138.3 882.1h0M947.9 595.8h0M947.9 621.7h0M950.2 684.7h0M934.4 699.4h0M934.4 715.5h0M950.2 715.0h0M943.0 726.8h0M969.5 727.3h0M974.9 739.5h0M978.8 740.5h0M971.8 745.8h0M947.4 749.3h0M947.4 752.7h0M965.7 754.6h0M965.7 762.0h0M971.8 755.1h0M974.9 762.0h0M969.7 769.8h0M980.2 769.8h0M943.0 774.2h0M953.1 768.3h0M953.1 777.6h0M976.5 773.2h0M987.2 781.0h0M1006.0 713.6h0M1007.6 713.1h0M1007.6 733.1h0M1005.3 744.9h0M1004.8 764.9h0M1125.7 677.4h0M1125.7 687.7h0M1125.7 713.1h0M1125.7 721.9h0M1125.7 726.8h0M1075.6 709.2h0M1094.4 706.7h0M1078.0 742.4h0M1098.4 751.7h0M1096.0 761.0h0M1094.2 773.7h0M1118.3 766.4h0M1125.7 761.0h0M1125.7 768.8h0M1125.7 774.2h0M1129.0 772.2h0M1137.6 756.6h0M1137.6 765.9h0M1108.9 776.1h0M1075.6 775.2h0M1075.6 781.0h0" stroke="#BBBBBB" stroke-width="2.4" stroke-linecap="round" fill="none"/>
<path d="M929.1 846.7h0M895.8 830.5h0M920.1 859.8h0M929.4 879.1h0M920.4 804.2h0M930.1 872.5h0M893.7 863.0h0M919.6 861.8h0M911.8 868.7h0M887.8 875.1h0M886.8 871.4h0M912.0 851.7h0M928.6 785.7h0M912.3 829.1h0M908.3 872.8h0M898.1 862.4h0M917.0 818.9h0M908.3 824.9h0M900.1 874.5h0M893.5 834.2h0M906.1 785.5h0M914.8 799.7h0M905.8 881.7h0M916.7 871.0h0M909.3 862.1h0M890.2 873.1h0M915.6 875.5h0M905.3 852.0h0M903.8 834.3h0M927.1 858.6h0M927.7 860.2h0M899.6 876.0h0M909.5 862.5h0M926.4 842.4h0M901.3 844.7h0M894.4 802.2h0M915.7 872.1h0M929.8 879.3h0M929.5 860.7h0M896.6 820.1h0M899.9 796.9h0M906.1 842.4h0M909.2 877.7h0M900.9 834.1h0M928.3 871.6h0M926.1 856.3h0M904.8 785.7h0M904.2 862.6h0M899.2 844.7h0M900.5 804.6h0M886.2 864.7h0M917.4 881.1h0M885.1 880.3h0M928.8 814.9h0M887.1 819.4h0M908.5 822.1h0M903.3 876.9h0M913.8 874.0h0M891.4 842.4h0M908.9 874.3h0M930.7 804.3h0M899.9 852.5h0M914.8 863.3h0M920.5 881.3h0M900.3 863.7h0M908.3 856.5h0M899.8 859.5h0M897.8 811.6h0M923.6 821.4h0M895.3 835.2h0M929.0 873.1h0M919.4 850.8h0M926.0 876.1h0M916.7 815.6h0M899.0 870.3h0M911.5 822.9h0M908.1 846.9h0M893.7 833.4h0M913.1 865.3h0M901.8 834.8h0M908.5 864.0h0M898.1 855.0h0M896.6 876.0h0M900.4 855.3h0M891.4 867.8h0M926.2 878.9h0M899.6 876.6h0M889.0 836.8h0M925.3 818.3h0M916.9 838.7h0M884.9 830.0h0M929.0 880.9h0M913.0 877.5h0M903.3 847.7h0M910.2 872.2h0M919.9 843.7h0M884.8 879.0h0M919.5 874.1h0M900.4 879.2h0M925.8 861.4h0M906.4 824.6h0M906.0 875.4h0M926.0 881.4h0M929.1 861.5h0M906.1 853.9h0M896.3 836.0h0M899.9 812.3h0M929.3 862.0h0M916.3 829.2h0M920.4 873.7h0M900.7 868.1h0M927.2 840.7h0M904.3 863.1h0M903.6 866.9h0M900.0 859.4h0M911.4 860.5h0M922.0 850.9h0M919.5 854.6h0M916.4 814.6h0M904.2 882.8h0M925.0 857.0h0M897.5 856.7h0M909.3 848.5h0M910.2 837.9h0M918.5 869.7h0M925.0 834.9h0M900.0 868.3h0M884.9 873.2h0M926.7 864.5h0M890.5 863.9h0M920.9 871.4h0M905.1 813.2h0M911.1 865.6h0M902.3 877.6h0M908.3 870.0h0M888.4 846.2h0M900.8 857.0h0M931.0 858.6h0M902.8 882.3h0M898.1 867.3h0M918.9 878.1h0M910.1 825.0h0M908.9 815.8h0M912.2 874.0h0M903.1 852.3h0M894.9 867.1h0M892.7 882.1h0M893.6 868.8h0M903.3 812.2h0M894.6 796.9h0M906.5 824.0h0M897.1 877.9h0M892.7 861.7h0M889.5 841.4h0M911.6 879.2h0M919.3 848.5h0M906.3 861.0h0M897.0 807.5h0M915.1 843.3h0M896.3 877.7h0M911.1 882.5h0M904.1 881.3h0M920.4 865.1h0M909.7 825.2h0M925.8 880.0h0M895.6 880.3h0M898.2 868.9h0M923.1 863.7h0M897.7 873.3h0M887.9 790.6h0M908.3 850.2h0M892.5 846.5h0M903.3 876.1h0M908.3 858.8h0M887.6 860.2h0M920.9 856.5h0M888.9 881.9h0M889.1 865.6h0M889.8 864.8h0M927.7 875.8h0M906.7 843.0h0M920.1 852.9h0M916.6 863.4h0M895.0 825.2h0M903.8 854.0h0M925.2 822.8h0M929.9 853.2h0M920.0 794.7h0M897.8 826.7h0M922.5 873.4h0M901.1 857.3h0M890.0 880.4h0M894.2 855.2h0M921.6 801.9h0M904.8 869.5h0M892.4 862.4h0M920.8 856.6h0M900.9 869.9h0M885.2 844.3h0M921.2 870.4h0M900.8 849.9h0M926.8 858.7h0M889.5 882.1h0M902.1 868.9h0M890.2 873.8h0M900.2 861.9h0M927.5 850.1h0M885.9 818.0h0M898.9 870.0h0M900.6 882.5h0M898.9 877.1h0M893.6 847.0h0M929.5 838.0h0M889.5 875.0h0M893.8 873.4h0M909.1 852.3h0M926.0 868.3h0M896.5 864.2h0M900.7 872.4h0M900.7 878.4h0M889.0 823.9h0M916.0 832.7h0M921.2 853.5h0M892.1 870.6h0M912.7 875.9h0M907.7 842.5h0M924.3 879.5h0M912.9 877.7h0M912.4 862.2h0M897.8 850.6h0M914.9 784.6h0M895.1 873.2h0M896.4 868.9h0M929.2 816.1h0M925.3 877.3h0M885.9 882.9h0M919.6 875.0h0M888.0 878.0h0M888.7 873.8h0M926.9 839.3h0M903.1 840.8h0M911.2 869.0h0M930.6 850.2h0M917.4 833.4h0M893.3 800.7h0M905.4 799.7h0M912.8 859.6h0M896.7 826.4h0M891.6 818.6h0M919.6 859.6h0M902.8 878.2h0M911.7 862.8h0M920.8 882.8h0M894.1 882.6h0M885.3 852.4h0M912.0 864.3h0M917.1 797.0h0M888.1 870.6h0M892.3 824.3h0M929.8 830.7h0M923.4 818.9h0M915.8 873.8h0M905.3 848.9h0M925.8 823.4h0M908.6 826.1h0M900.7 858.6h0M903.1 793.7h0M920.2 811.3h0M916.8 789.7h0M899.0 875.9h0M905.8 880.9h0M921.8 862.1h0M900.1 864.9h0M928.5 803.9h0M930.3 866.9h0M928.3 805.8h0M931.3 859.6h0M899.9 867.1h0M893.7 868.5h0M904.3 877.1h0M930.3 870.4h0M906.0 880.4h0M921.7 785.4h0M886.8 879.4h0M906.6 862.5h0M925.5 844.1h0M913.8 849.4h0M911.6 804.2h0M890.4 837.2h0M920.5 863.8h0M895.1 877.2h0M897.6 880.9h0M889.3 819.4h0M903.7 875.8h0M920.2 863.4h0M900.0 877.1h0M930.4 864.3h0M891.8 856.4h0M893.8 876.5h0M892.4 825.6h0M913.7 809.2h0M895.6 866.5h0M886.7 859.3h0M915.5 831.8h0M930.3 823.8h0M909.7 802.2h0M893.3 868.3h0M899.9 846.2h0M923.4 867.8h0M885.6 871.1h0M908.2 822.4h0M907.7 865.8h0M905.9 866.8h0M903.5 851.0h0M912.2 859.9h0M909.2 847.5h0M900.6 821.3h0M903.8 785.3h0M888.8 882.0h0M913.6 854.7h0M903.3 881.0h0M891.1 827.3h0M919.3 840.5h0M928.1 866.8h0M924.9 865.2h0M890.7 870.6h0M918.7 873.7h0M927.9 876.5h0M917.6 817.2h0M908.6 825.2h0M903.6 854.3h0M904.2 856.1h0M923.4 856.4h0M905.0 870.6h0M919.6 837.0h0M914.0 841.4h0M898.1 826.8h0M909.9 870.0h0M890.2 878.9h0M895.5 831.1h0M894.5 843.9h0M909.8 880.5h0M903.4 830.7h0M885.6 875.6h0M906.9 860.3h0M898.2 851.9h0M898.2 795.2h0M906.5 838.9h0M902.3 871.5h0M903.4 807.1h0M910.0 869.1h0M888.2 877.3h0M914.6 826.9h0M901.2 857.6h0M917.0 866.4h0M912.6 855.1h0M895.2 878.6h0M928.8 814.0h0M909.7 867.2h0M897.5 802.7h0M912.2 865.1h0M884.9 869.5h0M897.5 863.9h0M919.3 845.1h0M890.5 869.8h0M899.1 795.1h0M912.2 849.6h0M913.3 882.2h0M920.3 826.4h0M895.4 867.2h0M931.1 819.2h0M894.2 859.9h0M926.0 862.0h0M910.6 872.8h0M893.2 854.5h0M928.2 879.3h0M929.4 860.0h0M885.4 882.2h0M898.8 821.0h0M896.5 875.0h0M902.1 881.3h0M912.3 814.2h0M913.1 844.2h0M912.6 862.1h0M911.4 852.0h0M903.3 866.1h0M930.5 864.5h0M890.5 866.2h0M894.6 866.9h0M885.3 852.9h0M889.4 875.6h0M904.1 882.0h0M886.8 876.3h0M925.2 882.9h0M890.0 848.9h0M890.2 874.4h0M900.0 855.8h0M886.0 828.1h0M921.9 841.7h0M917.9 876.5h0M918.5 873.6h0M920.3 870.6h0M919.2 833.5h0M912.0 874.7h0M911.1 876.0h0M904.0 860.5h0M905.4 853.9h0M893.0 876.9h0M891.8 874.5h0M919.6 860.1h0M907.4 882.1h0M908.4 854.2h0M920.5 878.7h0M925.9 805.2h0M915.5 838.7h0M928.7 860.2h0M920.5 880.3h0M919.6 844.3h0M909.4 854.7h0M896.4 870.0h0M899.4 868.2h0M910.0 855.6h0M914.3 874.8h0M908.4 831.7h0M909.1 820.0h0M915.4 880.9h0M889.9 874.1h0M902.1 866.1h0M920.2 881.0h0M925.3 858.2h0M921.6 868.9h0M923.3 856.1h0M918.0 825.8h0M927.7 849.5h0M912.3 856.5h0M892.4 853.2h0M926.4 793.4h0M914.7 867.9h0M914.9 875.2h0M900.9 877.9h0M906.4 854.6h0M916.3 812.0h0M926.8 871.6h0M891.2 852.6h0M892.4 875.2h0M900.2 824.7h0M903.0 869.3h0M904.1 860.6h0M903.5 827.6h0M894.7 832.7h0M905.9 827.1h0M914.2 853.1h0M896.5 869.9h0M884.6 857.3h0M893.0 877.6h0M907.2 819.1h0M906.8 870.3h0M884.3 854.6h0M884.0 876.9h0M897.7 805.1h0M914.3 845.6h0M894.0 859.8h0M893.7 806.9h0M928.7 860.0h0M895.4 873.1h0M889.6 855.0h0M893.4 877.4h0M901.7 877.0h0M899.3 827.2h0M909.2 826.8h0M925.1 851.9h0M921.4 877.6h0M919.9 876.5h0M893.8 825.7h0M919.5 864.5h0M893.1 786.9h0M925.1 880.2h0M893.5 826.3h0M914.4 811.9h0M899.4 848.8h0M901.8 825.5h0M901.7 852.7h0M902.3 869.5h0M901.6 822.9h0M902.0 856.4h0M901.3 868.7h0M901.7 878.8h0M902.4 823.9h0M902.2 878.7h0M902.6 811.0h0M900.9 877.2h0M901.6 840.1h0M901.8 862.3h0M902.4 850.3h0M902.4 811.0h0M901.9 845.7h0M902.4 822.8h0M902.7 790.9h0M902.3 853.3h0M901.5 827.2h0M901.9 851.8h0M901.8 877.4h0M902.8 832.8h0M902.4 857.5h0M901.8 881.7h0M902.2 809.0h0M902.2 812.5h0M901.4 846.0h0M902.2 875.1h0M901.7 829.5h0M889.8 879.1h0M890.9 855.2h0M889.8 880.7h0M890.1 864.3h0M890.2 856.4h0M889.2 871.7h0M890.4 813.2h0M889.8 816.0h0M889.9 874.8h0M891.2 832.7h0M889.8 841.2h0M889.7 857.7h0M891.2 800.9h0M889.1 868.2h0M891.0 868.5h0M922.5 851.0h0M922.4 808.9h0M922.4 871.0h0M922.1 824.1h0M922.0 843.9h0M922.0 880.8h0M923.2 880.0h0M921.5 881.9h0M921.5 866.4h0M922.1 858.2h0M921.6 881.3h0M921.9 817.2h0M921.8 862.0h0M922.4 882.0h0M921.6 867.4h0M922.8 864.4h0M922.6 853.1h0M921.7 880.3h0M923.1 848.5h0M922.4 843.5h0M913.9 859.2h0M913.5 840.3h0M913.2 843.4h0M912.8 840.2h0M913.7 838.4h0M913.8 876.3h0M914.1 795.4h0M913.5 854.3h0M913.3 842.0h0M913.7 851.7h0M912.6 875.6h0M914.3 864.9h0M1047.0 878.8h0M1038.3 877.4h0M1014.9 877.1h0M1039.0 812.0h0M1039.2 862.9h0M1062.4 837.8h0M1027.2 853.4h0M1060.2 854.6h0M1030.1 862.8h0M1020.6 843.2h0M1017.5 863.6h0M1057.6 837.0h0M1010.4 878.6h0M1047.1 882.7h0M1027.7 832.3h0M1054.7 818.3h0M1055.7 866.2h0M1014.3 833.6h0M1069.4 875.9h0M1018.1 785.3h0M1052.4 855.1h0M1017.8 853.8h0M1054.6 848.7h0M1056.7 870.4h0M1053.3 820.6h0M1014.7 879.1h0M1069.8 790.9h0M1048.8 846.3h0M1022.3 822.8h0M1020.0 875.9h0M1034.2 865.0h0M1048.7 830.5h0M1061.9 812.6h0M1035.0 846.7h0M1048.8 814.9h0M1038.1 882.2h0M1051.8 862.5h0M1010.7 868.9h0M1066.7 859.3h0M1047.2 872.6h0M1062.1 813.0h0M1024.8 829.2h0M1036.8 826.9h0M1050.5 851.6h0M1044.3 848.2h0M1017.1 855.5h0M1039.4 857.6h0M1034.8 859.9h0M1061.8 863.1h0M1028.7 874.8h0M1053.8 879.2h0M1031.3 815.5h0M1060.4 880.3h0M1054.1 807.3h0M1051.1 875.6h0M1022.5 869.2h0M1063.0 863.2h0M1030.5 872.1h0M1069.0 864.5h0M1064.8 859.7h0M1063.7 852.2h0M1055.0 792.1h0M1023.2 828.9h0M1019.3 852.1h0M1042.3 812.2h0M1057.6 877.6h0M1011.1 797.6h0M1010.7 829.8h0M1065.3 847.3h0M1019.3 866.2h0M1035.2 790.8h0M1017.9 880.4h0M1045.8 809.4h0M1019.8 823.0h0M1055.4 881.4h0M1037.0 836.0h0M1037.6 840.5h0M1057.2 812.4h0M1026.0 848.1h0M1011.7 867.9h0M1012.4 875.0h0M1039.7 837.9h0M1032.3 842.6h0M1069.2 856.4h0M1071.3 872.4h0M1053.4 811.8h0M1046.0 869.5h0M1030.8 850.9h0M1063.0 872.0h0M1064.6 832.4h0M1060.6 879.5h0M1058.8 881.0h0M1014.7 870.1h0M1058.2 875.3h0M1050.9 810.8h0M1010.0 881.5h0M1031.1 864.2h0M1052.1 831.1h0M1055.6 872.8h0M1048.3 856.8h0M1050.5 799.0h0M1067.0 851.5h0M1024.5 853.3h0M1011.1 825.2h0M1033.2 867.8h0M1064.1 870.8h0M1049.6 859.8h0M1043.6 814.6h0M1020.6 855.5h0M1018.9 857.5h0M1020.8 860.6h0M1058.6 871.7h0M1012.2 825.4h0M1014.2 874.2h0M1053.4 820.9h0M1052.3 882.1h0M1030.2 852.7h0M1020.9 808.0h0M1024.1 816.4h0M1013.2 858.7h0M1026.0 881.6h0M1019.2 846.2h0M1045.5 868.5h0M1037.2 875.0h0M1066.9 873.6h0M1064.1 855.3h0M1064.9 855.4h0M1014.1 882.0h0M1011.9 878.0h0M1026.0 882.3h0M1011.7 877.5h0M1024.7 869.8h0M1030.4 843.5h0M1039.9 857.3h0M1016.6 802.6h0M1062.9 807.8h0M1031.5 877.1h0M1030.0 859.9h0M1061.5 864.0h0M1056.2 878.3h0M1046.6 851.3h0M1010.9 866.5h0M1058.4 873.0h0M1068.5 824.8h0M1018.8 876.0h0M1025.0 866.7h0M1013.1 847.4h0M1018.0 871.8h0M1059.5 835.1h0M1031.5 843.2h0M1031.2 875.7h0M1042.7 865.7h0M1009.3 855.9h0M1069.0 877.6h0M1050.3 863.9h0M1012.0 852.7h0M1029.5 861.9h0M1051.6 835.2h0M1050.7 859.6h0M1023.7 877.8h0M1046.7 882.3h0M1012.1 865.3h0M1059.3 870.6h0M1028.3 852.9h0M1071.3 878.6h0M1057.9 832.1h0M1056.1 837.9h0M1051.7 830.9h0M1055.4 821.5h0M1069.8 864.6h0M1014.6 869.1h0M1034.1 819.9h0M1048.1 880.7h0M1022.2 837.8h0M1029.8 852.3h0M1059.0 873.4h0M1046.2 836.5h0M1038.0 854.4h0M1064.0 871.7h0M1052.5 871.5h0M1028.6 838.7h0M1023.0 822.1h0M1012.2 875.4h0M1052.8 881.6h0M1019.1 880.2h0M1021.4 878.6h0M1055.8 821.5h0M1025.2 859.6h0M1052.0 795.2h0M1039.7 868.8h0M1045.9 881.2h0M1054.7 814.3h0M1012.4 860.4h0M1022.9 825.4h0M1044.9 873.0h0M1047.3 854.6h0M1047.0 876.0h0M1048.3 815.5h0M1062.4 793.5h0M1014.4 860.7h0M1037.0 856.2h0M1069.1 869.8h0M1038.9 815.0h0M1069.9 849.9h0M1024.5 844.5h0M1058.6 849.0h0M1019.0 879.0h0M1025.6 844.9h0M1030.6 829.1h0M1051.7 857.6h0M1017.9 819.0h0M1061.9 874.3h0M1065.0 864.7h0M1056.2 874.8h0M1048.3 878.8h0M1046.7 851.8h0M1039.2 865.9h0M1017.9 879.7h0M1070.9 838.9h0M1059.4 858.3h0M1054.7 878.1h0M1046.8 799.1h0M1037.3 871.2h0M1053.4 848.3h0M1061.9 812.6h0M1023.3 786.0h0M1039.4 849.7h0M1043.0 870.4h0M1008.9 838.6h0M1030.3 868.9h0M1011.5 874.9h0M1053.3 867.5h0M1019.6 854.2h0M1023.4 870.3h0M1014.4 856.5h0M1014.7 864.1h0M1019.6 879.2h0M1025.7 879.5h0M1065.8 855.8h0M1068.6 846.2h0M1059.6 882.1h0M1011.7 873.4h0M1039.2 838.8h0M1054.6 846.3h0M1044.3 843.2h0M1049.4 797.9h0M1065.1 866.9h0M1017.3 860.9h0M1028.8 864.0h0M1062.1 823.6h0M1047.3 854.6h0M1017.6 872.3h0M1053.4 880.6h0M1037.2 878.1h0M1028.7 810.0h0M1029.7 878.8h0M1068.9 854.8h0M1021.6 845.3h0M1057.9 882.2h0M1035.6 852.9h0M1042.8 878.1h0M1021.0 859.8h0M1055.5 870.0h0M1018.9 825.3h0M1055.0 875.8h0M1043.6 860.2h0M1018.8 864.1h0M1053.8 881.6h0M1063.7 824.5h0M1055.1 846.9h0M1035.3 842.8h0M1051.9 881.0h0M1025.6 869.4h0M1070.2 872.9h0M1061.9 810.4h0M1042.8 846.0h0M1050.8 812.7h0M1038.4 821.8h0M1019.3 844.1h0M1012.3 845.2h0M1053.7 882.2h0M1011.9 806.6h0M1047.9 814.3h0M1050.5 833.4h0M1013.4 877.1h0M1064.9 874.3h0M1018.6 859.0h0M1018.3 855.6h0M1055.6 831.3h0M1059.4 875.5h0M1019.6 832.4h0M1065.6 875.9h0M1018.0 853.5h0M1069.6 874.9h0M1011.2 801.1h0M1056.8 828.2h0M1025.4 826.5h0M1012.2 824.7h0M1047.5 868.9h0M1017.9 881.9h0M1043.3 826.6h0M1017.8 877.0h0M1036.8 845.6h0M1053.3 882.0h0M1056.7 879.3h0M1018.2 861.0h0M1022.7 880.3h0M1017.9 865.7h0M1068.5 848.6h0M1064.2 874.4h0M1015.8 846.8h0M1061.1 822.6h0M1047.6 858.6h0M1056.4 819.6h0M1039.4 861.1h0M1054.4 852.6h0M1040.1 833.3h0M1036.0 794.4h0M1064.5 795.9h0M1030.3 791.6h0M1069.7 874.2h0M1014.8 873.7h0M1031.5 862.7h0M1052.3 856.2h0M1068.0 832.8h0M1010.6 856.0h0M1055.5 839.9h0M1057.7 872.3h0M1037.0 876.0h0M1039.9 813.6h0M1058.7 873.9h0M1031.7 856.3h0M1031.3 811.7h0M1037.7 837.7h0M1037.2 864.3h0M1052.0 869.0h0M1039.2 868.9h0M1020.1 844.1h0M1020.2 869.7h0M1023.8 875.5h0M1058.4 828.4h0M1012.3 842.4h0M1031.0 878.6h0M1039.3 798.0h0M1029.9 861.8h0M1028.1 879.3h0M1050.5 860.6h0M1055.9 875.6h0M1018.0 872.5h0M1017.9 857.3h0M1067.8 845.2h0M1061.8 864.1h0M1028.9 828.8h0M1044.4 834.1h0M1068.6 877.9h0M1049.9 869.3h0M1069.7 863.2h0M1062.4 862.8h0M1067.2 881.2h0M1031.2 867.3h0M1012.1 822.8h0M1056.0 849.0h0M1062.4 871.8h0M1071.3 867.3h0M1009.7 868.1h0M1028.2 848.8h0M1039.8 877.7h0M1032.2 856.1h0M1063.6 873.5h0M1032.0 784.9h0M1012.5 829.7h0M1067.3 867.1h0M1069.3 845.5h0M1061.4 868.3h0M1062.3 877.4h0M1026.9 876.7h0M1048.1 878.0h0M1043.7 875.8h0M1042.0 837.3h0M1060.8 859.0h0M1015.4 873.5h0M1069.4 879.2h0M1027.4 862.3h0M1022.5 841.6h0M1032.7 882.8h0M1043.3 881.0h0M1022.3 874.7h0M1069.1 880.4h0M1046.1 882.2h0M1055.2 820.6h0M1047.9 882.8h0M1059.5 879.8h0M1037.6 802.7h0M1061.3 844.8h0M1049.5 864.1h0M1019.4 877.7h0M1011.5 880.3h0M1046.2 836.9h0M1050.0 830.4h0M1028.6 878.0h0M1048.4 793.7h0M1067.0 795.3h0M1013.8 871.8h0M1013.7 865.6h0M1052.8 862.8h0M1035.4 872.1h0M1069.8 859.5h0M1029.2 876.4h0M1046.2 863.7h0M1030.6 843.4h0M1018.9 844.0h0M1054.5 842.4h0M1068.3 853.7h0M1014.1 860.8h0M1019.8 880.6h0M1055.5 864.4h0M1058.2 826.1h0M1064.1 817.5h0M1018.0 808.4h0M1014.7 857.2h0M1027.4 875.8h0M1070.1 872.2h0M1055.2 850.8h0M1023.5 864.8h0M1024.3 840.8h0M1043.5 815.4h0M1062.9 871.8h0M1057.9 881.4h0M1050.7 816.9h0M1056.6 877.7h0M1018.9 876.1h0M1058.4 881.6h0M1057.1 854.0h0M1018.5 860.1h0M1040.5 857.7h0M1052.5 814.2h0M1051.6 877.6h0M1009.5 852.7h0M1030.8 825.2h0M1064.2 846.5h0M1034.2 851.3h0M1059.0 875.1h0M1015.4 843.7h0M1039.1 792.6h0M1062.7 868.2h0M1069.1 877.0h0M1014.9 850.5h0M1042.9 879.2h0M1013.2 874.3h0M1056.2 870.0h0M1036.3 849.8h0M1068.9 846.6h0M1042.6 866.7h0M1014.6 879.0h0M1033.9 826.3h0M1014.3 870.8h0M1069.1 867.4h0M1048.5 833.9h0M1047.4 826.9h0M1067.5 873.1h0M1064.0 870.8h0M1022.4 877.7h0M1052.2 876.1h0M1039.4 878.9h0M1059.2 868.0h0M1053.9 874.0h0M1061.9 852.9h0M1028.6 865.9h0M1037.8 834.6h0M1066.0 854.5h0M1017.6 875.3h0M1031.5 855.0h0M1055.8 862.5h0M1031.2 849.6h0M1029.7 866.9h0M1027.1 872.1h0M1059.2 791.1h0M1030.7 878.7h0M1029.9 843.8h0M1020.1 869.8h0M1063.7 808.0h0M1061.9 853.6h0M1014.9 850.0h0M1030.6 853.3h0M1025.3 817.0h0M1036.1 868.1h0M1052.4 865.7h0M1051.8 850.7h0M1031.6 791.6h0M1040.0 813.3h0M1065.4 828.6h0M1023.8 879.4h0M1022.6 797.8h0M1033.1 787.1h0M1044.3 837.3h0M1055.6 865.0h0M1047.8 879.9h0M1047.4 873.1h0M1061.9 866.1h0M1036.8 841.5h0M1061.8 878.3h0M1039.6 843.4h0M1070.2 874.8h0M1030.3 846.4h0M1032.3 826.6h0M1044.8 830.4h0M1018.7 822.1h0M1039.7 882.7h0M1062.1 786.9h0M1031.7 867.2h0M1027.4 881.3h0M1054.3 858.2h0M1012.9 880.4h0M1034.2 850.5h0M1026.3 802.2h0M1053.5 817.0h0M1024.7 813.5h0M1030.9 866.9h0M1017.3 837.0h0M1047.7 818.0h0M1034.0 857.3h0M1056.3 879.0h0M1024.2 862.5h0M1058.9 835.8h0M1064.8 848.5h0M1046.1 877.9h0M1047.5 877.0h0M1068.9 857.9h0M1030.9 865.5h0M1051.4 856.8h0M1065.0 880.0h0M1042.7 846.2h0M1009.3 856.9h0M1026.2 791.3h0M1050.7 839.9h0M1031.2 875.5h0M1058.2 854.4h0M1017.8 804.1h0M1057.2 870.6h0M1010.1 865.7h0M1014.5 871.0h0M1060.7 832.5h0M1055.1 865.0h0M1055.3 836.9h0M1053.8 830.4h0M1019.0 835.2h0M1058.8 833.9h0M1024.9 817.5h0M1062.4 860.1h0M1055.3 855.8h0M1054.6 858.4h0M1061.9 858.6h0M1029.7 866.9h0M1026.3 874.7h0M1048.9 836.0h0M1022.1 881.8h0M1017.6 858.7h0M1059.1 881.9h0M1023.2 866.6h0M1058.0 857.9h0M1035.7 814.7h0M1069.0 880.2h0M1048.6 878.0h0M1023.6 879.3h0M1062.7 810.3h0M1042.9 882.5h0M1009.0 836.7h0M1068.4 845.9h0M1046.3 825.2h0M1057.6 879.3h0M1062.1 879.9h0M1062.4 811.7h0M1047.5 877.6h0M1057.2 845.6h0M1055.6 822.8h0M1017.8 847.5h0M1056.2 866.3h0M1065.9 873.5h0M1055.0 855.3h0M1023.1 855.0h0M1011.1 869.6h0M1010.2 865.8h0M1012.1 856.9h0M1011.4 799.9h0M1010.9 810.3h0M1011.9 880.0h0M1011.8 860.3h0M1010.2 865.0h0M1011.2 861.8h0M1011.8 818.1h0M1011.5 869.7h0M1011.4 862.8h0M1011.3 800.9h0M1012.1 882.3h0M1011.1 880.4h0M1012.0 863.4h0M1010.4 850.5h0M1010.7 848.1h0M1011.9 789.6h0M1011.2 831.3h0M1010.9 825.5h0M1011.0 841.9h0M1011.0 864.5h0M1010.6 852.2h0M1011.3 804.2h0M1010.7 857.7h0M1011.2 844.9h0M1010.5 850.0h0M1011.3 817.0h0M1010.8 787.0h0M1021.8 874.5h0M1022.8 835.7h0M1022.5 861.8h0M1022.2 880.9h0M1022.6 869.3h0M1022.5 800.2h0M1022.3 873.5h0M1022.5 832.1h0M1022.2 809.6h0M1021.9 796.4h0M1023.3 877.8h0M1022.9 840.5h0M1022.3 860.5h0M1021.7 825.1h0M1023.2 814.0h0M1022.0 872.2h0M1022.0 863.9h0M1023.1 877.7h0M1023.2 788.2h0M1022.5 878.0h0M1022.7 792.6h0M1021.9 819.1h0M1022.7 806.0h0M1022.5 796.6h0M1022.7 838.0h0M1041.7 866.7h0M1040.8 874.8h0M1041.9 874.1h0M1042.0 840.1h0M1041.5 829.8h0M1041.2 874.5h0M1041.9 882.5h0M1041.4 785.4h0M1040.9 842.0h0M1041.6 875.1h0M1041.7 875.4h0M1040.9 878.5h0M1042.6 856.3h0M1040.7 852.7h0M1041.8 837.6h0M1042.3 880.8h0M1041.2 879.3h0M1041.2 864.2h0M1041.4 871.1h0M1041.8 862.4h0M1042.4 857.5h0M1041.3 849.2h0M1041.8 787.7h0M1041.2 867.9h0M1041.5 841.0h0M1055.0 882.5h0M1054.1 805.4h0M1054.3 862.7h0M1053.0 881.7h0M1054.0 845.1h0M1053.2 874.7h0M1053.3 849.4h0M1054.5 863.1h0M1052.8 876.4h0M1053.3 877.3h0M1053.7 853.1h0M1053.4 850.1h0M1054.1 840.5h0M1054.4 847.4h0M1053.3 865.3h0M1053.1 875.2h0M1053.4 831.1h0M1054.5 866.0h0M1053.9 862.3h0M1052.8 879.9h0M1053.3 847.8h0M1053.7 862.5h0M1053.1 797.4h0M1054.0 854.0h0M1054.3 873.6h0M1054.2 879.1h0M1054.0 843.1h0M1053.4 819.9h0M1053.6 852.2h0M1052.8 857.3h0M1053.1 880.2h0M1053.8 882.3h0M1053.5 845.7h0M1053.2 867.9h0M1054.2 847.9h0M1063.8 872.6h0M1063.0 881.7h0M1064.4 824.6h0M1063.9 852.7h0M1063.6 848.1h0M1063.8 860.5h0M1062.0 874.6h0M1063.7 862.0h0M1063.1 850.3h0M1062.9 842.2h0M1062.6 867.2h0M1063.9 851.9h0M1063.2 869.1h0M1064.1 869.4h0M1063.8 860.6h0M1153.8 872.8h0M1170.2 856.5h0M1158.8 864.5h0M1169.0 880.8h0M1161.0 881.2h0M1159.2 839.3h0M1155.3 860.4h0M1156.0 856.2h0M1158.5 870.1h0M1154.8 835.7h0M1178.5 861.7h0M1166.9 825.4h0M1167.1 856.3h0M1168.3 834.3h0M1169.7 835.1h0M1171.8 856.4h0M1159.4 841.2h0M1175.1 858.2h0M1172.4 879.9h0M1176.5 832.4h0M1178.7 861.4h0M1158.4 868.6h0M1155.9 796.0h0M1161.1 845.1h0M1166.2 842.9h0M1169.0 812.1h0M1181.0 881.9h0M1173.3 846.2h0M1174.6 867.0h0M1172.8 863.2h0M1172.9 878.0h0M1176.1 848.5h0M1157.6 857.7h0M1169.9 853.1h0M1177.4 880.9h0M1174.9 876.6h0M1168.5 872.6h0M1178.8 879.1h0M1169.9 872.5h0M1158.1 860.3h0M1179.7 879.8h0M1165.8 864.6h0M1168.4 826.8h0M1164.7 855.0h0M1177.2 853.3h0M1170.0 854.3h0M1168.5 842.2h0M1179.1 845.0h0M1174.9 873.2h0M1161.4 832.6h0M1177.1 860.1h0M1167.7 881.7h0M1158.8 874.3h0M1156.8 871.7h0M1155.7 867.1h0M1170.3 875.6h0M1153.7 872.0h0M1170.1 870.2h0M1177.4 832.0h0M1164.6 838.0h0M1163.8 868.9h0M1179.3 824.8h0M1166.2 857.2h0M1157.8 882.3h0M1155.3 866.5h0M1155.3 858.1h0M1178.7 871.2h0M1174.7 876.3h0M1174.6 867.5h0M1169.8 848.5h0M1166.4 824.5h0M1167.9 863.4h0M1167.8 861.1h0M1175.6 816.7h0M1178.4 859.1h0M1178.2 811.0h0M1157.3 865.3h0M1161.5 870.3h0M1160.1 864.1h0M1177.5 842.7h0M1155.4 874.6h0M1176.7 865.2h0M1162.7 882.0h0M1153.5 882.2h0M1174.6 841.5h0M1177.4 855.6h0M1155.0 867.7h0M1177.9 801.2h0M1156.3 876.1h0M1167.8 862.0h0M1174.3 861.6h0M1155.7 879.5h0M1172.8 870.4h0M1156.2 871.2h0M1180.6 871.9h0M1178.1 864.9h0M1175.0 857.1h0M1175.9 828.3h0M1170.7 838.1h0M1177.9 876.3h0M1176.7 818.8h0M1163.7 880.6h0M1174.0 880.6h0M1155.0 871.5h0M1172.8 879.3h0M1174.7 810.7h0M1173.6 823.5h0M1168.0 846.9h0M1177.4 834.7h0M1157.7 841.8h0M1155.5 881.9h0M1156.0 797.1h0M1154.2 844.7h0M1162.1 866.7h0M1162.0 850.9h0M1175.9 867.5h0M1173.2 872.0h0M1176.8 864.0h0M1154.4 830.7h0M1179.0 837.9h0M1175.1 820.6h0M1156.4 854.2h0M1171.7 839.0h0M1152.1 871.7h0M1158.7 855.9h0M1152.6 877.9h0M1168.9 808.2h0M1161.0 797.8h0M1159.7 873.7h0M1178.3 861.8h0M1176.7 876.8h0M1151.9 879.3h0M1180.5 871.4h0M1180.4 870.7h0M1179.5 854.2h0M1171.9 879.4h0M1156.9 877.4h0M1156.5 878.7h0M1157.5 831.1h0M1158.9 866.5h0M1155.1 868.2h0M1167.5 882.6h0M1156.6 871.8h0M1177.3 873.5h0M1155.7 866.9h0M1154.1 869.7h0M1176.1 868.8h0M1156.6 822.2h0M1167.5 854.5h0M1161.4 872.4h0M1175.5 842.0h0M1158.0 851.3h0M1177.8 869.9h0M1172.8 872.8h0M1174.6 844.2h0M1176.3 843.5h0M1170.2 872.0h0M1158.1 863.9h0M1169.1 849.7h0M1163.6 878.6h0M1158.9 859.0h0M1165.9 864.8h0M1167.7 879.0h0M1173.3 880.1h0M1175.4 873.6h0M1169.8 870.6h0M1172.9 865.5h0M1177.1 864.7h0M1172.1 876.4h0M1176.7 828.3h0M1173.9 858.6h0M1175.8 809.1h0M1169.9 859.9h0M1174.0 828.4h0M1177.2 851.0h0M1176.1 859.2h0M1179.3 824.9h0M1168.7 845.3h0M1174.2 863.1h0M1158.2 879.7h0M1168.3 881.6h0M1175.9 876.9h0M1155.4 834.2h0M1180.3 846.1h0M1167.2 864.8h0M1178.6 858.0h0M1174.4 876.1h0M1155.2 807.3h0M1174.8 851.7h0M1178.4 882.8h0M1172.0 834.9h0M1159.1 808.9h0M1151.6 846.1h0M1173.8 880.1h0M1159.3 836.1h0M1154.4 869.4h0M1152.5 864.7h0M1167.5 837.0h0M1175.8 878.5h0M1178.4 872.7h0M1152.3 870.2h0M1157.7 837.0h0M1172.8 873.0h0M1156.5 802.6h0M1175.9 868.2h0M1176.7 852.8h0M1162.7 816.7h0M1167.8 827.5h0M1156.1 827.8h0M1172.6 852.6h0M1158.7 876.8h0M1160.3 861.2h0M1177.2 882.1h0M1153.4 867.4h0M1161.8 814.6h0M1176.7 860.9h0M1178.4 810.4h0M1168.6 881.4h0M1155.5 861.9h0M1170.2 873.0h0M1180.7 845.2h0M1169.6 875.4h0M1166.6 871.9h0M1161.2 850.8h0M1156.2 878.8h0M1176.8 864.8h0M1164.7 831.5h0M1172.7 811.2h0M1175.6 834.0h0M1174.5 824.0h0M1155.0 879.0h0M1177.3 870.6h0M1176.6 876.3h0M1170.0 868.8h0M1173.6 882.3h0M1177.4 881.1h0M1174.5 862.2h0M1160.4 875.5h0M1152.0 851.6h0M1174.9 880.8h0M1162.1 865.7h0M1177.9 866.8h0M1167.6 872.5h0M1169.3 842.7h0M1168.6 881.3h0M1156.5 846.7h0M1159.3 877.9h0M1160.0 871.3h0M1180.4 880.3h0M1170.3 875.0h0M1174.9 876.0h0M1164.2 875.1h0M1156.4 807.1h0M1175.7 864.3h0M1155.5 856.2h0M1163.5 880.2h0M1163.3 826.9h0M1175.5 860.9h0M1178.7 870.5h0M1170.1 819.8h0M1164.4 818.1h0M1155.5 873.5h0M1178.6 877.0h0M1174.9 864.3h0M1179.2 856.4h0M1164.8 882.4h0M1154.7 835.9h0M1177.0 823.6h0M1172.2 797.9h0M1174.4 850.0h0M1151.5 785.6h0M1150.5 867.3h0M1151.4 857.9h0M1150.8 871.1h0M1151.0 871.8h0M1150.6 852.9h0M1151.6 812.6h0M1149.7 847.6h0M1151.8 808.3h0M1151.1 850.3h0M1150.9 832.5h0M1150.8 853.1h0M1151.9 878.9h0M1151.7 866.8h0M1151.3 864.7h0M1150.8 841.3h0M1151.0 857.1h0M1149.9 866.9h0M1152.4 846.9h0M1151.4 826.8h0M1151.5 877.7h0M1151.4 835.5h0M1151.2 818.1h0M1149.8 797.1h0M1150.7 838.0h0M1151.0 854.5h0M1151.8 870.3h0M1151.4 871.3h0M1152.2 814.8h0M1151.1 846.4h0M1167.3 866.2h0M1167.6 820.5h0M1166.3 839.5h0M1166.4 827.2h0M1166.7 804.6h0M1166.9 814.8h0M1167.5 812.5h0M1167.2 882.1h0M1166.5 854.4h0M1167.9 803.3h0M1166.8 807.7h0M1166.6 827.0h0M1166.4 853.3h0M1167.5 860.3h0M1166.5 809.8h0M1158.4 795.9h0M1158.3 837.9h0M1158.4 862.3h0M1159.8 880.7h0M1158.6 877.8h0M1157.7 855.4h0M1158.1 833.7h0M1158.8 871.7h0M1158.1 847.0h0M1158.2 866.6h0M1158.4 868.3h0M1159.9 801.6h0M1221.4 866.4h0M1185.4 881.7h0M1213.5 881.7h0M1191.4 833.5h0M1190.1 853.5h0M1217.1 872.0h0M1220.9 872.6h0M1187.8 861.0h0M1197.1 864.6h0M1196.9 869.5h0M1211.6 852.6h0M1190.3 877.5h0M1220.9 875.2h0M1198.1 881.1h0M1192.6 846.5h0M1221.1 867.0h0M1197.4 847.1h0M1196.7 841.8h0M1183.0 844.9h0M1182.4 864.9h0M1189.6 882.5h0M1197.7 857.6h0M1182.1 869.5h0M1201.4 838.7h0M1182.3 873.8h0M1209.9 866.8h0M1189.1 878.6h0M1213.7 862.3h0M1221.1 871.9h0M1201.1 828.7h0M1190.2 831.6h0M1182.3 880.1h0M1201.9 881.2h0M1210.6 865.0h0M1188.7 875.8h0M1183.2 880.1h0M1190.1 882.0h0M1182.1 866.1h0M1190.3 875.9h0M1203.5 827.4h0M1201.2 880.0h0M1197.3 859.1h0M1221.4 880.7h0M1196.8 863.4h0M1221.6 870.5h0M1188.7 862.4h0M1204.9 881.8h0M1211.5 879.4h0M1221.1 880.3h0M1203.6 841.0h0M1205.4 875.3h0M1196.7 857.1h0M1220.1 862.9h0M1218.2 880.4h0M1220.3 880.2h0M1188.9 876.7h0M1190.3 870.0h0M1220.4 876.2h0M1182.6 876.3h0M1182.5 868.2h0M1183.5 843.6h0M1214.5 835.6h0M1197.6 852.4h0M1204.0 874.2h0M1186.9 872.8h0M1190.7 852.8h0M1182.8 834.1h0M1182.4 866.7h0M1211.1 862.4h0M1195.0 879.2h0M1214.2 861.3h0M1195.7 881.1h0M1223.2 880.9h0M1183.0 847.6h0M1222.4 877.2h0M1213.8 855.0h0M1198.6 867.0h0M1182.5 881.3h0M1221.9 863.7h0M1221.2 868.8h0M1191.9 875.5h0M1185.9 879.2h0M1222.7 880.1h0M1221.5 827.1h0M1219.2 871.7h0M1221.3 874.8h0M1214.2 876.8h0M1186.7 870.9h0M1203.3 863.1h0M1203.2 843.2h0M1196.6 868.9h0M1198.6 876.3h0M1183.0 880.5h0M1185.6 859.2h0M1221.4 880.0h0M1197.2 863.6h0M1196.9 860.2h0M1209.1 878.3h0M1203.5 858.7h0M1221.7 870.1h0M1210.0 858.5h0M1196.7 840.8h0M1185.8 882.1h0M1191.2 879.1h0M1205.5 870.3h0M1201.3 876.6h0M1190.5 853.0h0M1215.6 848.5h0M1182.8 874.3h0M1205.2 869.9h0M1200.4 878.3h0M1200.4 814.2h0M1200.5 880.4h0M1200.4 809.8h0M1201.3 866.9h0M1199.3 871.8h0M1200.8 867.1h0M1201.1 828.3h0M1200.7 865.8h0M1200.2 870.1h0M1201.3 853.9h0M1200.4 861.1h0M901.9 595.8h0M901.9 625.1h0M888.1 674.0h0M888.1 706.2h0M885.0 744.4h0M897.4 744.9h0M901.9 739.5h0M906.1 745.3h0M913.6 751.7h0M922.1 744.9h0M890.2 749.7h0M890.2 755.6h0M894.4 764.9h0M901.9 750.7h0M901.9 760.5h0M901.9 770.3h0M901.9 780.1h0M907.1 753.2h0M906.1 767.8h0M913.6 759.0h0M922.1 750.7h0M922.1 760.0h0M922.1 771.7h0M926.8 767.8h0M906.8 776.1h0M1011.2 735.6h0M1011.2 745.8h0M1011.2 760.0h0M1024.8 708.2h0M1024.8 714.6h0M1040.0 706.2h0M1053.6 695.0h0M1053.6 701.8h0M1053.6 708.7h0M1053.6 732.6h0M1053.6 738.5h0M1053.6 743.4h0M1053.6 748.3h0M1053.6 754.6h0M1053.6 760.5h0M1053.6 765.4h0M1053.6 770.3h0M1053.6 775.2h0M1053.6 780.1h0M1022.5 758.1h0M1022.5 762.9h0M1022.5 770.3h0M1022.5 777.6h0M1022.5 782.5h0M1048.9 763.4h0M1042.4 773.7h0M1044.0 767.8h0M1062.0 751.7h0M1062.0 770.3h0M1064.4 778.1h0M1151.1 739.5h0M1151.1 747.3h0M1151.1 780.5h0M1156.3 767.8h0M1156.3 777.1h0M1158.9 752.2h0M1158.9 755.1h0M1166.9 745.8h0M1166.9 750.7h0M1166.9 758.5h0M1166.9 768.3h0M1168.3 727.8h0M1168.3 740.0h0M1175.3 779.6h0M1207.4 743.9h0M1207.4 761.0h0M1207.4 765.4h0M1207.4 770.3h0M1207.4 777.1h0M1207.4 779.1h0" stroke="#000" stroke-width="2.5" stroke-linecap="round" fill="none"/>
<path d="M1040.0 713.1h0M1040.0 721.4h0M1053.5 780.1h0M1058.0 726.8h0M1094.1 721.4h0M1149.9 759.5h0M1050.5 780.1h0M1056.5 779.6h0" stroke="#F68B12" stroke-width="5.6" stroke-linecap="round" fill="none"/>
<path d="M1372.5 861.8h0M1413.9 826.8h0M1345.4 880.3h0M1403.0 879.5h0M1396.9 875.0h0M1366.9 857.6h0M1359.3 879.9h0M1388.1 876.3h0M1347.8 856.7h0M1407.9 814.5h0M1405.5 859.1h0M1365.1 882.3h0M1350.3 872.9h0M1407.5 810.0h0M1367.2 870.3h0M1380.1 862.6h0M1346.9 876.5h0M1401.4 807.7h0M1394.0 880.2h0M1350.6 879.8h0M1417.6 874.6h0M1404.0 847.0h0M1413.6 872.6h0M1377.1 879.9h0M1410.5 841.4h0M1357.0 881.6h0M1400.5 851.8h0M1356.9 861.7h0M1374.7 853.8h0M1379.5 868.6h0M1348.3 826.5h0M1355.8 880.3h0M1408.9 877.1h0M1404.7 881.8h0M1368.6 882.1h0M1361.0 880.5h0M1396.9 882.5h0M1353.6 876.6h0M1411.1 877.6h0M1378.6 882.7h0M1405.3 859.7h0M1362.9 856.1h0M1399.0 857.5h0M1348.7 879.0h0M1405.5 875.0h0M1364.9 826.3h0M1361.9 855.6h0M1363.3 835.2h0M1361.2 874.7h0M1365.0 878.6h0M1389.3 872.6h0M1361.6 820.3h0M1360.6 870.1h0M1376.3 854.6h0M1405.3 843.9h0M1378.2 839.9h0M1375.5 837.2h0M1357.4 882.3h0M1365.2 876.4h0M1365.7 861.8h0M1373.3 869.0h0M1377.9 812.7h0M1355.7 873.0h0M1382.2 878.2h0M1356.1 882.7h0M1392.8 868.0h0M1359.6 853.7h0M1404.1 819.6h0M1376.5 880.4h0M1404.0 866.5h0M1349.7 875.3h0M1367.5 848.2h0M1359.4 860.6h0M1343.6 864.1h0M1373.7 880.6h0M1409.4 880.5h0M1374.7 875.9h0M1407.5 859.7h0M1379.1 847.1h0M1414.0 856.6h0M1347.3 847.1h0M1355.9 866.8h0M1388.7 864.1h0M1406.3 871.5h0M1384.6 878.5h0M1387.3 841.7h0M1412.6 880.3h0M1383.2 868.3h0M1393.6 861.1h0M1404.6 873.2h0M1403.4 868.2h0M1369.4 879.9h0M1344.3 848.9h0M1395.8 813.5h0M1403.4 810.9h0M1349.9 879.5h0M1414.2 872.4h0M1350.5 874.9h0M1402.5 843.2h0M1350.9 860.9h0M1362.3 871.5h0M1407.3 863.9h0M1388.9 863.8h0M1403.7 851.9h0M1404.4 877.2h0M1350.8 879.8h0M1359.5 882.3h0M1402.6 847.5h0M1408.0 879.6h0M1371.0 867.3h0M1375.9 874.5h0M1345.5 881.8h0M1361.4 856.1h0M1385.8 867.3h0M1405.7 859.7h0M1362.0 879.5h0M1415.8 880.4h0M1354.0 881.4h0M1390.4 878.3h0M1361.5 871.7h0M1380.1 870.2h0M1382.7 840.3h0M1347.7 872.7h0M1360.4 842.1h0M1360.1 853.7h0M1362.9 846.3h0M1376.3 867.2h0M1347.8 855.0h0M1377.6 875.5h0M1405.0 882.7h0M1388.0 873.5h0M1349.3 847.7h0M1385.3 851.3h0M1385.8 847.7h0M1357.3 863.8h0M1379.0 847.6h0M1350.4 830.9h0M1368.9 879.0h0M1379.1 861.7h0M1403.5 861.1h0M1355.8 866.0h0M1377.3 880.9h0M1376.6 879.1h0M1402.1 881.6h0M1381.7 871.5h0M1360.8 851.9h0M1362.8 859.9h0M1395.5 864.5h0M1377.8 862.8h0M1413.3 881.8h0M1414.1 879.7h0M1366.3 863.0h0M1368.6 843.4h0M1357.5 881.9h0M1369.5 840.5h0M1365.1 865.1h0M1360.1 882.6h0M1363.1 859.3h0M1406.8 868.0h0M1347.8 872.8h0M1343.9 863.6h0M1368.8 868.1h0M1364.2 847.9h0M1371.1 839.9h0M1397.1 879.5h0M1373.4 869.2h0M1350.6 869.3h0M1348.8 879.0h0M1371.4 880.1h0M1378.1 850.2h0M1373.7 854.8h0M1404.1 868.6h0M1380.9 869.7h0M1386.6 882.7h0M1404.1 866.2h0M1400.7 842.1h0M1386.0 864.0h0M1355.9 878.0h0M1355.0 835.9h0M1414.9 836.2h0M1363.2 849.0h0M1394.1 878.4h0M1397.0 867.9h0M1405.9 838.3h0M1360.3 844.0h0M1412.8 829.4h0M1362.0 869.1h0M1406.8 868.3h0M1366.2 880.2h0M1356.4 845.7h0M1416.5 873.4h0M1389.8 850.6h0M1403.7 807.4h0M1391.4 880.0h0M1374.4 881.1h0M1373.5 870.4h0M1359.6 852.7h0M1401.3 866.2h0M1348.0 859.7h0M1385.8 878.3h0M1374.3 871.7h0M1349.4 861.6h0M1378.3 879.7h0M1414.0 881.6h0M1378.9 812.0h0M1369.8 812.6h0M1363.7 868.1h0M1362.1 872.0h0M1358.0 835.6h0M1387.2 864.2h0M1384.7 853.7h0M1391.0 878.7h0M1348.9 841.2h0M1388.0 835.7h0M1349.5 878.9h0M1386.7 876.7h0M1350.1 881.2h0M1356.0 869.0h0M1414.3 868.8h0M1371.8 843.0h0M1378.4 859.6h0M1384.4 868.2h0M1373.8 866.9h0M1349.0 861.7h0M1401.3 867.9h0M1408.2 877.5h0M1391.0 870.4h0M1414.1 870.9h0M1394.3 857.4h0M1400.2 861.9h0M1372.7 873.9h0M1346.8 877.9h0M1356.0 872.2h0M1365.7 827.4h0M1347.7 879.5h0M1379.0 846.2h0M1378.5 816.1h0M1354.2 879.3h0M1411.3 805.3h0M1362.0 868.7h0M1417.3 872.9h0M1418.4 829.2h0M1369.3 872.7h0M1378.4 880.5h0M1366.2 855.1h0M1364.6 857.3h0M1354.5 839.2h0M1367.9 874.6h0M1373.6 875.4h0M1348.0 874.8h0M1348.8 846.2h0M1405.4 860.0h0M1382.1 865.0h0M1383.0 870.4h0M1407.5 849.4h0M1388.0 850.2h0M1366.6 876.3h0M1407.7 872.5h0M1406.7 870.3h0M1351.1 877.2h0M1379.7 872.5h0M1370.8 850.2h0M1351.7 869.9h0M1374.0 877.9h0M1367.6 838.4h0M1411.0 862.9h0M1401.2 878.2h0M1378.0 866.0h0M1347.1 861.4h0M1403.1 881.8h0M1414.8 861.4h0M1349.5 882.0h0M1364.5 861.8h0M1379.0 833.4h0M1415.6 871.9h0M1364.5 834.4h0M1372.2 870.9h0M1405.6 876.3h0M1350.2 869.2h0M1365.0 882.7h0M1361.3 825.2h0M1402.1 827.2h0M1364.3 844.1h0M1388.4 849.5h0M1386.8 856.1h0M1349.3 874.0h0M1412.1 867.8h0M1378.1 877.0h0M1358.1 859.8h0M1369.5 876.0h0M1411.6 877.4h0M1392.2 860.4h0M1379.0 852.4h0M1365.1 841.6h0M1363.9 874.3h0M1387.1 880.1h0M1367.7 877.8h0M1375.5 873.3h0M1410.0 827.4h0M1364.9 866.2h0M1412.3 866.8h0M1403.8 835.7h0M1378.3 879.9h0M1414.2 878.4h0M1351.0 856.8h0M1395.5 869.1h0M1344.3 871.3h0M1391.0 875.1h0M1371.9 864.8h0M1399.9 835.8h0M1394.9 805.8h0M1346.6 864.1h0M1350.1 875.7h0M1347.0 829.6h0M1403.0 821.7h0M1355.3 877.6h0M1390.9 866.7h0M1365.1 847.6h0M1377.4 859.8h0M1359.2 875.3h0M1376.8 861.5h0M1364.8 871.8h0M1356.1 858.1h0M1388.0 864.4h0M1398.3 852.3h0M1394.3 871.5h0M1362.5 851.4h0M1362.6 827.8h0M1405.8 874.9h0M1380.1 880.2h0M1385.7 870.4h0M1395.4 826.0h0M1379.2 869.8h0M1374.3 876.7h0M1361.2 871.4h0M1372.5 883.0h0M1349.0 831.1h0M1368.7 858.5h0M1356.3 817.6h0M1388.6 867.4h0M1401.2 873.4h0M1345.4 882.9h0M1361.7 880.0h0M1376.2 870.7h0M1358.8 873.5h0M1371.6 857.7h0M1347.5 872.1h0M1350.8 868.5h0M1378.3 867.5h0M1364.3 830.1h0M1388.3 829.3h0M1353.9 877.6h0M1350.7 880.9h0M1349.9 881.7h0M1406.9 867.9h0M1397.7 870.1h0M1363.0 869.4h0M1411.2 882.3h0M1352.9 858.3h0M1400.1 869.6h0M1375.0 875.5h0M1398.1 881.4h0M1410.9 832.7h0M1402.5 866.0h0M1385.0 879.1h0M1403.6 861.6h0M1350.8 870.6h0M1372.5 868.6h0M1380.7 874.3h0M1383.4 877.6h0M1362.5 865.0h0M1396.4 878.6h0M1391.1 862.8h0M1350.6 816.1h0M1379.3 874.0h0M1383.4 854.4h0M1405.2 877.2h0M1388.6 841.0h0M1385.1 872.9h0M1352.1 857.1h0M1357.6 861.8h0M1371.9 869.4h0M1386.6 841.4h0M1414.3 860.8h0M1363.1 863.8h0M1349.3 872.1h0M1397.9 860.2h0M1385.7 876.9h0M1409.0 878.8h0M1400.9 879.2h0M1403.6 881.0h0M1353.0 881.2h0M1380.0 835.9h0M1400.3 874.8h0M1364.3 877.0h0M1399.4 839.7h0M1364.8 878.8h0M1408.1 846.1h0M1403.5 881.2h0M1377.5 868.3h0M1349.9 858.3h0M1365.9 810.6h0M1369.0 846.9h0M1366.4 868.6h0M1390.3 869.7h0M1354.6 843.2h0M1414.5 855.4h0M1365.5 847.9h0M1366.0 845.1h0M1350.1 880.9h0M1352.0 872.7h0M1387.1 866.7h0M1413.4 860.0h0M1356.7 850.9h0M1380.7 878.0h0M1394.2 869.5h0M1394.3 882.4h0M1369.6 879.4h0M1365.2 837.6h0M1368.7 804.7h0M1355.5 881.9h0M1374.3 881.7h0M1374.1 870.3h0M1350.8 843.0h0M1371.4 850.7h0M1349.1 879.3h0M1414.2 853.7h0M1403.8 878.6h0M1403.6 863.4h0M1350.9 867.3h0M1367.9 845.2h0M1399.7 875.7h0M1410.9 806.2h0M1367.8 860.4h0M1364.5 870.8h0M1362.8 861.4h0M1413.7 872.5h0M1372.2 863.3h0M1400.6 879.7h0M1399.2 877.7h0M1372.8 842.5h0M1380.2 839.2h0M1371.8 848.8h0M1379.2 844.4h0M1351.3 814.8h0M1350.1 848.0h0M1414.4 873.9h0M1381.7 854.9h0M1371.6 809.2h0M1357.6 839.0h0M1377.2 814.7h0M1383.3 817.7h0M1347.6 877.3h0M1353.0 872.9h0M1360.9 826.9h0M1356.9 853.7h0M1404.7 881.8h0M1413.9 859.2h0M1361.5 844.0h0M1363.6 865.8h0M1394.3 815.7h0M1355.2 844.8h0M1349.1 880.6h0M1383.1 877.8h0M1415.7 858.1h0M1418.4 846.6h0M1372.5 869.7h0M1364.7 850.2h0M1362.7 878.5h0M1362.5 865.6h0M1396.6 882.5h0M1356.1 831.7h0M1387.9 866.9h0M1361.0 841.9h0M1356.7 879.6h0M1408.6 875.5h0M1379.9 866.9h0M1345.2 823.3h0M1407.1 875.7h0M1388.5 855.6h0M1395.4 876.3h0M1365.1 879.9h0M1408.1 865.6h0M1355.5 848.3h0M1409.8 849.6h0M1372.5 842.2h0M1402.9 870.2h0M1374.1 835.1h0M1389.0 877.0h0M1364.9 821.9h0M1408.1 848.3h0M1395.5 840.4h0M1409.8 868.3h0M1414.3 864.8h0M1378.7 872.8h0M1371.3 854.4h0M1373.9 865.0h0M1403.9 860.0h0M1355.9 807.1h0M1388.9 878.6h0M1413.2 855.1h0M1373.8 874.1h0M1367.0 871.9h0M1377.4 879.1h0M1381.5 874.9h0M1363.4 836.0h0M1367.7 877.7h0M1378.4 866.9h0M1364.9 882.8h0M1388.5 860.8h0M1398.5 876.0h0M1409.4 874.4h0M1372.6 835.3h0M1369.6 881.0h0M1395.2 882.6h0M1414.9 877.3h0M1368.6 867.3h0M1393.9 882.0h0M1378.6 877.1h0M1404.8 852.5h0M1377.4 867.0h0M1349.3 828.8h0M1347.6 826.9h0M1416.3 850.7h0M1348.7 876.7h0M1362.7 869.6h0M1367.9 854.5h0M1372.7 846.3h0M1363.2 840.9h0M1380.4 875.0h0M1377.9 852.0h0M1404.4 865.4h0M1406.9 856.4h0M1405.9 871.8h0M1350.2 845.8h0M1365.0 869.0h0M1395.9 870.4h0M1362.5 863.7h0M1365.4 873.8h0M1401.4 861.3h0M1405.3 870.8h0M1350.1 807.4h0M1394.4 855.3h0M1364.3 870.4h0M1361.8 865.2h0M1410.7 824.2h0M1406.6 871.0h0M1381.1 878.5h0M1378.4 882.5h0M1375.5 875.4h0M1345.0 856.1h0M1377.4 865.7h0M1373.9 852.5h0M1408.4 837.5h0M1347.9 814.3h0M1402.0 857.9h0M1380.6 867.4h0M1413.4 812.8h0M1377.6 858.7h0M1386.1 841.7h0M1417.0 846.6h0M1375.5 876.4h0M1394.2 870.5h0M1350.3 846.0h0M1406.0 879.3h0M1388.8 878.8h0M1366.8 849.8h0M1396.1 871.4h0M1388.6 875.0h0M1403.9 878.5h0M1360.4 874.7h0M1364.5 862.8h0M1395.3 877.7h0M1378.1 837.0h0M1415.0 860.2h0M1370.3 881.0h0M1407.8 863.4h0M1407.6 822.6h0M1402.4 851.3h0M1363.9 807.3h0M1362.6 835.0h0M1366.1 879.7h0M1374.6 823.9h0M1361.8 846.6h0M1360.8 869.1h0M1394.9 877.7h0M1350.3 874.4h0M1364.1 878.8h0M1381.8 834.3h0M1371.7 863.9h0M1413.5 862.5h0M1366.2 829.8h0M1369.2 825.5h0M1403.4 872.2h0M1378.3 860.5h0M1399.4 874.5h0M1357.3 881.1h0M1403.5 874.5h0M1393.0 867.6h0M1364.7 880.0h0M1388.4 863.7h0M1405.8 825.0h0M1410.4 878.1h0M1415.3 879.5h0M1390.5 877.5h0M1401.3 842.8h0M1410.3 858.0h0M1376.0 876.9h0M1348.1 880.7h0M1406.5 875.4h0M1377.6 807.1h0M1388.7 867.2h0M1386.0 873.5h0M1365.3 822.5h0M1413.9 823.2h0M1388.3 841.8h0M1347.5 877.4h0M1366.0 878.4h0M1391.2 874.5h0M1370.2 873.9h0M1350.2 880.2h0M1366.8 840.0h0M1347.8 877.9h0M1367.9 860.4h0M1400.8 876.9h0M1379.7 849.6h0M1348.2 881.4h0M1387.9 875.2h0M1391.0 882.4h0M1404.0 870.4h0M1374.0 876.9h0M1346.0 845.9h0M1356.0 867.7h0M1408.5 874.9h0M1381.1 825.6h0M1418.5 840.6h0M1364.4 821.0h0M1363.6 869.3h0M1364.8 869.8h0M1358.2 880.0h0M1396.4 827.0h0M1366.1 877.1h0M1369.1 879.3h0M1356.0 864.7h0M1399.2 835.3h0M1397.7 861.4h0M1371.9 870.1h0M1396.8 847.7h0M1412.5 863.4h0M1414.1 813.8h0M1399.9 826.7h0M1418.5 808.0h0M1355.4 856.9h0M1345.6 858.7h0M1397.4 872.8h0M1413.7 869.4h0M1391.5 872.0h0M1356.7 861.9h0M1359.2 881.3h0M1345.7 835.6h0M1350.7 880.5h0M1377.2 861.7h0M1396.1 825.0h0M1414.0 866.9h0M1349.3 823.7h0M1377.9 873.8h0M1406.4 870.0h0M1374.1 866.5h0M1388.0 853.5h0M1368.5 878.8h0M1409.1 879.0h0M1404.4 879.4h0M1386.1 882.5h0M1378.6 881.6h0M1373.8 866.2h0M1412.7 865.7h0M1405.4 854.5h0M1395.3 838.5h0M1381.7 863.8h0M1356.6 881.2h0M1366.6 841.6h0M1388.0 874.5h0M1399.7 879.1h0M1400.2 881.9h0M1408.5 877.7h0M1395.3 872.3h0M1406.1 876.1h0M1347.3 836.4h0M1355.4 847.3h0M1403.8 876.3h0M1369.0 871.8h0M1392.2 850.6h0M1393.1 864.7h0M1352.4 815.5h0M1364.4 847.9h0M1394.9 846.3h0M1408.2 875.6h0M1348.2 849.0h0M1350.9 875.6h0M1365.9 875.9h0M1416.2 845.8h0M1405.1 856.4h0M1392.0 858.8h0M1391.1 860.1h0M1372.8 872.3h0M1379.9 866.8h0M1379.2 871.6h0M1406.0 857.8h0M1406.6 874.3h0M1413.8 864.0h0M1401.2 871.7h0M1346.8 860.7h0M1403.7 874.9h0M1364.6 875.2h0M1358.6 846.1h0M1360.7 861.6h0M1384.1 850.0h0M1343.3 867.0h0M1377.0 864.2h0M1344.8 857.7h0M1403.5 867.6h0M1413.9 834.7h0M1402.0 877.3h0M1376.9 878.4h0M1412.4 878.2h0M1390.4 871.3h0M1358.7 870.3h0M1408.1 853.8h0M1404.8 880.6h0M1348.3 879.2h0M1384.3 868.4h0M1348.2 881.5h0M1390.8 880.5h0M1378.4 846.2h0M1372.6 868.6h0M1356.3 877.0h0M1351.1 856.2h0M1387.3 869.8h0M1351.8 850.8h0M1413.8 875.3h0M1414.2 880.3h0M1372.4 874.9h0M1402.3 855.0h0M1378.1 831.9h0M1411.5 873.4h0M1378.0 875.2h0M1408.1 856.7h0M1409.3 876.7h0M1353.7 847.4h0M1379.7 880.0h0M1350.7 854.8h0M1356.8 864.9h0M1386.3 862.8h0M1416.0 878.8h0M1376.1 865.7h0M1361.8 878.2h0M1399.6 873.4h0M1385.8 856.2h0M1394.7 810.5h0M1364.7 851.5h0M1353.4 844.4h0M1353.1 808.5h0M1352.8 837.0h0M1353.2 841.1h0M1352.2 847.1h0M1352.5 874.2h0M1353.0 879.9h0M1352.9 860.0h0M1352.8 832.7h0M1353.0 808.9h0M1353.3 859.2h0M1353.1 805.6h0M1392.1 866.6h0M1392.8 849.1h0M1392.9 882.6h0M1393.5 834.6h0M1392.6 877.0h0M1391.5 868.1h0M1392.7 847.9h0M1392.8 867.7h0M1392.9 877.9h0M1392.5 857.1h0M1393.0 828.8h0M1393.6 881.3h0M1410.5 866.0h0M1409.3 789.8h0M1409.9 875.4h0M1409.5 818.9h0M1410.2 813.7h0M1409.6 852.4h0M1409.6 815.9h0M1410.1 819.8h0M1410.4 858.7h0M1410.2 859.1h0M1410.7 870.2h0M1410.7 866.5h0M1410.3 873.0h0M1409.3 853.2h0M1409.7 878.7h0M1409.8 804.1h0M1409.7 856.0h0M1409.9 823.9h0M1410.2 867.0h0M1410.0 872.2h0M1409.6 830.5h0M1409.8 868.6h0M1409.9 852.9h0M1410.6 840.6h0M1409.2 830.7h0M1519.7 865.3h0M1497.8 853.0h0M1535.9 826.6h0M1542.7 853.2h0M1543.4 810.4h0M1505.5 879.9h0M1520.0 834.1h0M1516.7 876.6h0M1519.4 856.3h0M1545.2 811.3h0M1510.1 877.8h0M1510.3 839.7h0M1535.7 873.4h0M1543.7 866.1h0M1506.2 868.3h0M1555.7 843.8h0M1510.5 870.3h0M1506.5 865.7h0M1534.7 813.6h0M1526.0 832.4h0M1540.4 872.9h0M1508.5 859.2h0M1532.2 856.8h0M1547.2 870.7h0M1504.1 882.1h0M1507.4 860.5h0M1495.0 878.7h0M1549.6 857.8h0M1505.5 877.5h0M1536.2 872.5h0M1548.7 876.9h0M1517.8 820.3h0M1546.6 877.4h0M1554.3 876.9h0M1532.0 869.3h0M1547.1 874.8h0M1518.3 860.3h0M1533.2 836.9h0M1525.1 868.5h0M1528.2 880.1h0M1534.3 850.3h0M1486.5 872.3h0M1507.7 829.0h0M1494.8 878.6h0M1547.5 859.4h0M1497.5 881.8h0M1547.2 839.8h0M1500.3 862.0h0M1552.1 841.1h0M1561.2 876.7h0M1546.3 882.3h0M1535.8 875.6h0M1490.5 863.8h0M1487.9 834.5h0M1554.8 873.7h0M1543.1 875.2h0M1537.4 868.5h0M1508.1 860.9h0M1511.7 859.3h0M1541.6 850.7h0M1512.0 876.8h0M1538.3 801.8h0M1496.2 879.9h0M1508.9 879.2h0M1546.8 881.6h0M1498.1 824.2h0M1545.5 848.7h0M1508.7 863.0h0M1536.0 863.3h0M1525.1 868.7h0M1528.5 837.0h0M1560.5 878.4h0M1543.9 848.9h0M1507.8 857.0h0M1547.7 824.5h0M1513.7 856.8h0M1520.1 874.1h0M1535.8 810.9h0M1535.4 874.9h0M1527.3 856.6h0M1535.9 879.5h0M1537.4 860.9h0M1533.1 833.4h0M1536.4 868.5h0M1526.7 853.0h0M1558.5 878.2h0M1545.9 858.9h0M1518.8 879.7h0M1520.1 878.8h0M1486.7 882.0h0M1542.2 879.4h0M1543.6 845.7h0M1495.9 878.8h0M1537.4 872.0h0M1504.8 879.9h0M1511.9 875.5h0M1558.2 836.6h0M1532.2 864.5h0M1493.6 852.7h0M1527.0 862.2h0M1503.0 870.8h0M1559.4 866.8h0M1508.7 874.0h0M1537.9 829.4h0M1541.6 850.2h0M1517.9 845.9h0M1516.0 878.0h0M1525.5 880.1h0M1536.6 820.9h0M1526.8 870.7h0M1529.3 834.4h0M1541.1 825.4h0M1532.3 868.6h0M1541.3 858.4h0M1529.0 820.3h0M1487.9 877.9h0M1534.9 879.4h0M1541.2 878.7h0M1509.9 851.4h0M1533.7 802.0h0M1542.0 805.9h0M1538.7 806.6h0M1521.7 837.8h0M1548.7 866.2h0M1541.4 879.3h0M1496.9 873.6h0M1517.7 873.7h0M1497.4 879.5h0M1557.1 878.6h0M1487.7 871.5h0M1547.2 858.1h0M1505.3 854.5h0M1507.5 855.5h0M1537.3 873.7h0M1551.6 881.2h0M1553.0 871.3h0M1542.5 848.2h0M1492.9 875.4h0M1506.1 855.0h0M1514.7 874.7h0M1496.6 874.5h0M1520.2 862.5h0M1519.5 874.2h0M1503.2 828.2h0M1497.7 852.7h0M1518.8 880.0h0M1504.8 876.6h0M1490.2 868.1h0M1527.8 850.2h0M1552.0 823.4h0M1519.2 878.4h0M1490.5 804.3h0M1544.3 834.9h0M1541.4 873.0h0M1550.0 880.9h0M1553.7 870.6h0M1542.5 828.4h0M1518.6 860.2h0M1509.8 869.4h0M1533.8 873.3h0M1496.4 860.7h0M1497.0 845.8h0M1524.7 879.4h0M1488.8 858.7h0M1531.1 878.8h0M1498.5 843.4h0M1512.2 867.4h0M1559.8 871.2h0M1486.8 866.1h0M1529.2 847.1h0M1546.4 873.6h0M1487.2 852.3h0M1549.0 856.0h0M1548.5 865.1h0M1528.9 840.2h0M1532.8 855.6h0M1542.4 855.9h0M1497.8 839.5h0M1494.5 849.7h0M1517.7 834.3h0M1485.5 863.1h0M1517.7 863.3h0M1499.3 873.6h0M1492.1 874.5h0M1516.5 879.8h0M1558.8 877.2h0M1497.4 878.2h0M1510.4 858.3h0M1549.5 859.4h0M1554.0 860.4h0M1524.5 852.9h0M1547.2 876.3h0M1527.4 809.0h0M1513.0 853.3h0M1540.2 849.7h0M1520.8 861.4h0M1511.3 875.9h0M1538.5 828.0h0M1497.8 871.2h0M1533.2 881.5h0M1506.0 870.5h0M1521.8 879.8h0M1505.2 875.7h0M1543.1 863.3h0M1487.7 856.9h0M1523.6 810.2h0M1533.8 840.4h0M1544.0 876.1h0M1505.5 869.2h0M1498.3 853.7h0M1550.0 840.1h0M1538.7 861.1h0M1492.8 874.2h0M1532.5 861.9h0M1538.0 809.7h0M1529.3 818.4h0M1543.8 880.0h0M1519.2 872.0h0M1509.4 874.5h0M1557.8 881.8h0M1487.1 844.8h0M1539.9 867.6h0M1535.7 882.4h0M1522.6 879.0h0M1522.4 816.4h0M1516.4 867.6h0M1488.7 879.5h0M1516.9 840.6h0M1527.8 864.0h0M1553.4 846.8h0M1517.4 877.0h0M1555.5 879.3h0M1542.6 875.9h0M1560.5 878.8h0M1524.5 871.5h0M1541.2 861.3h0M1510.1 843.6h0M1547.7 882.8h0M1497.2 851.9h0M1511.7 859.7h0M1521.9 863.5h0M1490.8 844.9h0M1497.8 870.2h0M1542.9 859.5h0M1497.3 810.6h0M1546.8 862.3h0M1557.0 874.5h0M1492.0 852.9h0M1537.5 880.3h0M1502.8 875.1h0M1496.7 844.0h0M1522.5 873.4h0M1501.5 873.0h0M1536.0 819.1h0M1529.5 863.0h0M1520.3 848.9h0M1537.1 876.2h0M1527.5 836.7h0M1509.4 828.6h0M1552.0 870.0h0M1539.7 855.6h0M1546.0 851.1h0M1544.0 800.1h0M1517.8 880.8h0M1527.5 881.0h0M1531.6 864.3h0M1513.0 880.6h0M1493.2 870.2h0M1541.8 853.5h0M1494.3 836.2h0M1555.9 881.2h0M1536.6 864.5h0M1543.7 816.2h0M1549.3 825.2h0M1549.7 875.3h0M1503.7 849.5h0M1540.6 852.3h0M1529.1 878.1h0M1529.0 857.6h0M1508.9 864.2h0M1546.5 871.6h0M1553.2 879.1h0M1509.2 806.3h0M1524.9 811.2h0M1513.8 856.5h0M1504.0 833.3h0M1528.6 865.3h0M1517.7 879.4h0M1557.9 875.7h0M1527.8 852.7h0M1536.2 853.5h0M1491.2 873.8h0M1534.2 868.8h0M1551.4 872.3h0M1553.3 852.9h0M1546.5 878.0h0M1503.3 862.0h0M1516.3 878.6h0M1487.5 857.0h0M1502.5 839.1h0M1520.0 861.4h0M1516.4 848.5h0M1527.6 805.3h0M1555.5 876.4h0M1500.5 879.1h0M1487.2 874.1h0M1538.3 880.3h0M1521.7 867.2h0M1529.4 846.6h0M1528.3 843.8h0M1537.5 867.5h0M1491.7 878.0h0M1487.2 850.9h0M1538.9 865.0h0M1487.1 877.5h0M1497.2 858.4h0M1549.5 855.2h0M1498.7 815.3h0M1545.6 876.3h0M1488.0 858.3h0M1501.0 861.4h0M1511.0 881.8h0M1532.9 882.1h0M1511.5 878.9h0M1553.7 876.4h0M1545.9 855.3h0M1528.7 881.9h0M1528.8 828.3h0M1519.5 867.6h0M1506.4 872.5h0M1525.1 870.5h0M1520.6 839.4h0M1522.6 878.5h0M1526.9 848.9h0M1510.0 843.4h0M1485.7 858.4h0M1548.7 841.6h0M1505.8 865.2h0M1521.7 880.1h0M1507.9 860.0h0M1523.8 869.8h0M1543.5 882.0h0M1507.9 852.4h0M1520.9 878.1h0M1557.4 862.3h0M1552.5 842.9h0M1494.1 825.5h0M1489.8 863.3h0M1519.7 882.6h0M1496.4 855.5h0M1501.1 843.4h0M1544.9 867.4h0M1549.4 865.6h0M1498.1 835.6h0M1542.2 858.2h0M1522.1 822.0h0M1490.6 870.3h0M1497.1 836.0h0M1549.7 818.7h0M1522.7 851.4h0M1538.2 863.6h0M1549.0 802.2h0M1510.5 838.4h0M1513.4 844.7h0M1536.4 839.4h0M1534.7 877.6h0M1553.3 878.1h0M1516.1 881.7h0M1544.1 821.5h0M1553.2 870.2h0M1540.9 862.2h0M1506.9 877.2h0M1547.0 876.3h0M1488.1 882.1h0M1517.8 799.5h0M1558.1 877.4h0M1534.2 879.8h0M1517.0 855.0h0M1509.1 851.0h0M1486.6 880.3h0M1546.3 831.2h0M1487.4 848.8h0M1506.3 866.3h0M1520.0 871.4h0M1490.1 877.4h0M1504.9 842.7h0M1508.5 806.2h0M1521.6 880.0h0M1520.1 848.3h0M1549.2 815.8h0M1527.0 839.6h0M1546.3 829.3h0M1514.5 854.1h0M1485.6 879.6h0M1560.7 878.2h0M1537.4 873.5h0M1521.8 852.9h0M1497.4 880.5h0M1524.3 844.5h0M1487.3 837.7h0M1528.6 804.8h0M1509.4 864.7h0M1544.6 841.2h0M1546.3 880.9h0M1532.3 859.2h0M1546.0 877.7h0M1497.3 864.4h0M1517.9 858.7h0M1555.2 863.2h0M1526.8 852.5h0M1528.7 873.7h0M1539.9 876.2h0M1552.4 873.4h0M1546.1 839.2h0M1543.6 873.4h0M1516.7 853.3h0M1554.8 873.7h0M1539.3 871.4h0M1553.4 850.3h0M1498.1 880.2h0M1508.4 870.3h0M1489.3 796.6h0M1497.1 879.7h0M1490.1 805.2h0M1558.7 860.9h0M1498.6 879.5h0M1496.2 818.6h0M1501.1 872.3h0M1544.0 859.7h0M1527.4 854.2h0M1489.4 839.0h0M1560.0 882.4h0M1517.9 860.1h0M1497.3 881.5h0M1495.7 881.4h0M1537.0 865.3h0M1527.5 817.2h0M1515.6 872.0h0M1547.7 856.9h0M1547.6 837.9h0M1491.7 808.4h0M1554.6 825.9h0M1510.1 855.5h0M1492.8 878.2h0M1491.4 838.2h0M1534.2 880.6h0M1537.0 851.8h0M1489.8 864.3h0M1554.8 855.0h0M1521.7 861.8h0M1548.0 880.8h0M1538.5 848.2h0M1507.7 871.5h0M1526.8 815.6h0M1508.5 880.4h0M1555.7 831.1h0M1522.0 869.3h0M1501.8 880.8h0M1489.9 875.2h0M1512.8 848.7h0M1528.6 841.5h0M1548.9 871.3h0M1487.1 878.6h0M1501.8 869.8h0M1520.6 813.5h0M1561.1 810.3h0M1536.2 868.7h0M1538.2 848.6h0M1548.4 883.0h0M1521.5 872.4h0M1538.5 844.9h0M1556.5 825.5h0M1488.6 863.7h0M1529.3 880.7h0M1532.6 877.6h0M1556.5 856.0h0M1500.2 854.7h0M1538.5 880.8h0M1508.1 863.9h0M1511.0 869.1h0M1509.7 798.2h0M1536.2 816.6h0M1486.3 868.1h0M1510.8 882.0h0M1531.9 879.9h0M1531.3 877.0h0M1487.1 851.8h0M1541.6 850.1h0M1521.3 883.0h0M1493.4 838.9h0M1509.9 879.1h0M1526.2 857.5h0M1545.7 878.1h0M1493.2 868.1h0M1553.1 849.0h0M1558.1 882.4h0M1520.8 833.5h0M1520.7 854.8h0M1503.1 875.2h0M1524.6 882.0h0M1501.8 820.9h0M1522.2 876.2h0M1537.3 880.3h0M1512.2 848.5h0M1533.3 832.7h0M1502.3 823.9h0M1504.1 868.7h0M1555.1 882.0h0M1557.4 861.9h0M1519.4 798.7h0M1523.7 861.9h0M1486.8 859.6h0M1496.7 843.5h0M1529.4 810.5h0M1544.0 880.3h0M1542.5 869.1h0M1543.7 846.1h0M1557.2 846.6h0M1522.2 858.8h0M1534.5 874.1h0M1544.1 823.5h0M1498.1 850.8h0M1544.0 851.8h0M1517.8 880.2h0M1538.3 875.4h0M1523.2 876.7h0M1551.2 854.2h0M1505.4 851.2h0M1510.8 867.0h0M1493.4 873.1h0M1510.7 875.7h0M1531.9 879.9h0M1528.4 864.1h0M1541.9 875.1h0M1528.7 820.9h0M1545.8 856.9h0M1496.2 847.8h0M1487.8 841.8h0M1508.7 869.4h0M1523.2 877.8h0M1550.3 876.0h0M1537.4 857.0h0M1511.1 828.6h0M1496.8 858.2h0M1503.3 871.2h0M1492.7 856.0h0M1496.0 843.5h0M1488.3 849.2h0M1543.5 856.3h0M1531.7 872.6h0M1508.7 849.1h0M1526.6 862.6h0M1521.6 865.2h0M1503.8 881.4h0M1555.0 860.4h0M1488.0 872.3h0M1560.8 827.8h0M1485.8 824.1h0M1544.6 876.8h0M1498.4 824.8h0M1535.3 880.0h0M1487.7 860.7h0M1559.7 850.2h0M1529.6 856.1h0M1509.1 882.9h0M1503.5 859.2h0M1542.0 839.3h0M1499.4 875.7h0M1546.8 882.8h0M1542.9 853.6h0M1529.4 866.9h0M1548.6 830.3h0M1524.2 857.6h0M1560.9 807.4h0M1542.8 819.4h0M1491.7 857.6h0M1534.1 882.8h0M1525.2 824.7h0M1538.7 878.5h0M1543.0 874.6h0M1542.8 797.3h0M1531.9 876.5h0M1502.7 809.9h0M1495.3 876.1h0M1513.8 857.1h0M1557.3 817.7h0M1533.4 826.1h0M1491.3 873.9h0M1495.5 862.0h0M1510.6 847.0h0M1488.4 859.6h0M1487.1 867.4h0M1525.0 832.6h0M1497.4 832.1h0M1504.1 861.9h0M1528.7 866.9h0M1545.8 867.5h0M1505.6 879.9h0M1534.1 869.9h0M1542.9 869.4h0M1553.5 862.6h0M1499.0 880.5h0M1546.9 878.5h0M1551.6 877.2h0M1531.5 861.5h0M1529.2 875.4h0M1518.1 860.6h0M1497.3 832.3h0M1555.1 870.3h0M1538.0 873.3h0M1499.0 878.0h0M1543.8 824.4h0M1532.0 873.1h0M1555.0 839.4h0M1489.1 821.2h0M1544.1 850.4h0M1546.7 877.2h0M1536.2 852.1h0M1555.4 864.5h0M1498.9 880.4h0M1533.8 850.3h0M1524.1 872.2h0M1488.5 849.4h0M1555.4 862.4h0M1528.3 871.7h0M1487.5 841.1h0M1548.4 847.8h0M1504.9 866.7h0M1527.2 869.3h0M1519.3 850.5h0M1550.9 881.3h0M1526.8 855.2h0M1555.9 861.3h0M1537.1 807.4h0M1493.0 881.7h0M1503.4 838.4h0M1537.4 876.1h0M1556.0 869.1h0M1520.4 851.3h0M1557.8 882.5h0M1521.3 868.9h0M1553.3 868.9h0M1501.5 810.7h0M1517.5 878.5h0M1528.5 838.2h0M1517.1 851.1h0M1499.1 845.3h0M1548.9 859.7h0M1497.3 882.1h0M1542.2 864.1h0M1527.7 880.5h0M1543.5 820.6h0M1546.4 880.8h0M1519.7 866.7h0M1486.2 873.4h0M1550.6 872.3h0M1486.9 837.0h0M1549.8 829.2h0M1500.3 877.5h0M1516.8 859.8h0M1540.1 869.9h0M1513.4 880.3h0M1554.7 873.2h0M1522.2 855.3h0M1527.6 860.5h0M1495.0 866.4h0M1553.5 862.5h0M1555.6 879.5h0M1519.6 879.1h0M1533.2 872.9h0M1521.3 854.2h0M1511.3 818.4h0M1507.4 876.9h0M1553.2 881.7h0M1497.6 841.0h0M1499.6 865.9h0M1544.0 858.3h0M1525.5 857.6h0M1532.8 815.2h0M1548.6 881.1h0M1528.9 870.3h0M1488.2 852.5h0M1549.0 880.3h0M1543.1 851.0h0M1528.7 800.5h0M1556.7 844.8h0M1537.6 873.9h0M1519.3 813.5h0M1528.9 858.4h0M1497.8 879.1h0M1515.6 853.3h0M1536.4 871.4h0M1518.8 817.1h0M1529.9 839.9h0M1489.8 866.9h0M1491.6 873.7h0M1536.4 871.4h0M1524.7 863.8h0M1498.7 878.9h0M1495.0 855.9h0M1538.0 876.7h0M1486.9 870.9h0M1500.6 831.0h0M1557.0 877.7h0M1540.3 881.0h0M1511.1 852.4h0M1488.8 875.2h0M1505.3 817.9h0M1529.0 838.1h0M1524.9 877.6h0M1487.6 832.8h0M1485.7 842.0h0M1505.9 850.7h0M1549.4 838.9h0M1548.7 859.5h0M1519.3 857.4h0M1504.0 869.0h0M1557.2 804.9h0M1497.3 880.8h0M1518.9 874.2h0M1522.0 860.2h0M1555.6 854.8h0M1511.1 850.9h0M1519.1 874.2h0M1496.2 853.2h0M1523.6 856.2h0M1537.0 853.5h0M1537.9 857.2h0M1511.0 870.1h0M1487.4 877.6h0M1529.3 872.7h0M1525.1 876.9h0M1525.5 827.9h0M1547.7 860.4h0M1543.8 868.5h0M1559.6 852.6h0M1487.1 874.4h0M1553.4 870.6h0M1504.5 857.1h0M1523.3 855.2h0M1559.6 857.1h0M1487.6 870.2h0M1491.6 841.0h0M1537.9 813.5h0M1546.2 878.7h0M1487.8 860.6h0M1509.0 832.4h0M1522.2 875.2h0M1510.7 855.1h0M1546.7 870.7h0M1552.3 878.0h0M1511.3 846.6h0M1543.3 869.0h0M1543.7 871.0h0M1487.1 873.1h0M1551.7 823.1h0M1514.6 862.9h0M1540.7 876.6h0M1518.7 803.8h0M1543.2 877.1h0M1551.5 846.8h0M1538.9 873.1h0M1527.4 878.8h0M1527.3 869.3h0M1520.9 832.6h0M1534.9 879.2h0M1561.0 871.0h0M1527.7 872.2h0M1513.3 877.6h0M1527.2 861.4h0M1522.5 877.4h0M1503.1 877.8h0M1497.0 867.4h0M1549.5 812.3h0M1533.8 880.3h0M1488.0 816.4h0M1543.4 870.8h0M1558.2 796.6h0M1560.5 849.5h0M1495.2 879.2h0M1492.2 825.2h0M1543.9 851.4h0M1498.9 876.6h0M1542.5 871.4h0M1522.7 867.4h0M1540.2 860.2h0M1541.4 812.9h0M1559.9 849.8h0M1509.8 819.3h0M1508.0 872.2h0M1496.5 852.5h0M1521.3 865.2h0M1526.9 849.5h0M1531.2 851.0h0M1514.2 881.8h0M1492.7 880.2h0M1529.8 879.9h0M1490.2 842.1h0M1534.3 871.4h0M1530.2 853.4h0M1493.0 820.6h0M1492.3 857.0h0M1493.4 850.2h0M1493.6 863.0h0M1493.0 866.1h0M1492.6 828.5h0M1493.3 863.2h0M1492.7 789.0h0M1493.1 824.9h0M1493.1 831.7h0M1492.1 871.8h0M1493.7 809.0h0M1493.1 787.6h0M1493.4 836.2h0M1493.8 827.5h0M1511.2 852.5h0M1510.7 867.8h0M1510.8 832.5h0M1511.0 862.7h0M1511.6 804.9h0M1511.3 788.0h0M1510.7 799.1h0M1510.8 794.3h0M1511.3 871.0h0M1511.4 821.1h0M1510.9 881.6h0M1511.0 874.1h0M1510.4 868.9h0M1511.0 882.1h0M1511.0 879.5h0M1531.1 878.9h0M1531.6 842.6h0M1532.1 810.6h0M1532.0 877.9h0M1531.5 876.4h0M1532.2 809.9h0M1531.5 862.5h0M1531.4 859.3h0M1531.4 861.4h0M1532.5 838.8h0M1531.6 791.2h0M1531.8 804.6h0M1530.4 817.3h0M1531.5 871.3h0M1532.5 837.2h0M1531.7 837.2h0M1531.2 870.2h0M1531.8 835.2h0M1544.4 815.8h0M1544.5 829.4h0M1543.6 873.1h0M1544.7 881.1h0M1544.0 855.7h0M1545.0 823.0h0M1544.3 875.2h0M1542.9 834.0h0M1544.2 881.9h0M1544.6 860.3h0M1544.3 812.3h0M1544.0 836.7h0M1352.9 682.3h0M1354.9 703.8h0M1352.2 738.0h0M1345.7 746.8h0M1359.1 754.6h0M1363.4 751.7h0M1348.9 763.4h0M1359.1 763.4h0M1359.1 766.9h0M1364.7 769.3h0M1361.7 770.8h0M1348.4 776.6h0M1347.9 780.5h0M1358.6 778.6h0M1361.9 778.1h0M1392.6 686.7h0M1393.2 716.5h0M1406.5 670.1h0M1410.3 680.3h0M1411.2 693.5h0M1410.3 723.4h0M1418.6 731.2h0M1414.5 744.4h0M1405.9 761.0h0M1415.9 762.0h0M1415.7 766.9h0M1414.9 770.3h0M1418.9 775.7h0M1406.5 778.6h0M1392.6 777.1h0M1410.0 670.1h0M1410.0 676.9h0M1410.0 682.3h0M1410.0 684.7h0M1410.0 691.1h0M1410.0 693.0h0M1410.0 711.6h0M1410.0 720.9h0M1410.0 763.4h0M1410.0 772.2h0M1410.0 778.1h0M1493.0 640.3h0M1511.0 679.4h0M1511.0 683.8h0M1534.2 682.3h0M1531.7 692.6h0M1534.5 703.3h0M1543.4 699.9h0M1515.6 728.7h0M1531.7 739.5h0M1538.8 743.9h0M1493.0 745.3h0M1493.0 753.2h0M1525.8 750.7h0M1530.9 755.1h0M1534.2 754.6h0M1531.7 760.5h0M1511.0 756.6h0M1515.6 762.0h0M1495.2 767.8h0M1508.2 765.9h0M1550.8 760.5h0M1544.3 767.3h0M1531.7 768.8h0M1537.6 771.3h0M1540.7 773.7h0M1540.7 779.1h0M1567.3 778.6h0M1508.2 780.1h0M1515.6 778.6h0M1515.6 781.0h0" stroke="#BBBBBB" stroke-width="2.4" stroke-linecap="round" fill="none"/>
<path d="M1298.2 865.1h0M1328.6 855.5h0M1314.0 798.7h0M1317.8 874.5h0M1327.8 856.3h0M1340.9 819.5h0M1306.1 882.6h0M1317.3 859.2h0M1336.9 854.4h0M1304.0 866.6h0M1314.0 882.9h0M1307.0 882.6h0M1337.1 837.8h0M1326.4 850.6h0M1313.0 878.0h0M1337.8 876.4h0M1311.9 855.9h0M1331.1 872.5h0M1309.0 821.7h0M1314.0 852.5h0M1309.1 794.5h0M1326.1 859.6h0M1307.9 835.7h0M1319.1 820.4h0M1325.4 880.6h0M1309.0 800.3h0M1309.1 872.9h0M1302.6 861.6h0M1335.5 859.9h0M1322.5 881.6h0M1333.5 854.3h0M1325.9 832.5h0M1309.5 875.5h0M1331.6 821.9h0M1339.5 831.9h0M1298.2 874.4h0M1324.6 859.5h0M1325.7 799.8h0M1308.0 786.5h0M1322.1 827.6h0M1341.8 880.1h0M1335.3 879.1h0M1328.3 870.2h0M1338.8 871.2h0M1316.5 882.2h0M1326.5 845.3h0M1324.2 814.4h0M1307.7 873.3h0M1332.7 816.3h0M1318.9 877.0h0M1328.3 858.0h0M1336.0 815.0h0M1303.5 870.0h0M1299.9 874.7h0M1340.0 828.6h0M1311.4 840.2h0M1338.6 880.8h0M1339.4 855.8h0M1297.9 880.0h0M1320.0 840.4h0M1340.1 866.8h0M1302.0 807.9h0M1323.9 865.8h0M1317.7 864.0h0M1335.8 869.3h0M1315.2 800.4h0M1297.5 865.9h0M1321.9 854.4h0M1323.4 866.7h0M1339.1 814.1h0M1326.0 828.9h0M1311.4 858.1h0M1330.3 869.0h0M1312.1 882.8h0M1341.3 882.1h0M1305.1 842.9h0M1306.1 827.1h0M1328.8 837.5h0M1341.0 836.3h0M1297.4 877.1h0M1297.4 847.5h0M1336.9 855.0h0M1340.2 869.8h0M1313.3 854.1h0M1308.8 862.9h0M1310.3 867.3h0M1297.0 878.5h0M1316.8 877.9h0M1325.2 863.7h0M1311.2 871.7h0M1299.0 870.1h0M1317.5 881.0h0M1329.9 876.8h0M1313.7 871.9h0M1314.0 878.4h0M1330.7 861.1h0M1313.0 841.3h0M1318.9 878.2h0M1328.5 863.4h0M1298.9 786.2h0M1334.7 871.9h0M1341.1 881.1h0M1332.0 844.1h0M1324.3 861.5h0M1316.8 881.1h0M1340.7 874.6h0M1323.2 864.2h0M1328.6 826.0h0M1313.6 843.5h0M1313.8 874.9h0M1331.9 852.6h0M1308.7 862.1h0M1328.0 880.6h0M1312.0 881.3h0M1308.8 863.0h0M1321.7 830.2h0M1296.7 789.6h0M1318.5 790.4h0M1302.0 822.7h0M1340.9 877.2h0M1322.4 831.6h0M1296.9 878.5h0M1314.5 868.9h0M1307.3 876.6h0M1298.5 822.4h0M1302.3 862.5h0M1320.9 858.9h0M1302.1 856.9h0M1338.3 845.3h0M1317.3 848.5h0M1306.4 792.0h0M1304.4 855.0h0M1302.7 843.0h0M1309.8 861.8h0M1298.1 849.0h0M1322.0 814.5h0M1295.4 844.6h0M1325.1 842.5h0M1340.1 880.2h0M1302.9 873.7h0M1330.5 872.6h0M1318.9 879.9h0M1331.6 866.2h0M1324.6 875.8h0M1309.8 832.0h0M1330.9 798.2h0M1299.3 866.2h0M1314.8 878.0h0M1299.6 827.4h0M1314.3 841.7h0M1300.0 844.3h0M1321.9 872.2h0M1341.8 818.8h0M1305.1 857.7h0M1305.9 787.6h0M1318.1 843.1h0M1342.3 858.0h0M1298.0 802.3h0M1309.2 873.7h0M1339.8 870.0h0M1338.1 867.9h0M1329.5 877.2h0M1339.3 821.2h0M1311.5 845.7h0M1327.1 877.9h0M1318.8 882.9h0M1318.1 852.5h0M1296.7 865.9h0M1339.7 843.0h0M1316.6 880.8h0M1312.5 872.8h0M1337.8 844.9h0M1341.3 847.3h0M1309.2 876.7h0M1331.5 834.3h0M1342.2 880.3h0M1339.8 881.0h0M1317.2 882.7h0M1325.6 815.7h0M1319.3 877.6h0M1332.1 871.4h0M1325.1 878.6h0M1297.2 834.9h0M1339.3 877.9h0M1296.5 871.8h0M1309.9 871.4h0M1325.3 864.3h0M1328.5 868.8h0M1338.9 821.1h0M1307.3 875.2h0M1323.7 881.5h0M1313.7 872.9h0M1316.9 849.7h0M1302.5 861.0h0M1301.7 856.5h0M1321.9 847.9h0M1337.3 871.2h0M1332.0 856.7h0M1298.7 876.8h0M1340.8 835.8h0M1305.9 872.7h0M1304.1 855.5h0M1336.0 818.8h0M1307.4 867.4h0M1335.9 838.3h0M1296.3 868.5h0M1315.8 858.8h0M1309.3 866.9h0M1341.4 839.0h0M1340.4 788.1h0M1319.9 860.8h0M1306.8 881.1h0M1323.5 865.2h0M1317.9 811.7h0M1327.0 864.0h0M1338.4 881.7h0M1319.6 835.4h0M1303.4 866.1h0M1301.1 857.1h0M1309.1 829.2h0M1340.0 882.8h0M1299.2 820.3h0M1307.4 864.3h0M1328.8 883.0h0M1338.9 871.3h0M1315.3 877.5h0M1317.9 882.0h0M1315.0 849.0h0M1320.7 868.4h0M1305.8 881.7h0M1325.1 874.7h0M1309.1 853.8h0M1338.7 861.0h0M1313.4 870.8h0M1315.0 855.1h0M1306.9 879.9h0M1317.0 865.2h0M1339.8 858.8h0M1307.6 833.5h0M1295.8 878.8h0M1308.2 868.9h0M1339.0 868.9h0M1297.3 848.3h0M1326.7 864.5h0M1321.3 869.7h0M1317.3 880.1h0M1314.7 872.0h0M1295.6 860.1h0M1312.8 841.9h0M1326.9 800.8h0M1299.1 881.9h0M1321.5 873.7h0M1330.0 876.2h0M1327.9 882.3h0M1314.8 844.4h0M1322.6 878.5h0M1339.1 833.6h0M1310.2 841.7h0M1309.8 878.4h0M1297.1 880.9h0M1341.7 859.8h0M1306.5 875.2h0M1299.0 821.2h0M1321.3 831.7h0M1339.5 858.6h0M1310.3 825.8h0M1326.8 860.1h0M1297.6 854.6h0M1336.5 848.8h0M1322.7 881.8h0M1341.7 860.0h0M1342.0 861.0h0M1313.0 867.2h0M1312.6 863.7h0M1307.8 872.8h0M1310.5 856.9h0M1307.4 878.3h0M1298.8 840.9h0M1297.7 852.5h0M1341.0 881.5h0M1306.4 878.1h0M1306.5 854.5h0M1334.7 855.7h0M1341.0 862.1h0M1305.8 851.9h0M1341.8 869.2h0M1324.9 881.5h0M1340.5 818.6h0M1303.1 820.0h0M1327.4 881.2h0M1329.0 797.8h0M1307.4 878.0h0M1327.0 883.0h0M1338.5 877.5h0M1308.5 863.6h0M1328.3 869.2h0M1309.0 858.6h0M1324.3 876.4h0M1339.6 874.8h0M1327.5 857.1h0M1331.2 865.2h0M1315.3 874.9h0M1308.9 863.3h0M1340.6 879.3h0M1327.3 874.1h0M1336.0 792.0h0M1316.9 867.2h0M1339.1 874.5h0M1327.8 866.3h0M1340.1 867.5h0M1296.7 800.2h0M1295.9 852.6h0M1334.4 882.1h0M1324.7 873.7h0M1314.0 856.2h0M1299.6 879.6h0M1339.8 860.3h0M1309.0 874.0h0M1325.6 867.8h0M1324.2 873.8h0M1313.6 871.1h0M1342.5 826.7h0M1325.8 868.0h0M1321.7 881.9h0M1310.1 881.4h0M1314.1 878.3h0M1307.3 837.6h0M1307.3 848.0h0M1338.4 852.1h0M1306.4 862.1h0M1337.6 873.8h0M1307.8 864.0h0M1297.6 866.6h0M1335.6 870.4h0M1333.5 878.8h0M1313.8 874.4h0M1341.6 846.2h0M1324.3 786.3h0M1311.3 877.6h0M1309.0 844.2h0M1328.5 879.2h0M1315.9 816.6h0M1303.1 832.6h0M1296.7 833.1h0M1313.8 871.5h0M1299.2 870.9h0M1330.6 875.8h0M1321.8 845.4h0M1314.5 882.5h0M1340.7 871.4h0M1315.0 881.8h0M1301.8 877.0h0M1316.1 838.3h0M1296.1 799.2h0M1306.0 860.1h0M1339.2 872.6h0M1313.3 873.0h0M1324.4 878.6h0M1301.1 872.4h0M1297.3 875.1h0M1337.9 836.6h0M1306.3 880.0h0M1304.6 811.6h0M1303.4 853.6h0M1310.1 881.4h0M1324.3 790.5h0M1332.3 844.2h0M1297.2 879.5h0M1310.6 881.7h0M1339.9 850.5h0M1298.6 872.2h0M1298.4 878.1h0M1331.7 846.7h0M1324.8 845.9h0M1310.8 873.5h0M1303.6 840.6h0M1330.9 863.0h0M1301.1 869.5h0M1330.6 838.5h0M1315.2 869.7h0M1309.4 878.5h0M1331.3 853.5h0M1339.2 848.2h0M1321.5 863.9h0M1301.3 857.1h0M1315.8 807.9h0M1339.4 871.7h0M1295.5 879.7h0M1335.3 874.8h0M1324.5 878.5h0M1306.4 833.5h0M1320.0 870.3h0M1320.6 877.1h0M1340.3 835.3h0M1318.1 877.5h0M1319.5 865.6h0M1326.3 878.6h0M1300.4 869.3h0M1303.6 860.2h0M1308.7 868.6h0M1313.1 881.3h0M1321.8 876.7h0M1331.8 877.8h0M1304.0 859.4h0M1300.4 881.9h0M1331.1 870.9h0M1325.2 805.2h0M1312.4 871.2h0M1321.0 846.7h0M1309.4 816.3h0M1313.1 878.7h0M1330.0 828.2h0M1324.2 874.9h0M1340.2 866.8h0M1338.0 871.7h0M1340.0 825.6h0M1317.9 874.8h0M1296.7 875.6h0M1296.0 863.7h0M1335.7 875.0h0M1318.0 832.4h0M1305.7 882.2h0M1340.3 865.2h0M1299.6 859.2h0M1312.0 833.6h0M1339.2 858.8h0M1311.9 868.3h0M1308.8 808.2h0M1297.5 851.6h0M1317.9 876.0h0M1327.0 864.2h0M1313.0 880.5h0M1313.9 852.7h0M1311.9 870.2h0M1324.1 842.1h0M1339.3 875.4h0M1329.5 807.1h0M1319.4 867.1h0M1325.6 877.0h0M1297.6 878.8h0M1321.9 878.3h0M1316.1 847.7h0M1340.1 874.2h0M1307.3 855.2h0M1297.9 877.6h0M1326.2 881.5h0M1309.5 837.4h0M1299.6 879.5h0M1320.6 865.2h0M1329.7 875.4h0M1304.4 863.7h0M1305.5 858.7h0M1313.2 869.2h0M1297.4 866.3h0M1317.6 875.7h0M1341.3 842.2h0M1341.4 854.5h0M1314.7 858.3h0M1302.8 855.5h0M1325.8 877.8h0M1331.8 875.8h0M1317.3 861.0h0M1329.0 882.3h0M1320.8 881.0h0M1304.7 872.7h0M1298.9 851.8h0M1338.6 844.2h0M1340.8 812.8h0M1325.2 864.5h0M1339.7 870.3h0M1330.4 879.6h0M1333.8 846.4h0M1323.6 879.1h0M1324.9 875.0h0M1301.9 841.4h0M1320.2 812.7h0M1323.9 880.3h0M1304.1 820.3h0M1334.6 877.6h0M1329.6 864.5h0M1310.5 817.2h0M1325.3 870.1h0M1336.9 861.2h0M1333.9 842.4h0M1331.2 841.8h0M1306.1 881.9h0M1340.3 880.2h0M1315.5 849.7h0M1308.3 864.2h0M1315.4 861.4h0M1332.3 856.6h0M1319.4 880.2h0M1313.7 858.6h0M1331.5 865.6h0M1321.0 799.5h0M1309.2 841.9h0M1315.1 879.0h0M1342.4 853.4h0M1304.1 806.2h0M1296.6 877.6h0M1331.8 852.0h0M1339.2 832.8h0M1341.5 858.7h0M1319.9 876.6h0M1332.1 862.3h0M1295.9 840.9h0M1306.2 863.5h0M1298.2 845.6h0M1327.1 832.9h0M1334.2 851.9h0M1320.1 866.4h0M1305.3 882.4h0M1314.4 847.5h0M1307.7 845.5h0M1307.2 869.6h0M1307.0 848.8h0M1335.5 848.4h0M1304.0 873.2h0M1333.5 858.1h0M1338.6 873.9h0M1309.3 874.1h0M1321.5 857.5h0M1301.4 799.9h0M1302.3 865.4h0M1308.4 831.9h0M1326.1 857.1h0M1326.7 870.0h0M1334.6 867.9h0M1315.2 862.0h0M1330.4 853.5h0M1309.9 860.5h0M1321.0 842.7h0M1305.3 801.5h0M1323.6 866.0h0M1333.9 866.6h0M1299.9 868.3h0M1323.1 828.8h0M1333.5 865.1h0M1341.1 875.4h0M1301.6 859.1h0M1298.1 818.8h0M1299.4 860.8h0M1298.1 878.2h0M1299.5 866.4h0M1298.7 823.7h0M1298.8 825.1h0M1298.9 853.4h0M1299.1 860.4h0M1298.2 873.0h0M1298.9 803.5h0M1298.4 878.9h0M1298.2 826.1h0M1299.4 880.5h0M1299.2 816.2h0M1299.0 828.7h0M1341.4 791.9h0M1342.6 881.5h0M1341.0 844.1h0M1341.3 876.6h0M1341.0 879.9h0M1341.7 853.6h0M1341.1 878.6h0M1342.4 872.3h0M1341.8 826.7h0M1341.8 867.8h0M1341.7 820.1h0M1340.8 871.8h0M1341.5 864.2h0M1342.1 851.1h0M1340.9 879.5h0M1341.9 875.0h0M1341.1 881.3h0M1341.6 810.0h0M1342.3 843.0h0M1341.9 853.3h0M1342.1 867.9h0M1341.0 842.6h0M1341.3 836.0h0M1341.4 865.4h0M1341.5 882.1h0M1341.4 849.0h0M1341.3 841.7h0M1342.2 880.7h0M1340.8 849.5h0M1340.7 852.5h0M1332.6 840.6h0M1331.8 876.1h0M1330.9 846.2h0M1331.8 882.3h0M1332.5 840.8h0M1331.5 872.6h0M1332.4 881.1h0M1331.4 879.1h0M1331.4 804.1h0M1331.6 869.7h0M1331.6 877.3h0M1332.4 876.5h0M1332.3 876.5h0M1331.9 824.9h0M1332.2 814.1h0M1331.3 871.2h0M1331.1 874.9h0M1331.9 879.1h0M1331.1 858.5h0M1330.8 873.1h0M1309.1 865.5h0M1309.3 879.2h0M1309.8 837.7h0M1310.3 874.9h0M1310.3 863.2h0M1309.2 828.0h0M1310.0 819.4h0M1310.1 880.1h0M1309.4 811.4h0M1310.0 881.9h0M1310.2 822.0h0M1309.3 862.8h0M1320.0 829.0h0M1320.2 854.6h0M1320.0 856.6h0M1319.2 879.2h0M1320.0 874.2h0M1319.7 858.3h0M1319.7 863.2h0M1319.7 856.9h0M1320.4 866.0h0M1320.0 877.9h0M1480.1 880.2h0M1432.4 843.8h0M1471.6 863.9h0M1471.6 846.1h0M1443.0 873.1h0M1452.9 832.7h0M1433.6 877.7h0M1464.7 872.8h0M1460.2 864.9h0M1438.5 828.7h0M1436.6 871.5h0M1465.4 866.5h0M1425.2 851.7h0M1443.0 877.9h0M1443.2 868.0h0M1483.5 857.9h0M1437.3 882.1h0M1437.1 868.2h0M1476.5 872.5h0M1449.8 878.8h0M1479.2 807.2h0M1427.8 876.0h0M1424.3 869.5h0M1478.2 796.8h0M1433.2 872.2h0M1426.8 876.8h0M1427.3 865.2h0M1465.4 879.9h0M1444.3 857.9h0M1447.6 879.3h0M1467.3 847.5h0M1424.0 808.2h0M1451.1 849.6h0M1454.9 877.7h0M1474.6 791.5h0M1476.8 866.4h0M1437.5 788.2h0M1431.6 869.5h0M1442.3 807.9h0M1428.8 875.9h0M1454.1 879.5h0M1461.0 846.0h0M1422.6 859.8h0M1467.1 791.5h0M1439.9 852.4h0M1453.7 839.6h0M1422.4 872.3h0M1453.5 875.9h0M1480.4 880.9h0M1450.0 873.3h0M1470.5 866.6h0M1443.0 860.8h0M1428.8 866.0h0M1478.6 832.7h0M1477.0 857.0h0M1434.6 845.3h0M1483.4 875.4h0M1463.3 879.4h0M1441.2 830.7h0M1428.3 846.1h0M1479.3 841.6h0M1453.9 877.0h0M1477.6 827.5h0M1451.9 825.4h0M1421.9 880.6h0M1477.7 856.6h0M1440.8 846.3h0M1456.2 826.4h0M1476.8 882.6h0M1446.3 861.6h0M1424.8 875.9h0M1426.3 852.7h0M1458.0 856.0h0M1445.4 837.3h0M1479.7 851.6h0M1434.3 868.0h0M1420.8 878.3h0M1454.2 869.8h0M1424.6 867.8h0M1452.2 874.2h0M1444.1 881.0h0M1443.1 873.4h0M1460.7 826.9h0M1424.4 853.1h0M1456.4 855.6h0M1427.6 876.8h0M1477.7 877.4h0M1474.5 871.0h0M1429.2 868.2h0M1456.5 825.8h0M1457.9 881.2h0M1443.9 838.2h0M1441.5 859.4h0M1470.8 869.0h0M1477.1 851.9h0M1447.5 836.8h0M1467.4 858.9h0M1482.5 865.1h0M1452.4 862.6h0M1477.0 858.2h0M1461.3 882.2h0M1479.2 871.2h0M1477.3 874.9h0M1449.1 803.2h0M1456.5 865.4h0M1471.6 850.5h0M1465.1 867.6h0M1478.0 879.0h0M1427.3 881.8h0M1421.3 865.5h0M1454.2 874.4h0M1448.8 870.9h0M1430.2 867.1h0M1477.6 879.3h0M1467.9 880.2h0M1463.2 814.8h0M1482.5 880.4h0M1447.2 876.3h0M1454.8 841.7h0M1430.8 812.3h0M1449.7 880.8h0M1483.0 872.5h0M1451.6 834.0h0M1477.5 868.2h0M1436.9 790.9h0M1466.9 848.2h0M1465.7 831.6h0M1450.1 875.4h0M1464.7 857.8h0M1438.3 858.9h0M1460.6 873.9h0M1467.6 822.2h0M1471.1 872.9h0M1473.3 818.7h0M1435.2 789.4h0M1452.0 875.2h0M1424.0 820.3h0M1452.3 850.1h0M1465.3 879.0h0M1439.7 815.2h0M1449.3 873.6h0M1445.5 870.0h0M1472.3 823.7h0M1458.5 855.1h0M1471.6 879.9h0M1472.0 863.3h0M1421.2 871.5h0M1445.1 876.5h0M1477.5 881.8h0M1472.8 862.9h0M1448.3 861.6h0M1450.5 851.7h0M1454.6 785.9h0M1467.6 832.2h0M1461.6 844.8h0M1420.3 872.6h0M1481.0 875.2h0M1448.5 865.6h0M1456.6 838.6h0M1456.8 830.3h0M1467.0 857.5h0M1424.9 873.8h0M1426.3 843.1h0M1433.1 845.5h0M1462.8 852.3h0M1438.5 853.4h0M1421.7 856.8h0M1476.7 869.8h0M1471.3 878.5h0M1454.1 870.4h0M1466.2 869.5h0M1436.9 820.3h0M1455.2 828.3h0M1429.9 873.3h0M1443.2 827.2h0M1441.0 863.9h0M1452.1 852.9h0M1427.4 851.9h0M1449.8 867.0h0M1462.9 861.2h0M1444.7 790.8h0M1438.7 856.1h0M1454.1 827.9h0M1471.6 800.3h0M1428.1 849.5h0M1469.0 847.1h0M1475.0 859.8h0M1478.2 874.2h0M1478.0 881.3h0M1474.0 823.2h0M1453.5 800.2h0M1454.7 865.9h0M1457.4 880.8h0M1483.4 868.3h0M1451.9 878.9h0M1479.7 877.9h0M1444.7 876.3h0M1473.4 865.3h0M1479.2 844.0h0M1457.1 794.1h0M1475.3 832.1h0M1480.3 849.1h0M1454.4 855.0h0M1429.3 870.9h0M1456.6 835.4h0M1467.9 872.7h0M1448.3 876.8h0M1463.4 824.2h0M1444.6 880.5h0M1464.9 876.6h0M1424.6 877.1h0M1473.9 815.2h0M1477.3 862.1h0M1438.9 874.4h0M1461.9 841.4h0M1473.4 872.2h0M1424.7 847.1h0M1449.6 876.5h0M1463.3 834.4h0M1475.0 874.9h0M1472.0 857.2h0M1471.5 858.2h0M1456.1 836.9h0M1422.3 875.7h0M1451.3 878.8h0M1465.1 818.9h0M1428.4 873.3h0M1436.2 873.3h0M1471.6 794.0h0M1430.0 851.1h0M1441.3 875.0h0M1443.0 815.5h0M1479.9 817.6h0M1461.3 827.0h0M1444.5 882.6h0M1481.3 847.8h0M1482.0 868.1h0M1473.3 872.3h0M1471.9 876.6h0M1458.1 840.5h0M1433.2 877.4h0M1450.2 863.7h0M1457.3 871.2h0M1451.6 869.8h0M1482.0 863.5h0M1478.7 816.3h0M1460.9 873.7h0M1443.4 858.2h0M1463.9 879.4h0M1479.6 838.4h0M1421.9 868.3h0M1482.3 860.3h0M1472.5 876.2h0M1427.5 876.0h0M1438.8 784.4h0M1443.8 849.3h0M1445.5 871.0h0M1443.2 859.1h0M1475.7 852.7h0M1434.7 874.6h0M1463.6 849.9h0M1477.3 803.9h0M1481.9 854.5h0M1434.9 844.0h0M1472.1 878.8h0M1428.4 871.0h0M1482.3 877.6h0M1438.8 878.3h0M1477.6 878.9h0M1466.4 877.3h0M1482.9 845.8h0M1439.0 795.7h0M1454.8 840.5h0M1479.1 875.2h0M1463.2 866.3h0M1450.7 816.7h0M1463.4 860.5h0M1424.6 869.3h0M1431.1 868.2h0M1432.7 854.5h0M1460.9 806.7h0M1467.5 865.2h0M1461.6 821.4h0M1479.7 866.6h0M1477.5 838.5h0M1428.7 881.5h0M1472.1 861.1h0M1480.0 862.8h0M1457.9 871.6h0M1424.4 850.3h0M1479.3 842.9h0M1424.8 872.7h0M1483.5 875.4h0M1427.1 832.5h0M1462.9 870.5h0M1422.2 841.5h0M1427.1 865.7h0M1438.0 866.6h0M1468.2 794.1h0M1426.8 881.4h0M1433.5 875.1h0M1455.2 817.1h0M1452.0 857.9h0M1477.8 845.2h0M1438.2 837.2h0M1481.6 845.4h0M1435.1 839.0h0M1421.5 866.8h0M1454.6 872.5h0M1473.6 854.2h0M1476.2 785.1h0M1453.7 812.0h0M1451.3 869.4h0M1475.2 861.3h0M1440.9 827.2h0M1423.6 881.6h0M1443.4 854.9h0M1425.3 880.4h0M1429.7 876.2h0M1473.3 808.9h0M1464.1 853.1h0M1454.0 856.6h0M1479.6 882.1h0M1444.2 861.4h0M1476.9 850.9h0M1479.4 812.1h0M1438.0 852.4h0M1424.0 873.3h0M1441.7 865.1h0M1445.9 882.3h0M1479.0 875.4h0M1463.7 865.1h0M1444.1 861.1h0M1440.6 879.1h0M1477.9 879.7h0M1430.4 866.2h0M1478.9 854.8h0M1420.0 882.2h0M1430.2 872.2h0M1435.8 788.4h0M1424.9 823.4h0M1477.3 880.0h0M1429.3 873.8h0M1432.5 861.6h0M1451.3 856.7h0M1450.3 824.8h0M1469.1 848.7h0M1431.8 799.6h0M1467.1 881.7h0M1439.2 869.8h0M1427.5 861.9h0M1424.2 874.6h0M1451.7 799.3h0M1470.1 811.6h0M1469.8 875.8h0M1468.3 818.8h0M1422.3 863.5h0M1426.3 802.2h0M1482.4 870.2h0M1458.6 832.4h0M1474.5 876.6h0M1425.0 866.8h0M1447.7 880.9h0M1446.3 871.7h0M1457.9 861.8h0M1456.3 850.5h0M1440.8 864.3h0M1467.2 870.7h0M1476.4 872.9h0M1435.6 861.9h0M1424.8 879.5h0M1424.6 868.0h0M1439.4 850.5h0M1435.4 877.7h0M1467.8 869.7h0M1434.3 822.5h0M1474.2 876.3h0M1433.0 820.4h0M1426.2 799.2h0M1446.9 874.7h0M1464.0 866.4h0M1470.2 849.1h0M1430.6 858.1h0M1448.9 869.6h0M1439.4 862.9h0M1424.2 870.5h0M1440.2 834.2h0M1435.1 845.0h0M1466.5 882.2h0M1435.1 847.9h0M1467.5 877.4h0M1451.8 795.8h0M1451.6 844.2h0M1470.0 860.2h0M1455.2 875.3h0M1478.8 833.7h0M1479.1 823.6h0M1467.5 858.9h0M1479.2 861.1h0M1423.2 817.9h0M1454.6 799.3h0M1474.3 846.9h0M1481.2 876.4h0M1471.2 875.5h0M1438.1 854.7h0M1453.6 882.9h0M1478.6 863.1h0M1427.4 827.7h0M1477.7 804.2h0M1448.4 850.9h0M1471.5 882.4h0M1479.5 800.1h0M1420.8 869.6h0M1471.8 864.8h0M1461.6 851.1h0M1449.6 863.7h0M1472.3 850.2h0M1435.1 853.4h0M1454.2 788.4h0M1435.2 858.9h0M1458.2 843.5h0M1477.8 871.9h0M1451.4 866.8h0M1434.3 875.2h0M1438.2 835.4h0M1429.1 876.4h0M1471.2 872.7h0M1438.1 849.6h0M1468.4 854.6h0M1437.7 839.4h0M1435.4 851.0h0M1450.0 851.6h0M1440.0 878.7h0M1438.5 848.4h0M1480.4 873.4h0M1459.9 861.4h0M1425.2 869.0h0M1463.7 868.6h0M1457.8 876.1h0M1424.2 868.5h0M1455.9 841.1h0M1464.6 876.1h0M1432.3 840.8h0M1482.7 845.7h0M1424.4 878.8h0M1449.2 876.4h0M1467.6 865.2h0M1476.0 881.4h0M1451.8 875.9h0M1482.3 863.3h0M1470.2 874.4h0M1440.7 870.7h0M1442.6 840.2h0M1459.7 861.1h0M1469.8 868.5h0M1443.2 882.0h0M1444.4 868.2h0M1458.9 863.2h0M1423.9 822.7h0M1422.3 876.5h0M1457.1 835.3h0M1438.6 857.7h0M1461.4 876.6h0M1457.4 864.4h0M1448.7 858.8h0M1457.0 882.2h0M1438.3 796.3h0M1420.3 879.7h0M1420.4 861.1h0M1434.2 845.3h0M1448.9 872.2h0M1477.5 793.9h0M1428.3 879.7h0M1437.9 865.4h0M1464.3 845.8h0M1479.7 803.3h0M1427.1 828.4h0M1450.8 864.6h0M1467.2 869.3h0M1426.8 825.7h0M1482.5 881.3h0M1425.3 826.4h0M1479.8 876.0h0M1451.7 858.6h0M1463.4 868.4h0M1474.3 871.9h0M1433.0 874.9h0M1465.3 848.3h0M1465.4 846.5h0M1427.1 869.0h0M1455.4 870.3h0M1432.5 841.0h0M1464.1 794.0h0M1448.6 786.6h0M1435.9 812.4h0M1464.9 878.5h0M1459.1 798.8h0M1477.6 874.9h0M1430.4 881.5h0M1470.5 876.3h0M1462.0 833.5h0M1443.1 877.4h0M1452.0 879.7h0M1420.3 808.9h0M1441.7 872.8h0M1458.3 866.3h0M1422.8 836.1h0M1438.2 864.0h0M1432.9 874.0h0M1474.9 874.4h0M1444.5 825.2h0M1458.0 868.3h0M1443.0 834.3h0M1475.9 870.8h0M1468.0 865.7h0M1465.1 814.7h0M1438.7 871.3h0M1423.4 844.9h0M1481.7 882.3h0M1438.6 880.8h0M1464.4 818.3h0M1469.8 862.8h0M1453.3 872.6h0M1459.1 874.5h0M1429.1 868.2h0M1461.4 879.7h0M1456.7 881.3h0M1478.0 877.1h0M1431.1 863.1h0M1448.7 882.3h0M1476.1 864.7h0M1422.4 830.8h0M1463.6 864.0h0M1449.5 840.6h0M1441.3 830.3h0M1423.0 865.3h0M1425.5 872.3h0M1451.5 862.3h0M1478.7 805.2h0M1435.2 852.0h0M1457.6 859.5h0M1429.2 881.5h0M1473.2 832.5h0M1435.3 865.0h0M1449.5 865.1h0M1477.3 881.8h0M1443.5 866.8h0M1444.6 869.8h0M1475.5 822.1h0M1449.2 877.2h0M1433.2 873.9h0M1469.2 864.3h0M1432.5 847.5h0M1465.1 873.5h0M1448.2 879.4h0M1477.6 880.8h0M1444.1 829.1h0M1480.1 852.6h0M1472.9 876.3h0M1428.0 831.7h0M1456.4 873.5h0M1477.4 848.0h0M1435.6 855.1h0M1449.3 822.9h0M1438.6 832.1h0M1479.0 879.9h0M1425.6 872.0h0M1436.1 862.0h0M1432.8 824.7h0M1441.1 879.9h0M1474.6 857.9h0M1457.9 854.1h0M1479.3 865.3h0M1475.5 866.4h0M1452.1 875.6h0M1423.3 875.7h0M1440.8 832.3h0M1431.5 829.5h0M1468.6 839.1h0M1438.2 845.3h0M1431.4 858.0h0M1421.2 797.1h0M1479.1 837.9h0M1473.2 858.0h0M1472.3 872.9h0M1438.1 849.7h0M1455.3 797.6h0M1456.3 863.0h0M1439.2 881.8h0M1426.0 846.3h0M1461.7 880.5h0M1463.3 861.2h0M1474.9 816.7h0M1455.9 877.7h0M1479.0 877.3h0M1474.8 832.1h0M1459.4 877.4h0M1479.4 856.9h0M1479.0 864.5h0M1427.1 873.5h0M1436.4 835.1h0M1424.5 827.4h0M1436.3 836.3h0M1420.9 865.1h0M1466.9 839.9h0M1477.4 851.4h0M1477.4 880.5h0M1444.0 875.2h0M1479.8 817.1h0M1473.2 877.5h0M1466.7 851.7h0M1419.4 842.9h0M1480.5 863.3h0M1423.4 841.9h0M1444.9 877.1h0M1454.0 822.5h0M1478.2 858.7h0M1477.2 872.9h0M1452.1 867.2h0M1477.0 878.8h0M1440.5 882.6h0M1450.4 882.7h0M1423.7 878.9h0M1473.9 875.2h0M1424.5 859.8h0M1426.6 831.4h0M1434.8 868.0h0M1453.7 862.0h0M1476.0 881.5h0M1472.0 857.1h0M1476.7 830.6h0M1427.6 877.2h0M1456.1 829.5h0M1463.2 867.7h0M1455.5 864.3h0M1443.1 876.6h0M1459.5 878.5h0M1453.8 869.2h0M1461.9 879.8h0M1482.4 847.4h0M1453.5 849.3h0M1482.9 850.0h0M1426.1 862.1h0M1476.7 838.1h0M1478.8 872.4h0M1478.9 882.5h0M1449.7 878.0h0M1424.7 854.7h0M1427.8 799.8h0M1480.8 848.7h0M1455.2 873.2h0M1425.6 876.5h0M1420.0 860.3h0M1427.4 792.1h0M1443.7 876.7h0M1457.5 882.3h0M1435.6 862.7h0M1463.3 879.8h0M1450.0 841.9h0M1438.0 880.4h0M1472.2 849.8h0M1449.4 855.7h0M1469.9 839.9h0M1471.5 874.5h0M1425.5 868.3h0M1479.5 822.8h0M1470.9 879.2h0M1435.9 870.7h0M1465.6 867.1h0M1449.0 853.5h0M1449.4 849.6h0M1478.7 817.9h0M1474.6 865.9h0M1476.3 880.8h0M1434.8 875.1h0M1479.1 858.9h0M1465.2 856.4h0M1451.5 860.7h0M1444.0 867.9h0M1447.7 878.0h0M1435.8 822.8h0M1434.6 869.9h0M1470.5 809.0h0M1421.7 839.0h0M1478.0 877.8h0M1446.8 872.2h0M1431.8 846.0h0M1481.3 867.9h0M1480.9 835.7h0M1479.2 871.6h0M1447.5 882.3h0M1432.9 807.6h0M1476.3 876.8h0M1473.8 867.6h0M1482.1 864.2h0M1428.4 878.5h0M1447.4 841.9h0M1433.1 871.7h0M1435.3 854.9h0M1476.3 860.8h0M1481.3 826.0h0M1476.2 875.2h0M1438.6 846.5h0M1428.2 845.0h0M1441.6 880.4h0M1462.2 881.4h0M1474.0 873.9h0M1467.8 790.6h0M1424.2 840.1h0M1464.6 881.5h0M1448.2 849.9h0M1477.0 828.5h0M1450.2 858.8h0M1479.0 846.0h0M1448.4 834.1h0M1440.5 874.6h0M1429.3 876.8h0M1478.7 872.9h0M1453.4 852.7h0M1452.4 828.0h0M1471.8 877.3h0M1433.1 822.1h0M1423.5 863.4h0M1477.5 872.1h0M1467.2 870.6h0M1470.4 868.8h0M1466.5 866.8h0M1461.1 876.0h0M1476.4 876.8h0M1439.2 839.5h0M1452.7 874.9h0M1459.0 877.0h0M1438.4 841.8h0M1424.1 860.1h0M1478.8 824.9h0M1477.9 857.7h0M1479.6 828.4h0M1477.5 843.3h0M1478.0 869.9h0M1480.9 879.0h0M1479.3 830.1h0M1476.7 873.4h0M1442.6 837.5h0M1473.4 872.0h0M1478.5 869.4h0M1476.8 830.8h0M1436.2 868.4h0M1453.9 879.3h0M1440.4 864.1h0M1425.6 865.6h0M1474.7 826.1h0M1443.4 878.6h0M1467.8 872.4h0M1438.0 877.4h0M1438.2 872.7h0M1438.9 866.0h0M1449.7 879.0h0M1468.6 877.2h0M1465.0 863.9h0M1467.1 821.4h0M1420.0 829.7h0M1419.3 792.8h0M1420.2 876.1h0M1419.4 805.9h0M1420.1 838.0h0M1419.2 866.7h0M1419.9 839.5h0M1419.6 870.8h0M1419.4 802.8h0M1419.5 865.9h0M1420.0 830.5h0M1419.4 813.4h0M1419.7 812.0h0M1419.7 881.5h0M1419.9 841.4h0M1419.8 812.1h0M1419.4 882.1h0M1419.9 872.6h0M1419.6 829.9h0M1418.9 882.2h0M1420.6 860.4h0M1420.0 865.8h0M1420.1 877.3h0M1420.0 881.9h0M1419.7 865.2h0M1419.2 813.7h0M1419.8 862.5h0M1419.8 796.9h0M1419.5 841.2h0M1419.0 792.7h0M1419.7 830.7h0M1419.3 873.0h0M1419.9 811.6h0M1419.1 872.0h0M1419.7 879.6h0M1419.7 836.8h0M1419.7 811.1h0M1418.9 858.5h0M1419.4 848.4h0M1420.0 853.8h0M1419.9 877.7h0M1420.3 860.9h0M1419.3 853.4h0M1419.7 811.2h0M1419.6 855.1h0M1419.4 869.0h0M1419.8 874.1h0M1420.1 868.5h0M1419.8 860.7h0M1419.8 803.7h0M1420.4 798.2h0M1419.5 793.8h0M1419.8 859.5h0M1420.3 847.0h0M1420.1 832.4h0M1420.1 871.7h0M1420.5 796.8h0M1419.8 843.8h0M1420.1 841.7h0M1419.0 868.5h0M1419.8 854.3h0M1420.0 809.2h0M1419.4 866.6h0M1420.2 822.3h0M1420.0 827.5h0M1419.8 882.4h0M1419.6 857.7h0M1420.4 855.2h0M1419.6 825.9h0M1419.7 810.2h0M1428.1 846.8h0M1429.3 865.9h0M1429.0 844.7h0M1429.2 844.0h0M1429.5 795.4h0M1428.7 873.0h0M1429.1 837.5h0M1428.3 879.5h0M1428.5 846.8h0M1428.8 823.4h0M1427.9 874.3h0M1429.7 881.5h0M1428.2 860.3h0M1428.5 807.0h0M1428.6 812.9h0M1443.0 877.2h0M1442.8 830.2h0M1442.9 881.6h0M1441.7 818.3h0M1442.6 880.5h0M1442.9 802.6h0M1442.7 841.7h0M1443.7 880.7h0M1442.3 835.0h0M1443.4 843.8h0M1443.4 834.4h0M1442.7 871.8h0M1443.2 848.6h0M1442.1 833.1h0M1443.0 835.2h0M1442.7 872.6h0M1441.5 830.1h0M1442.1 865.2h0M1455.5 861.4h0M1455.2 828.5h0M1455.0 842.8h0M1455.6 860.7h0M1455.8 868.0h0M1455.2 802.0h0M1455.0 831.9h0M1454.4 854.8h0M1454.7 846.9h0M1455.5 879.2h0M1454.8 855.3h0M1455.9 818.3h0M1454.4 863.0h0M1454.3 877.1h0M1454.7 833.6h0M1455.0 862.7h0M1454.7 866.9h0M1455.3 834.7h0M1471.8 816.8h0M1472.7 819.5h0M1472.2 859.9h0M1472.7 857.7h0M1472.0 846.9h0M1473.0 819.8h0M1471.9 852.6h0M1472.7 863.2h0M1472.1 873.3h0M1473.2 862.0h0M1472.6 847.8h0M1471.7 881.4h0M1472.4 870.6h0M1471.9 869.3h0M1472.4 789.9h0M1480.3 873.4h0M1481.0 823.7h0M1480.4 841.2h0M1480.5 857.7h0M1481.1 815.3h0M1480.9 873.6h0M1480.8 856.9h0M1482.1 877.9h0M1481.4 841.8h0M1481.6 815.1h0M1481.5 875.5h0M1480.6 859.9h0M1483.0 856.8h0M1483.3 839.8h0M1483.0 855.7h0M1482.5 877.2h0M1483.2 836.5h0M1483.4 823.5h0M1483.3 862.8h0M1482.7 839.6h0M1483.1 871.7h0M1483.3 833.3h0M1483.4 855.1h0M1483.1 843.1h0M1483.0 842.0h0M1483.1 824.5h0M1482.5 821.1h0M1483.3 808.7h0M1482.6 873.3h0M1483.1 832.3h0M1483.2 868.2h0M1483.2 855.6h0M1483.3 879.8h0M1483.1 866.7h0M1483.5 861.7h0M1483.7 791.8h0M1482.9 853.2h0M1483.3 874.5h0M1482.5 874.8h0M1483.2 791.1h0M1483.2 792.4h0M1482.5 873.5h0M1483.1 834.9h0M1483.5 853.3h0M1483.8 872.0h0M1483.0 866.0h0M1482.7 801.8h0M1582.0 830.7h0M1582.5 845.9h0M1577.1 878.4h0M1572.1 864.6h0M1562.4 852.3h0M1580.7 800.8h0M1574.9 848.2h0M1582.2 868.6h0M1583.2 878.6h0M1574.8 864.2h0M1572.2 828.4h0M1567.4 880.8h0M1574.0 880.5h0M1582.9 865.2h0M1564.5 806.8h0M1574.2 878.8h0M1572.7 844.4h0M1583.5 869.7h0M1584.3 870.8h0M1579.2 867.5h0M1579.8 840.6h0M1582.9 869.6h0M1567.7 846.7h0M1571.5 857.5h0M1584.1 827.4h0M1574.0 873.2h0M1582.5 872.1h0M1583.5 868.1h0M1563.5 876.4h0M1582.4 874.0h0M1582.6 850.9h0M1582.7 817.6h0M1579.3 859.9h0M1575.9 877.7h0M1572.0 838.0h0M1583.5 860.7h0M1574.0 840.9h0M1582.6 881.6h0M1582.3 845.1h0M1579.2 854.2h0M1566.8 871.8h0M1568.4 850.4h0M1584.2 878.9h0M1566.6 832.8h0M1576.9 855.7h0M1567.3 880.2h0M1583.4 848.6h0M1575.0 868.6h0M1580.0 876.3h0M1575.9 864.3h0M1579.9 841.9h0M1581.9 841.9h0M1569.1 877.2h0M1572.6 834.7h0M1572.4 849.0h0M1583.8 874.7h0M1578.0 864.4h0M1576.2 821.9h0M1579.5 855.4h0M1563.2 845.6h0M1574.5 880.8h0M1574.9 876.0h0M1574.4 858.4h0M1563.8 881.9h0M1568.3 820.8h0M1571.1 865.7h0M1579.4 842.0h0M1576.1 839.7h0M1574.6 838.0h0M1579.6 848.8h0M1572.0 814.7h0M1571.6 878.3h0M1583.3 869.0h0M1575.9 881.3h0M1583.7 861.6h0M1583.4 824.0h0M1574.7 879.9h0M1571.3 875.3h0M1569.8 844.5h0M1573.8 840.4h0M1578.7 869.1h0M1583.2 875.8h0M1577.0 810.3h0M1580.2 852.6h0M1567.4 869.4h0M1578.5 853.1h0M1574.8 877.9h0M1583.5 870.1h0M1568.0 873.9h0M1571.9 876.5h0M1584.2 877.9h0M1583.4 795.6h0M1564.3 842.5h0M1573.9 874.9h0M1572.4 876.5h0M1567.7 873.6h0M1568.8 860.5h0M1580.1 849.3h0M1580.4 852.7h0M1580.3 833.2h0M1580.7 806.9h0M1582.6 857.9h0M1580.0 882.4h0M1574.2 849.2h0M1575.0 810.6h0M1570.3 876.8h0M1581.9 869.7h0M1576.6 882.5h0M1569.5 866.9h0M1583.0 881.9h0M1574.0 856.7h0M1574.7 876.2h0M1582.0 872.0h0M1569.9 855.7h0M1583.7 881.0h0M1582.4 862.8h0M1567.8 863.6h0M1583.9 882.0h0M1567.2 864.0h0M1575.5 876.9h0M1584.5 812.5h0M1579.4 854.1h0M1575.8 871.2h0M1576.3 838.1h0M1569.1 863.9h0M1574.0 845.7h0M1569.7 856.6h0M1571.7 874.7h0M1575.1 853.9h0M1583.4 854.7h0M1583.7 878.5h0M1574.4 833.7h0M1584.2 826.4h0M1574.6 870.1h0M1579.6 822.1h0M1563.3 878.6h0M1584.3 804.1h0M1574.7 863.7h0M1569.8 879.7h0M1564.0 870.3h0M1579.7 868.6h0M1574.0 852.6h0M1575.2 859.2h0M1580.6 877.0h0M1572.1 867.1h0M1570.6 860.2h0M1577.8 834.0h0M1571.1 857.4h0M1583.0 875.0h0M1568.3 871.4h0M1574.2 857.4h0M1565.0 879.7h0M1568.5 865.2h0M1579.3 875.7h0M1583.5 876.6h0M1571.4 868.6h0M1569.3 842.8h0M1582.4 860.4h0M1568.8 871.9h0M1569.4 847.6h0M1572.5 879.9h0M1575.9 859.1h0M1583.1 827.9h0M1576.3 847.0h0M1573.8 863.7h0M1569.1 830.9h0M1579.7 829.9h0M1563.3 859.4h0M1584.1 848.2h0M1578.5 848.3h0M1580.1 866.6h0M1583.1 871.9h0M1563.3 877.6h0M1566.8 839.1h0M1576.1 797.4h0M1582.9 874.5h0M1583.5 838.1h0M1581.5 869.4h0M1568.4 866.5h0M1573.5 860.9h0M1569.5 859.4h0M1568.2 880.2h0M1568.2 862.5h0M1580.1 867.7h0M1573.3 804.8h0M1579.8 874.1h0M1569.9 867.9h0M1582.8 859.2h0M1567.3 882.5h0M1573.2 842.0h0M1564.1 837.0h0M1580.8 880.4h0M1583.9 817.2h0M1577.5 831.0h0M1579.2 865.0h0M1578.5 878.6h0M1568.6 882.2h0M1563.9 870.7h0M1575.4 849.6h0M1575.5 826.5h0M1598.7 882.2h0M1604.9 877.3h0M1604.1 868.3h0M1591.5 873.1h0M1602.0 873.1h0M1630.8 877.0h0M1632.6 861.1h0M1624.0 875.3h0M1630.7 867.0h0M1631.1 873.5h0M1623.5 862.2h0M1596.6 882.6h0M1635.6 869.3h0M1594.4 863.4h0M1623.8 876.2h0M1592.0 878.8h0M1597.5 845.1h0M1636.0 879.7h0M1596.7 871.8h0M1609.7 827.1h0M1605.3 866.5h0M1624.3 873.6h0M1617.8 840.8h0M1635.5 852.4h0M1636.4 828.7h0M1618.3 863.6h0M1619.0 851.1h0M1635.1 878.7h0M1591.2 859.7h0M1615.1 859.2h0M1617.3 851.2h0M1623.4 866.3h0M1592.9 832.8h0M1587.9 881.0h0M1612.1 869.3h0M1635.3 867.6h0M1595.7 878.4h0M1596.7 863.0h0M1611.8 869.8h0M1624.4 872.1h0M1591.3 873.2h0M1601.9 871.7h0M1622.0 856.2h0M1620.2 839.5h0M1591.8 864.6h0M1636.6 878.6h0M1623.8 816.8h0M1597.5 846.2h0M1591.0 866.9h0M1624.4 874.4h0M1585.8 879.6h0M1626.8 876.6h0M1636.2 877.6h0M1624.0 881.3h0M1623.7 869.0h0M1600.5 864.3h0M1607.9 860.5h0M1622.5 856.7h0M1597.7 881.1h0M1629.3 870.9h0M1592.5 832.3h0M1585.8 866.1h0M1630.0 878.9h0M1623.7 874.2h0M1606.0 873.7h0M1636.1 873.8h0M1635.6 864.6h0M1606.4 875.5h0M1623.2 876.5h0M1633.7 879.2h0M1599.8 868.5h0M1592.6 877.0h0M1600.1 873.3h0M1614.1 851.5h0M1635.6 862.6h0M1596.7 844.7h0M1592.5 876.3h0M1593.2 867.7h0M1610.9 882.8h0M1624.0 868.4h0M1620.8 873.0h0M1602.6 872.8h0M1593.2 870.4h0M1621.4 845.5h0M1597.5 865.2h0M1635.4 880.7h0M1594.4 882.7h0M1601.8 870.9h0M1599.9 854.3h0M1636.3 842.9h0M1611.7 822.5h0M1610.6 874.1h0M1597.3 873.8h0M1597.0 880.4h0M1593.1 878.7h0M1633.4 878.3h0M1609.0 871.4h0M1599.0 872.0h0M1604.2 873.6h0M1597.5 854.3h0M1635.4 877.7h0M1635.8 876.1h0M1609.8 880.6h0M1618.8 876.4h0M1597.2 880.3h0M1636.0 840.7h0M1620.7 866.5h0M1619.2 866.3h0M1619.5 875.1h0M1614.7 882.3h0M1616.9 871.0h0M1635.5 882.3h0M1637.1 866.5h0M1621.0 840.9h0M1590.8 881.9h0M1630.1 872.8h0M1606.3 877.2h0M1592.5 872.8h0M1588.9 844.7h0M1585.9 857.0h0M1635.0 842.2h0M1616.1 829.7h0M1597.0 852.7h0M1619.8 852.7h0M1618.7 879.1h0M1619.9 848.5h0M1592.0 878.4h0M1624.0 865.7h0M1624.2 863.3h0M1596.5 862.4h0M1603.5 874.6h0M1628.0 873.3h0M1631.8 877.0h0M1635.6 882.5h0M1597.3 829.7h0M1592.4 842.5h0M1589.8 875.1h0M1633.8 874.6h0M1599.2 875.0h0M1623.8 869.5h0M1628.6 878.9h0M1596.8 880.2h0M1635.8 832.5h0M1634.8 875.8h0M1635.9 843.9h0M1604.3 881.0h0M1635.6 870.2h0M1595.7 880.4h0M1591.5 875.3h0M1605.5 869.7h0M1566.5 854.2h0M1566.4 810.5h0M1566.7 850.4h0M1566.2 839.2h0M1566.3 865.9h0M1566.2 860.0h0M1566.9 798.1h0M1566.3 873.7h0M1566.1 854.3h0M1566.4 809.3h0M1566.6 814.6h0M1566.1 862.0h0M1566.5 871.4h0M1566.5 867.8h0M1566.2 856.3h0M1566.3 869.7h0M1567.1 872.5h0M1566.4 796.7h0M1566.5 875.7h0M1566.1 847.2h0M1566.8 865.5h0M1566.8 868.9h0M1565.9 870.7h0M1566.3 817.1h0M1565.7 880.0h0M1566.5 788.1h0M1566.6 875.4h0M1566.7 856.8h0M1566.5 880.0h0M1566.2 822.7h0M1566.0 882.0h0M1567.0 854.1h0M1566.1 835.1h0M1566.4 876.6h0M1566.5 848.3h0M1566.4 842.8h0M1566.2 843.6h0M1566.4 868.2h0M1566.8 844.7h0M1566.5 877.5h0M1566.4 862.4h0M1566.8 846.9h0M1566.6 878.2h0M1566.5 827.7h0M1566.6 868.1h0M1598.0 850.9h0M1598.0 881.5h0M1598.6 836.4h0M1598.7 878.2h0M1598.6 877.0h0M1598.3 841.4h0M1598.0 872.7h0M1598.8 871.0h0M1598.5 854.6h0M1598.7 878.7h0M1598.7 861.6h0M1599.1 873.2h0M1598.4 880.3h0M1598.9 862.1h0M1598.4 876.7h0M1599.0 873.5h0M1598.8 845.3h0M1598.9 838.4h0M1598.4 866.2h0M1598.8 837.0h0M1598.9 877.7h0M1598.1 877.6h0M1598.2 852.0h0M1598.4 878.3h0M1598.7 860.1h0M1584.9 866.1h0M1586.2 822.2h0M1584.9 872.6h0M1586.1 882.1h0M1585.0 800.6h0M1585.7 822.6h0M1585.5 874.7h0M1584.6 854.4h0M1584.6 818.5h0M1585.5 846.2h0M1586.1 842.1h0M1584.4 791.2h0M1584.6 813.6h0M1584.4 854.5h0M1585.5 801.7h0M1604.6 862.0h0M1604.0 795.8h0M1604.1 865.0h0M1604.5 875.5h0M1604.4 875.0h0M1603.6 805.7h0M1604.5 872.6h0M1604.0 828.5h0M1604.3 869.4h0M1603.6 861.2h0M1605.1 837.3h0M1604.0 824.2h0M1620.0 852.8h0M1619.1 868.7h0M1618.7 839.4h0M1618.8 829.6h0M1619.7 850.7h0M1619.8 873.4h0M1619.6 863.8h0M1619.9 859.2h0M1619.4 788.6h0M1620.1 850.3h0M1619.2 868.4h0M1619.2 816.5h0M1575.6 817.9h0M1574.6 879.2h0M1575.7 865.3h0M1575.2 826.5h0M1575.1 864.1h0M1575.0 880.6h0M1574.3 805.2h0M1574.9 852.1h0M1575.0 871.6h0M1575.2 862.4h0M1575.2 864.6h0M1574.4 825.7h0M1629.6 815.2h0M1630.4 859.3h0M1630.9 844.0h0M1630.1 876.9h0M1630.7 832.1h0M1630.7 816.5h0M1628.9 850.0h0M1630.1 873.5h0M1341.5 652.5h0M1341.5 664.2h0M1331.8 674.0h0M1341.5 694.0h0M1298.5 735.6h0M1298.5 739.5h0M1298.5 743.9h0M1298.5 751.7h0M1306.9 743.9h0M1310.7 746.8h0M1310.7 754.6h0M1316.2 754.6h0M1327.7 754.6h0M1309.8 763.9h0M1312.5 763.9h0M1316.8 764.4h0M1320.5 764.9h0M1304.0 767.3h0M1341.5 740.0h0M1341.5 759.5h0M1341.5 769.3h0M1341.5 777.6h0M1331.8 769.8h0M1332.8 772.2h0M1326.9 782.5h0M1331.6 782.0h0M1315.1 785.9h0M1298.5 787.4h0M1430.4 675.4h0M1421.7 694.0h0M1421.7 702.8h0M1454.9 686.2h0M1454.9 694.0h0M1454.9 702.8h0M1423.0 745.8h0M1429.1 754.1h0M1442.5 741.9h0M1442.5 750.7h0M1442.5 759.5h0M1462.3 760.5h0M1421.8 776.6h0M1422.1 774.2h0M1424.9 778.6h0M1430.9 780.5h0M1441.9 779.1h0M1441.9 781.5h0M1472.6 707.2h0M1462.2 760.5h0M1476.3 760.0h0M1480.0 760.0h0M1480.0 766.4h0M1472.6 778.6h0M1585.1 722.4h0M1564.7 742.4h0M1568.9 744.4h0M1575.8 743.4h0M1579.2 745.3h0M1585.1 740.0h0M1585.1 743.9h0M1604.2 747.8h0M1582.9 760.5h0M1567.1 766.9h0M1578.6 766.9h0M1619.3 771.3h0M1567.1 784.9h0M1567.1 787.4h0M1575.9 787.4h0M1607.3 781.5h0M1604.2 784.9h0M1619.3 785.9h0" stroke="#000" stroke-width="2.5" stroke-linecap="round" fill="none"/>
<path d="M1415.0 783.5h0M1511.0 714.1h0M1511.0 733.1h0M1469.6 759.0h0" stroke="#F68B12" stroke-width="5.6" stroke-linecap="round" fill="none"/>
</svg>
</body></html>
